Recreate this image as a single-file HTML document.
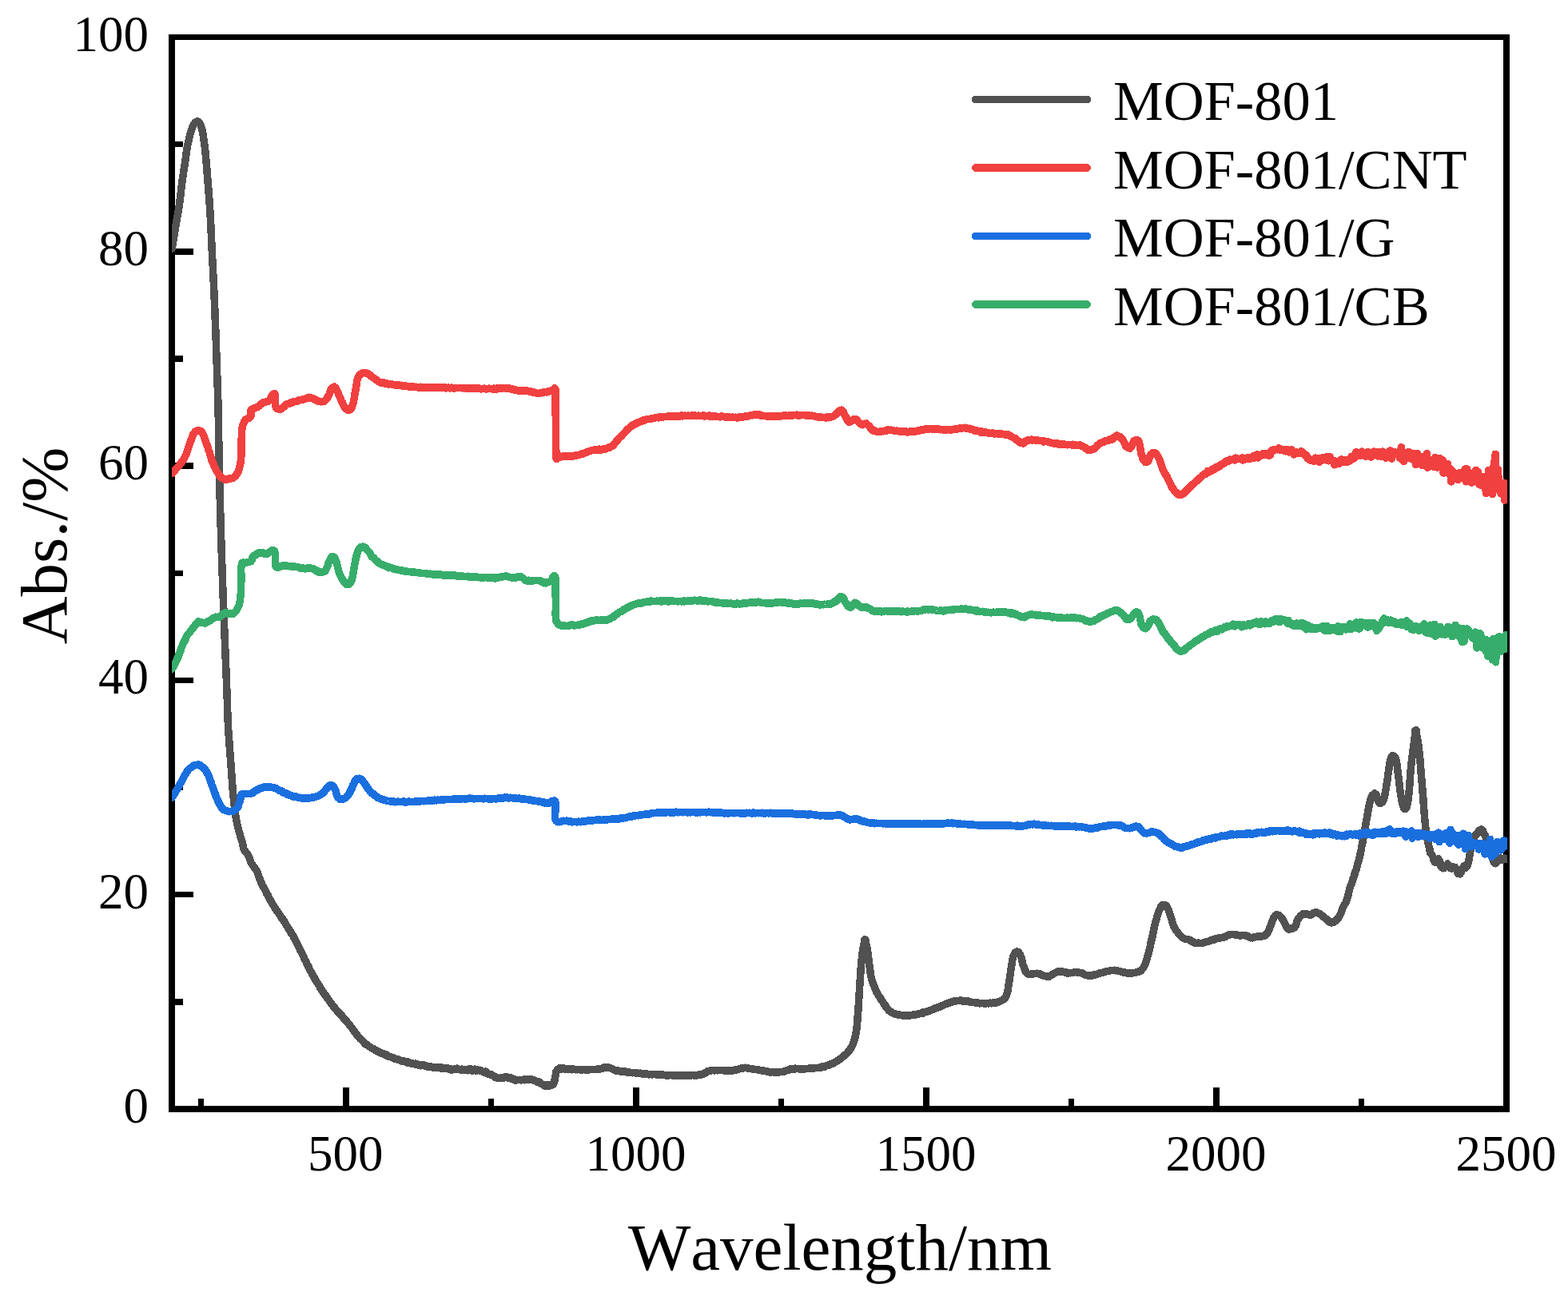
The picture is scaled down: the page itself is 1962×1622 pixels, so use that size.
<!DOCTYPE html>
<html lang="en">
<head>
<meta charset="utf-8">
<title>Absorption spectra of MOF-801 composites</title>
<style>
html,body{margin:0;padding:0;background:#ffffff;}
body{width:1962px;height:1622px;overflow:hidden;}
svg{display:block;}
text{font-family:"Liberation Serif",serif;fill:#000000;font-kerning:none;}
.tick{font-size:63px;}
.title{font-size:83px;}
.legend{font-size:70.5px;}
.curve{fill:none;stroke-linejoin:round;stroke-linecap:round;}
</style>
</head>
<body>
<svg width="1962" height="1622" viewBox="0 0 1962 1622">
<rect x="0" y="0" width="1962" height="1622" fill="#ffffff"/>
<defs><clipPath id="plotclip"><rect x="215.0" y="36.5" width="1671.0" height="1361.5"/></clipPath></defs>
<g id="axes" fill="#000000" shape-rendering="crispEdges">
<rect x="211" y="43" width="8" height="1349"/>
<rect x="1881" y="43" width="8" height="1349"/>
<rect x="211" y="43" width="1678" height="7"/>
<rect x="211" y="1384" width="1678" height="8"/>
<rect x="248" y="1375" width="7" height="10"/>
<rect x="429" y="1361" width="8" height="24"/>
<rect x="611" y="1375" width="7" height="10"/>
<rect x="792" y="1361" width="8" height="24"/>
<rect x="974" y="1375" width="7" height="10"/>
<rect x="1155" y="1361" width="8" height="24"/>
<rect x="1337" y="1375" width="7" height="10"/>
<rect x="1518" y="1361" width="8" height="24"/>
<rect x="1700" y="1375" width="7" height="10"/>
<rect x="218" y="1250" width="11" height="8"/>
<rect x="218" y="1116" width="24" height="7"/>
<rect x="218" y="982" width="11" height="7"/>
<rect x="218" y="848" width="24" height="7"/>
<rect x="218" y="714" width="11" height="7"/>
<rect x="218" y="579" width="24" height="8"/>
<rect x="218" y="445" width="11" height="8"/>
<rect x="218" y="311" width="24" height="8"/>
<rect x="218" y="177" width="11" height="7"/>
</g>
<g id="curves" clip-path="url(#plotclip)" shape-rendering="crispEdges">
<path class="curve" stroke="#515151" stroke-width="9.50" d="M215.0 311.5L215.1 311.0L215.3 310.0L215.4 309.0L215.6 308.0L215.8 307.0L215.9 306.0L216.1 305.0L216.3 304.0L216.4 303.0L216.6 302.0L216.8 301.0L216.9 300.0L217.1 299.0L217.3 298.0L217.4 297.0L217.6 296.0L217.8 295.0L217.9 294.0L218.1 293.0L218.3 292.0L218.4 291.0L218.6 290.1L218.8 289.1L218.9 288.1L219.1 287.1L219.3 286.1L219.4 285.1L219.6 284.1L219.8 283.1L219.9 282.1L220.1 281.1L220.3 280.1L220.5 279.1L220.6 278.1L220.8 277.1L221.0 276.1L221.2 275.1L221.4 274.1L221.5 273.1L221.7 272.1L221.9 271.1L222.1 270.1L222.3 269.1L222.5 268.1L222.6 267.1L222.8 266.1L223.0 265.1L223.2 264.1L223.3 263.1L223.5 262.1L223.7 261.1L223.8 260.1L224.0 259.1L224.2 258.1L224.3 257.1L224.4 256.1L224.6 255.1L224.7 254.1L224.8 253.1L225.0 252.1L225.1 251.1L225.2 250.1L225.3 249.1L225.5 248.1L225.6 247.1L225.7 246.1L225.8 245.1L225.9 244.1L226.0 243.1L226.2 242.1L226.3 241.0L226.4 240.0L226.5 239.0L226.6 238.0L226.7 237.0L226.8 236.0L226.9 235.0L227.1 234.0L227.2 233.0L227.3 232.0L227.4 231.0L227.5 230.0L227.7 229.0L227.8 228.0L227.9 227.0L228.1 226.0L228.2 224.9L228.4 223.9L228.5 222.9L228.7 221.9L228.8 220.9L229.0 219.8L229.2 218.8L229.3 217.8L229.5 216.8L229.6 215.8L229.8 214.7L229.9 213.7L230.1 212.7L230.3 211.7L230.4 210.7L230.6 209.7L230.7 208.6L230.9 207.6L231.0 206.6L231.2 205.6L231.3 204.6L231.5 203.6L231.6 202.5L231.8 201.5L231.9 200.5L232.1 199.5L232.2 198.5L232.3 197.5L232.5 196.5L232.6 195.5L232.7 194.5L232.9 193.4L233.0 192.4L233.1 191.4L233.3 190.4L233.4 189.4L233.6 188.4L233.7 187.4L233.9 186.4L234.1 185.4L234.3 184.4L234.4 183.4L234.6 182.4L234.9 181.4L235.1 180.4L235.3 179.4L235.5 178.5L235.7 177.5L235.9 176.5L236.2 175.5L236.4 174.5L236.6 173.5L236.8 172.5L237.1 171.5L237.3 170.4L237.5 169.4L237.8 168.4L238.0 167.4L238.3 166.4L238.6 165.4L238.9 164.4L239.2 163.4L239.5 162.4L239.9 161.5L240.2 160.5L240.6 159.6L241.0 158.6L241.4 157.7L241.9 156.8L242.4 155.9L243.0 155.0L243.6 154.1L244.4 153.2L245.2 152.5L246.1 152.1L247.1 152.0L248.1 152.4L249.0 153.1L249.7 154.1L250.3 155.0L250.8 155.9L251.2 156.9L251.6 157.8L251.9 158.8L252.2 159.8L252.5 160.9L252.7 161.9L253.0 162.9L253.2 163.9L253.4 164.9L253.6 165.9L253.8 166.9L254.0 167.9L254.1 168.9L254.3 169.9L254.4 170.9L254.6 172.0L254.7 173.0L254.9 174.0L255.0 175.0L255.1 176.0L255.3 177.0L255.4 178.0L255.6 179.0L255.7 180.0L255.9 180.9L256.0 181.9L256.1 182.9L256.3 183.9L256.4 184.9L256.5 185.9L256.6 186.9L256.7 187.9L256.8 188.9L256.9 189.9L257.0 190.9L257.1 191.9L257.2 192.9L257.3 193.9L257.4 194.9L257.5 195.9L257.6 196.9L257.6 197.9L257.7 198.9L257.8 199.8L257.9 200.8L258.0 201.8L258.1 202.8L258.2 203.8L258.3 204.8L258.3 205.8L258.4 206.8L258.5 207.8L258.6 208.8L258.7 209.8L258.8 210.8L258.8 211.8L258.9 212.8L259.0 213.8L259.1 214.8L259.2 215.8L259.2 216.8L259.3 217.8L259.4 218.8L259.5 219.8L259.6 220.8L259.6 221.8L259.7 222.8L259.8 223.8L259.9 224.8L260.0 225.9L260.0 226.9L260.1 227.9L260.2 228.9L260.3 229.9L260.4 230.9L260.5 231.9L260.5 232.9L260.6 233.9L260.7 234.9L260.8 235.9L260.8 236.9L260.9 237.9L261.0 238.9L261.1 239.9L261.2 240.9L261.2 241.9L261.3 243.0L261.4 244.0L261.5 245.0L261.5 246.0L261.6 247.0L261.7 248.0L261.8 249.0L261.8 250.0L261.9 251.0L262.0 252.0L262.1 253.0L262.1 254.0L262.2 255.0L262.3 256.0L262.3 257.0L262.4 258.0L262.5 259.1L262.5 260.1L262.6 261.1L262.7 262.1L262.7 263.1L262.8 264.1L262.9 265.1L262.9 266.1L263.0 267.1L263.1 268.1L263.1 269.1L263.2 270.1L263.2 271.1L263.3 272.1L263.3 273.1L263.4 274.1L263.4 275.2L263.5 276.2L263.6 277.2L263.6 278.2L263.7 279.2L263.7 280.2L263.8 281.2L263.8 282.2L263.8 283.2L263.9 284.2L263.9 285.2L264.0 286.2L264.0 287.2L264.1 288.2L264.1 289.2L264.2 290.2L264.2 291.3L264.3 292.3L264.3 293.3L264.4 294.3L264.4 295.3L264.4 296.3L264.5 297.3L264.5 298.3L264.6 299.3L264.6 300.3L264.7 301.3L264.7 302.3L264.8 303.3L264.8 304.3L264.8 305.3L264.9 306.3L264.9 307.4L265.0 308.4L265.0 309.4L265.1 310.4L265.1 311.4L265.2 312.4L265.2 313.4L265.3 314.4L265.3 315.4L265.4 316.4L265.4 317.4L265.5 318.4L265.5 319.4L265.6 320.4L265.6 321.4L265.7 322.4L265.7 323.5L265.8 324.5L265.8 325.5L265.9 326.5L265.9 327.5L266.0 328.5L266.0 329.5L266.1 330.5L266.2 331.5L266.2 332.5L266.3 333.5L266.3 334.5L266.4 335.5L266.4 336.5L266.5 337.5L266.5 338.5L266.6 339.5L266.6 340.6L266.7 341.6L266.7 342.6L266.8 343.6L266.8 344.6L266.9 345.6L266.9 346.6L267.0 347.6L267.0 348.6L267.1 349.6L267.1 350.6L267.2 351.6L267.2 352.6L267.3 353.6L267.3 354.6L267.4 355.6L267.4 356.7L267.5 357.7L267.5 358.7L267.6 359.7L267.6 360.7L267.7 361.7L267.7 362.7L267.8 363.7L267.8 364.7L267.9 365.7L267.9 366.7L268.0 367.7L268.0 368.7L268.0 369.7L268.1 370.7L268.1 371.7L268.2 372.8L268.2 373.8L268.3 374.8L268.3 375.8L268.4 376.8L268.4 377.8L268.4 378.8L268.5 379.8L268.5 380.8L268.6 381.8L268.6 382.8L268.6 383.8L268.7 384.8L268.7 385.8L268.8 386.8L268.8 387.8L268.8 388.8L268.9 389.9L268.9 390.9L269.0 391.9L269.0 392.9L269.0 393.9L269.1 394.9L269.1 395.9L269.2 396.9L269.2 397.9L269.2 398.9L269.3 399.9L269.3 400.9L269.4 401.9L269.4 402.9L269.4 403.9L269.5 404.9L269.5 406.0L269.6 407.0L269.6 408.0L269.6 409.0L269.7 410.0L269.7 411.0L269.7 412.0L269.8 413.0L269.8 414.0L269.9 415.0L269.9 416.0L269.9 417.0L270.0 418.0L270.0 419.0L270.0 420.0L270.1 421.0L270.1 422.1L270.2 423.1L270.2 424.1L270.2 425.1L270.3 426.1L270.3 427.1L270.3 428.1L270.4 429.1L270.4 430.1L270.4 431.1L270.5 432.1L270.5 433.1L270.5 434.1L270.6 435.1L270.6 436.1L270.6 437.1L270.7 438.1L270.7 439.2L270.7 440.2L270.8 441.2L270.8 442.2L270.8 443.2L270.9 444.2L270.9 445.2L270.9 446.2L271.0 447.2L271.0 448.2L271.0 449.2L271.1 450.2L271.1 451.2L271.1 452.2L271.2 453.2L271.2 454.2L271.2 455.3L271.3 456.3L271.3 457.3L271.3 458.3L271.4 459.3L271.4 460.3L271.4 461.3L271.5 462.3L271.5 463.3L271.6 464.3L271.6 465.3L271.6 466.3L271.7 467.3L271.7 468.3L271.7 469.3L271.8 470.3L271.8 471.3L271.8 472.3L271.9 473.3L271.9 474.3L271.9 475.4L272.0 476.4L272.0 477.4L272.0 478.4L272.1 479.4L272.1 480.4L272.1 481.4L272.2 482.4L272.2 483.4L272.2 484.4L272.3 485.4L272.3 486.4L272.3 487.4L272.4 488.4L272.4 489.4L272.4 490.4L272.5 491.4L272.5 492.4L272.5 493.4L272.6 494.4L272.6 495.4L272.6 496.4L272.7 497.4L272.7 498.4L272.7 499.5L272.8 500.5L272.8 501.5L272.8 502.5L272.8 503.5L272.9 504.5L272.9 505.5L272.9 506.5L272.9 507.5L273.0 508.5L273.0 509.5L273.0 510.5L273.0 511.5L273.1 512.5L273.1 513.5L273.1 514.5L273.1 515.5L273.1 516.5L273.2 517.5L273.2 518.5L273.2 519.5L273.2 520.5L273.2 521.5L273.3 522.5L273.3 523.5L273.3 524.5L273.3 525.5L273.3 526.5L273.4 527.5L273.4 528.5L273.4 529.5L273.4 530.5L273.4 531.5L273.4 532.5L273.5 533.5L273.5 534.5L273.5 535.5L273.5 536.5L273.5 537.5L273.5 538.5L273.6 539.5L273.6 540.5L273.6 541.5L273.6 542.5L273.6 543.5L273.6 544.5L273.7 545.5L273.7 546.5L273.7 547.5L273.7 548.5L273.7 549.5L273.7 550.5L273.7 551.5L273.8 552.5L273.8 553.5L273.8 554.5L273.8 555.5L273.8 556.5L273.8 557.5L273.9 558.5L273.9 559.5L273.9 560.5L273.9 561.5L273.9 562.5L273.9 563.5L274.0 564.5L274.0 565.5L274.0 566.5L274.0 567.5L274.0 568.5L274.0 569.5L274.1 570.5L274.1 571.5L274.1 572.5L274.1 573.5L274.1 574.5L274.1 575.5L274.2 576.5L274.2 577.5L274.2 578.5L274.2 579.5L274.2 580.5L274.2 581.5L274.3 582.5L274.3 583.5L274.3 584.5L274.3 585.5L274.3 586.5L274.4 587.5L274.4 588.5L274.4 589.5L274.4 590.5L274.4 591.5L274.5 592.5L274.5 593.5L274.5 594.5L274.5 595.5L274.6 596.5L274.6 597.5L274.6 598.5L274.6 599.5L274.6 600.5L274.7 601.5L274.7 602.5L274.7 603.6L274.7 604.6L274.8 605.6L274.8 606.6L274.8 607.6L274.8 608.6L274.9 609.6L274.9 610.6L274.9 611.6L274.9 612.6L275.0 613.6L275.0 614.6L275.0 615.6L275.0 616.6L275.1 617.6L275.1 618.6L275.1 619.6L275.1 620.6L275.2 621.7L275.2 622.7L275.2 623.7L275.3 624.7L275.3 625.7L275.3 626.7L275.3 627.7L275.4 628.7L275.4 629.7L275.4 630.7L275.4 631.7L275.5 632.7L275.5 633.7L275.5 634.7L275.6 635.7L275.6 636.7L275.6 637.7L275.6 638.7L275.7 639.7L275.7 640.8L275.7 641.8L275.8 642.8L275.8 643.8L275.8 644.8L275.8 645.8L275.9 646.8L275.9 647.8L275.9 648.8L276.0 649.8L276.0 650.8L276.0 651.8L276.0 652.8L276.1 653.8L276.1 654.8L276.1 655.8L276.2 656.8L276.2 657.8L276.2 658.9L276.3 659.9L276.3 660.9L276.3 661.9L276.3 662.9L276.4 663.9L276.4 664.9L276.4 665.9L276.5 666.9L276.5 667.9L276.5 668.9L276.6 669.9L276.6 670.9L276.6 671.9L276.7 672.9L276.7 673.9L276.7 674.9L276.7 675.9L276.8 676.9L276.8 677.9L276.8 678.9L276.9 679.9L276.9 680.9L276.9 681.9L277.0 682.9L277.0 683.9L277.0 684.9L277.1 685.9L277.1 686.9L277.1 687.9L277.2 688.9L277.2 689.9L277.2 690.9L277.3 691.9L277.3 692.9L277.3 693.9L277.4 694.9L277.4 695.9L277.4 696.9L277.5 697.9L277.5 698.9L277.5 699.9L277.6 700.9L277.6 701.9L277.6 702.9L277.7 703.9L277.7 704.9L277.7 705.9L277.8 706.9L277.8 707.9L277.8 708.9L277.9 709.9L277.9 710.9L277.9 711.9L278.0 712.9L278.0 713.9L278.0 714.9L278.1 715.9L278.1 716.9L278.1 717.9L278.2 718.9L278.2 719.9L278.3 720.9L278.3 721.9L278.3 722.9L278.4 723.9L278.4 724.9L278.4 725.9L278.5 726.9L278.5 727.9L278.5 728.9L278.6 729.9L278.6 730.9L278.6 731.9L278.7 732.9L278.7 733.9L278.7 734.9L278.8 735.9L278.8 736.9L278.9 737.9L278.9 738.9L278.9 739.9L279.0 740.9L279.0 741.9L279.0 742.9L279.1 743.9L279.1 744.9L279.1 745.9L279.2 746.9L279.2 747.9L279.3 748.9L279.3 749.9L279.3 750.9L279.4 751.9L279.4 752.9L279.4 753.9L279.5 754.9L279.5 755.9L279.6 756.9L279.6 757.9L279.6 758.9L279.7 759.9L279.7 760.9L279.8 761.9L279.8 762.9L279.8 763.9L279.9 764.9L279.9 765.9L279.9 766.9L280.0 767.9L280.0 768.9L280.1 769.9L280.1 770.9L280.1 771.9L280.2 773.0L280.2 774.0L280.3 775.0L280.3 776.0L280.3 777.0L280.4 778.0L280.4 779.0L280.5 780.0L280.5 781.0L280.5 782.0L280.6 783.0L280.6 784.0L280.7 785.0L280.7 786.0L280.7 787.0L280.8 788.0L280.8 789.0L280.9 790.0L280.9 791.0L280.9 792.0L281.0 793.0L281.0 794.0L281.1 795.0L281.1 796.0L281.1 797.0L281.2 798.0L281.2 799.0L281.3 800.0L281.3 801.0L281.3 802.0L281.4 803.0L281.4 804.0L281.5 805.0L281.5 806.0L281.5 807.0L281.6 808.0L281.6 809.0L281.7 810.0L281.7 811.0L281.7 812.0L281.8 813.0L281.8 814.0L281.9 815.0L281.9 816.0L281.9 817.0L282.0 818.0L282.0 819.1L282.1 820.1L282.1 821.1L282.2 822.1L282.2 823.1L282.2 824.1L282.3 825.1L282.3 826.1L282.4 827.1L282.4 828.1L282.4 829.1L282.5 830.1L282.5 831.1L282.6 832.1L282.6 833.1L282.6 834.1L282.7 835.1L282.7 836.1L282.8 837.1L282.8 838.1L282.9 839.1L282.9 840.1L282.9 841.1L283.0 842.1L283.0 843.1L283.1 844.1L283.1 845.1L283.1 846.1L283.2 847.1L283.2 848.1L283.3 849.1L283.3 850.2L283.3 851.2L283.4 852.2L283.4 853.2L283.5 854.2L283.5 855.2L283.5 856.2L283.6 857.2L283.6 858.2L283.7 859.2L283.7 860.2L283.7 861.2L283.8 862.2L283.8 863.2L283.9 864.2L283.9 865.2L283.9 866.2L284.0 867.2L284.0 868.2L284.0 869.2L284.1 870.2L284.1 871.2L284.2 872.2L284.2 873.3L284.2 874.3L284.3 875.3L284.3 876.3L284.3 877.3L284.4 878.3L284.4 879.3L284.4 880.3L284.5 881.3L284.5 882.3L284.5 883.3L284.5 884.3L284.6 885.3L284.6 886.3L284.6 887.4L284.7 888.4L284.7 889.4L284.7 890.4L284.8 891.4L284.8 892.4L284.8 893.4L284.9 894.4L284.9 895.4L284.9 896.4L285.0 897.4L285.0 898.4L285.1 899.4L285.1 900.4L285.1 901.4L285.2 902.5L285.2 903.5L285.3 904.5L285.3 905.5L285.3 906.5L285.4 907.5L285.4 908.5L285.5 909.5L285.5 910.5L285.6 911.5L285.6 912.5L285.7 913.6L285.8 914.6L285.8 915.6L285.9 916.6L286.0 917.6L286.0 918.6L286.1 919.6L286.2 920.7L286.3 921.7L286.4 922.7L286.4 923.7L286.5 924.7L286.6 925.7L286.7 926.7L286.8 927.8L286.8 928.8L286.9 929.8L287.0 930.8L287.1 931.8L287.1 932.8L287.2 933.8L287.3 934.9L287.4 935.9L287.4 936.9L287.5 937.9L287.6 938.9L287.7 939.9L287.7 940.9L287.8 941.9L287.9 943.0L288.0 944.0L288.1 945.0L288.1 946.0L288.2 947.0L288.3 948.0L288.4 949.0L288.4 950.0L288.5 951.1L288.6 952.1L288.7 953.1L288.7 954.1L288.8 955.1L288.9 956.1L289.0 957.1L289.0 958.2L289.1 959.2L289.2 960.2L289.3 961.2L289.3 962.2L289.4 963.2L289.5 964.2L289.6 965.2L289.6 966.2L289.7 967.3L289.8 968.3L289.8 969.3L289.9 970.3L290.0 971.3L290.0 972.3L290.1 973.3L290.2 974.3L290.3 975.3L290.3 976.3L290.4 977.4L290.5 978.4L290.5 979.4L290.6 980.4L290.7 981.4L290.8 982.4L290.8 983.4L290.9 984.4L291.0 985.4L291.1 986.4L291.2 987.5L291.2 988.5L291.3 989.5L291.4 990.5L291.5 991.5L291.6 992.5L291.7 993.5L291.8 994.5L291.9 995.5L292.0 996.5L292.1 997.5L292.2 998.6L292.3 999.6L292.4 1000.6L292.5 1001.6L292.6 1002.6L292.7 1003.6L292.8 1004.6L292.9 1005.6L293.0 1006.6L293.1 1007.6L293.2 1008.6L293.3 1009.6L293.4 1010.7L293.6 1011.7L293.7 1012.7L293.8 1013.7L293.9 1014.7L294.1 1015.7L294.2 1016.7L294.3 1017.7L294.5 1018.7L294.6 1019.7L294.8 1020.7L294.9 1021.7L295.1 1022.7L295.3 1023.7L295.4 1024.7L295.6 1025.7L295.8 1026.7L296.0 1027.7L296.2 1028.7L296.4 1029.7L296.6 1030.7L296.9 1031.7L297.1 1032.7L297.3 1033.7L297.5 1034.7L297.8 1035.7L298.0 1036.7L298.3 1037.7L298.5 1038.7L298.8 1039.7L299.0 1040.7L299.3 1041.6L299.6 1042.6L299.9 1043.6L300.2 1044.5L300.5 1045.5L300.8 1046.5L301.1 1047.4L301.4 1048.4L301.7 1049.4L302.0 1050.3L302.3 1051.3L302.6 1052.2L302.9 1053.2L303.2 1054.2L303.5 1055.2L303.7 1056.2L303.9 1057.3L304.1 1058.3L304.3 1059.4L304.5 1060.4L304.8 1061.4L305.1 1062.3L305.5 1063.3L306.0 1064.3L306.6 1065.1L307.2 1065.9L307.9 1066.8L308.6 1067.6L309.3 1068.4L309.8 1069.4L310.3 1070.1L310.8 1071.0L311.2 1071.9L311.6 1072.8L312.0 1073.8L312.3 1074.8L312.7 1075.9L313.0 1076.8L313.4 1077.6L313.8 1078.6L314.2 1079.6L314.7 1080.5L315.2 1081.3L315.7 1082.0L316.3 1082.9L316.9 1083.7L317.5 1084.4L318.1 1085.2L318.7 1086.4L319.3 1087.2L319.9 1087.9L320.4 1088.7L320.9 1089.4L321.3 1090.2L321.8 1091.0L322.2 1092.3L322.5 1093.5L322.9 1094.4L323.3 1095.3L323.6 1096.1L323.9 1096.9L324.3 1098.0L324.6 1099.1L325.0 1100.0L325.3 1100.8L325.7 1101.8L326.1 1102.9L326.5 1104.0L326.9 1104.9L327.4 1105.9L327.8 1106.8L328.3 1107.7L328.7 1108.6L329.2 1109.5L329.6 1110.2L330.1 1111.0L330.6 1112.0L331.1 1113.0L331.5 1113.9L332.0 1114.8L332.5 1115.8L333.0 1116.8L333.5 1117.7L333.9 1118.7L334.4 1119.8L334.9 1120.1L335.4 1120.5L335.8 1121.9L336.3 1123.0L336.8 1123.8L337.3 1125.1L337.8 1126.1L338.2 1126.7L338.7 1127.1L339.2 1127.9L339.7 1129.2L340.2 1129.9L340.7 1130.8L341.2 1132.0L341.8 1132.5L342.3 1133.2L342.8 1134.3L343.3 1135.1L343.9 1136.0L344.4 1136.8L345.0 1137.5L345.5 1138.1L346.1 1139.1L346.6 1140.4L347.2 1141.3L347.8 1141.9L348.4 1142.5L348.9 1143.3L349.5 1144.4L350.1 1145.3L350.7 1146.0L351.2 1146.8L351.8 1147.7L352.4 1148.8L352.9 1149.3L353.5 1149.9L354.1 1150.8L354.6 1151.3L355.2 1152.3L355.7 1153.3L356.2 1154.1L356.8 1155.0L357.3 1155.8L357.9 1156.9L358.4 1158.3L358.9 1158.9L359.5 1159.5L360.0 1160.4L360.5 1161.7L361.1 1162.5L361.6 1162.9L362.1 1163.4L362.7 1164.6L363.2 1165.7L363.7 1166.2L364.2 1167.6L364.7 1168.5L365.2 1168.8L365.8 1169.8L366.3 1170.6L366.8 1171.3L367.3 1172.5L367.8 1173.5L368.3 1174.2L368.7 1175.2L369.2 1176.2L369.7 1177.0L370.2 1177.9L370.7 1178.9L371.1 1180.0L371.6 1181.0L372.0 1181.9L372.5 1182.7L372.9 1183.4L373.4 1184.2L373.8 1185.0L374.3 1185.9L374.7 1187.1L375.2 1188.3L375.6 1189.6L376.1 1190.3L376.5 1190.7L377.0 1191.5L377.4 1192.4L377.8 1193.3L378.3 1194.2L378.7 1195.1L379.2 1196.0L379.7 1197.0L380.1 1198.0L380.6 1199.2L381.0 1200.4L381.4 1201.0L381.9 1201.8L382.3 1202.6L382.8 1203.3L383.2 1204.1L383.7 1205.3L384.1 1206.4L384.6 1207.3L385.0 1208.1L385.5 1208.8L385.9 1209.7L386.4 1210.7L386.8 1211.8L387.3 1212.9L387.7 1214.0L388.2 1214.8L388.7 1215.6L389.2 1216.4L389.7 1217.2L390.1 1218.1L390.6 1219.1L391.1 1219.9L391.6 1220.9L392.1 1222.2L392.6 1222.7L393.1 1223.1L393.6 1224.1L394.1 1225.2L394.6 1226.3L395.1 1226.8L395.6 1227.9L396.2 1228.9L396.7 1229.5L397.2 1230.3L397.7 1231.1L398.2 1231.9L398.8 1232.5L399.3 1233.3L399.8 1234.4L400.4 1235.9L400.9 1236.7L401.4 1237.3L402.0 1238.1L402.5 1239.0L403.1 1239.9L403.6 1240.7L404.2 1241.6L404.7 1242.2L405.3 1242.9L405.9 1243.8L406.4 1244.9L407.0 1245.6L407.6 1246.1L408.1 1246.9L408.7 1247.9L409.3 1248.7L409.9 1249.7L410.5 1250.6L411.1 1251.1L411.7 1251.8L412.2 1252.8L412.8 1253.9L413.5 1254.9L414.1 1255.4L414.7 1256.2L415.3 1257.0L415.9 1257.8L416.5 1258.8L417.2 1259.7L417.8 1260.5L418.5 1260.5L419.1 1262.0L419.8 1262.6L420.5 1263.2L421.1 1264.3L421.8 1265.1L422.5 1265.6L423.1 1266.8L423.8 1267.2L424.5 1267.4L425.2 1268.6L425.8 1269.5L426.5 1270.1L427.2 1270.4L427.8 1271.1L428.5 1272.2L429.2 1273.0L429.8 1273.6L430.5 1275.1L431.1 1275.4L431.8 1276.1L432.4 1276.9L433.1 1277.6L433.7 1278.3L434.4 1279.1L435.0 1280.1L435.7 1280.9L436.3 1281.6L437.0 1282.4L437.6 1283.0L438.2 1283.8L438.9 1284.9L439.5 1285.4L440.1 1286.4L440.7 1287.0L441.3 1287.8L441.9 1288.7L442.5 1289.7L443.1 1290.1L443.7 1291.5L444.3 1292.5L444.9 1292.8L445.5 1293.6L446.1 1294.3L446.7 1295.4L447.3 1296.5L447.9 1297.2L448.6 1297.6L449.2 1298.0L449.9 1298.9L450.6 1300.0L451.3 1300.5L452.0 1301.0L452.7 1301.7L453.5 1302.5L454.2 1303.4L455.0 1304.1L455.8 1304.8L456.5 1306.1L457.3 1306.8L458.1 1306.7L458.9 1307.6L459.8 1308.1L460.6 1308.7L461.4 1309.5L462.3 1309.8L463.1 1310.3L464.0 1310.9L464.8 1311.8L465.7 1312.3L466.6 1312.2L467.5 1312.9L468.4 1313.6L469.2 1314.2L470.1 1314.8L471.0 1315.0L471.9 1315.1L472.9 1316.1L473.8 1316.6L474.7 1316.5L475.6 1317.3L476.5 1317.5L477.4 1318.1L478.3 1318.7L479.2 1318.7L480.2 1318.7L481.1 1319.2L482.0 1320.4L482.9 1320.6L483.8 1320.2L484.8 1321.2L485.7 1322.2L486.6 1322.6L487.6 1322.7L488.5 1322.8L489.4 1322.9L490.4 1323.4L491.3 1323.6L492.3 1324.3L493.2 1324.6L494.1 1325.5L495.1 1325.6L496.0 1325.7L497.0 1325.4L498.0 1326.1L498.9 1326.6L499.9 1326.9L500.9 1327.0L501.9 1327.5L502.9 1327.3L503.8 1328.6L504.8 1327.7L505.8 1328.6L506.8 1328.7L507.8 1328.6L508.8 1329.3L509.8 1330.3L510.7 1329.3L511.7 1330.1L512.7 1330.1L513.7 1330.8L514.7 1330.4L515.7 1331.1L516.7 1331.7L517.7 1331.2L518.7 1331.5L519.7 1331.1L520.7 1332.5L521.7 1332.7L522.7 1332.0L523.7 1333.0L524.7 1332.3L525.7 1332.6L526.7 1333.7L527.7 1333.2L528.7 1333.3L529.7 1332.8L530.7 1333.8L531.7 1334.1L532.7 1333.7L533.7 1334.2L534.7 1334.9L535.7 1335.3L536.7 1335.0L537.7 1334.6L538.7 1335.5L539.7 1335.1L540.7 1335.2L541.7 1335.4L542.7 1336.4L543.7 1335.7L544.7 1335.5L545.7 1336.0L546.7 1335.4L547.7 1336.7L548.7 1336.7L549.8 1335.9L550.8 1336.9L551.8 1337.1L552.8 1336.0L553.8 1337.5L554.8 1336.5L555.8 1337.2L556.8 1337.3L557.8 1337.1L558.8 1337.7L559.8 1336.9L560.8 1337.1L561.8 1338.0L562.8 1338.2L563.8 1337.7L564.8 1339.4L565.8 1338.3L566.8 1338.5L567.8 1338.6L568.8 1338.0L569.8 1338.5L570.8 1338.2L571.8 1337.3L572.8 1338.3L573.8 1338.3L574.9 1338.5L575.9 1338.4L576.9 1339.1L577.9 1338.1L578.9 1338.5L579.9 1338.9L580.9 1339.1L581.9 1338.4L582.9 1339.2L583.9 1338.4L584.9 1338.4L585.9 1339.8L586.9 1338.8L587.9 1337.4L588.9 1338.3L590.0 1338.6L591.0 1340.2L592.0 1339.1L593.0 1338.5L594.1 1338.2L595.1 1338.7L596.1 1340.2L597.1 1338.9L598.1 1339.5L599.1 1339.8L600.1 1339.3L601.1 1340.5L602.0 1339.8L603.0 1340.9L604.0 1341.1L605.0 1341.5L605.9 1342.1L606.9 1341.3L607.8 1341.0L608.8 1342.2L609.8 1343.7L610.7 1344.0L611.7 1344.7L612.6 1344.3L613.6 1345.0L614.5 1344.5L615.4 1345.8L616.3 1346.1L617.2 1346.3L618.1 1346.6L619.0 1348.0L619.9 1348.4L620.9 1348.8L621.8 1348.6L622.8 1349.1L623.8 1349.5L624.8 1349.4L625.8 1349.4L626.8 1348.7L627.9 1349.1L628.9 1349.7L629.9 1348.6L630.9 1349.0L632.0 1348.7L633.0 1347.4L634.0 1348.2L635.0 1348.7L636.0 1349.1L637.0 1348.6L638.0 1348.8L638.9 1349.9L639.9 1349.3L640.9 1350.4L641.9 1350.4L642.8 1350.3L643.8 1350.6L644.8 1352.4L645.8 1351.6L646.8 1351.5L647.8 1351.3L648.8 1351.3L649.8 1351.6L650.8 1351.6L651.9 1351.9L652.9 1351.4L653.9 1351.5L654.9 1351.6L655.9 1350.9L656.9 1351.7L657.9 1350.8L658.9 1350.6L660.0 1351.0L661.0 1350.7L662.0 1351.0L663.0 1350.4L664.0 1350.4L665.0 1351.5L666.1 1351.6L667.1 1351.3L668.1 1352.1L669.1 1352.4L670.1 1352.7L671.0 1353.1L672.0 1354.0L673.0 1353.4L673.9 1353.9L674.8 1354.9L675.6 1354.5L676.5 1355.6L677.4 1356.8L678.3 1357.0L679.2 1357.0L680.1 1358.1L681.1 1358.9L682.1 1357.9L683.2 1357.6L684.3 1358.8L685.4 1358.1L686.5 1359.2L687.6 1358.9L688.6 1357.4L689.6 1358.2L690.5 1357.3L691.4 1357.6L692.2 1357.4L692.8 1356.5L693.2 1355.2L693.6 1353.8L693.9 1352.6L694.1 1351.6L694.2 1350.5L694.4 1349.4L694.5 1348.3L694.7 1347.5L694.9 1346.8L695.1 1346.1L695.3 1345.2L695.4 1344.1L695.6 1342.9L695.7 1341.9L696.0 1340.9L696.5 1340.1L697.2 1339.4L698.1 1338.3L699.0 1337.6L700.0 1336.9L701.0 1338.5L702.0 1337.2L703.1 1337.5L704.2 1337.7L705.2 1336.9L706.3 1337.1L707.3 1338.5L708.3 1337.6L709.3 1338.4L710.4 1338.5L711.4 1338.4L712.4 1337.5L713.4 1337.7L714.4 1337.8L715.4 1338.9L716.5 1337.7L717.5 1338.0L718.5 1338.7L719.5 1338.6L720.5 1338.8L721.5 1338.5L722.5 1338.8L723.6 1338.5L724.6 1338.6L725.6 1338.8L726.6 1338.8L727.6 1339.3L728.6 1338.6L729.7 1338.5L730.7 1338.5L731.7 1338.4L732.7 1339.0L733.7 1338.7L734.8 1338.8L735.8 1339.0L736.8 1338.9L737.8 1338.6L738.8 1338.6L739.8 1338.5L740.9 1338.4L741.9 1338.5L742.9 1338.5L743.9 1338.4L744.9 1338.4L745.9 1338.5L747.0 1338.0L748.0 1338.2L749.0 1337.9L750.0 1338.1L751.0 1337.4L752.0 1337.6L753.0 1337.7L754.1 1336.7L755.0 1336.8L756.0 1335.8L757.1 1335.8L758.1 1335.8L759.1 1335.4L760.1 1336.1L761.1 1336.2L762.1 1336.2L763.1 1336.3L764.1 1336.7L765.0 1337.4L766.0 1337.7L767.0 1338.2L767.9 1338.9L768.9 1339.2L769.9 1339.3L770.9 1340.1L771.9 1340.0L772.9 1340.0L773.9 1340.2L774.9 1340.7L775.8 1340.7L776.8 1341.3L777.8 1340.5L778.8 1340.6L779.8 1340.7L780.8 1341.5L781.8 1341.7L782.8 1341.2L783.8 1341.4L784.8 1342.1L785.8 1342.1L786.8 1342.2L787.8 1342.1L788.8 1342.2L789.8 1342.5L790.8 1342.4L791.8 1342.8L792.8 1342.3L793.8 1342.7L794.8 1342.8L795.9 1343.0L796.9 1343.4L797.9 1343.1L798.9 1343.7L799.9 1343.5L800.9 1343.2L802.0 1343.5L803.0 1344.0L804.0 1343.9L805.0 1343.8L806.0 1343.8L807.1 1343.8L808.1 1344.4L809.1 1343.8L810.1 1344.4L811.1 1344.6L812.2 1344.9L813.2 1344.6L814.2 1344.5L815.2 1344.3L816.2 1344.9L817.2 1344.5L818.2 1344.6L819.2 1344.4L820.2 1344.5L821.2 1344.9L822.2 1345.1L823.2 1345.1L824.2 1344.9L825.2 1345.2L826.2 1345.1L827.2 1344.8L828.2 1345.2L829.2 1345.6L830.2 1345.1L831.2 1345.5L832.2 1345.8L833.3 1345.3L834.3 1345.6L835.3 1346.2L836.3 1346.0L837.3 1345.4L838.3 1345.6L839.3 1345.6L840.3 1345.5L841.3 1345.7L842.3 1346.3L843.3 1345.9L844.3 1345.8L845.3 1345.6L846.3 1345.9L847.3 1346.1L848.3 1346.4L849.3 1345.9L850.3 1345.5L851.3 1345.9L852.3 1345.8L853.3 1345.9L854.3 1345.9L855.3 1345.7L856.3 1345.7L857.3 1346.3L858.3 1345.9L859.3 1345.5L860.3 1346.0L861.3 1345.8L862.3 1346.1L863.3 1345.9L864.3 1345.9L865.3 1345.8L866.3 1345.7L867.3 1345.7L868.3 1346.0L869.3 1345.3L870.3 1345.9L871.3 1345.8L872.3 1345.9L873.3 1345.4L874.3 1345.1L875.3 1344.9L876.3 1344.7L877.3 1344.9L878.3 1344.8L879.3 1344.5L880.2 1343.6L881.1 1343.4L882.1 1342.8L883.0 1342.9L883.9 1342.2L884.8 1341.1L885.8 1340.7L886.7 1340.4L887.7 1340.1L888.7 1340.1L889.7 1339.9L890.7 1339.5L891.7 1339.3L892.7 1339.6L893.7 1339.9L894.7 1339.7L895.7 1339.5L896.8 1339.6L897.8 1339.8L898.8 1339.4L899.8 1339.5L900.8 1339.6L901.8 1339.5L902.8 1339.7L903.8 1339.6L904.9 1339.5L905.9 1339.9L906.9 1339.7L907.9 1339.7L908.9 1340.1L909.9 1340.0L910.9 1339.9L911.9 1339.8L913.0 1340.0L914.0 1339.9L915.0 1340.7L916.0 1340.0L917.0 1339.5L918.0 1339.7L919.0 1339.6L920.0 1339.2L921.0 1338.4L922.0 1338.8L923.0 1338.5L923.9 1338.5L924.9 1337.9L925.9 1337.7L926.9 1337.2L927.9 1336.9L928.9 1336.9L929.9 1337.0L930.9 1336.4L931.9 1336.6L932.9 1336.2L933.9 1336.8L934.9 1336.8L936.0 1336.9L937.0 1337.2L938.0 1337.4L939.0 1337.4L940.0 1337.6L941.0 1337.9L942.0 1337.7L943.0 1338.4L944.0 1338.3L945.0 1338.5L946.0 1338.4L947.0 1338.7L948.0 1338.8L949.0 1338.8L950.0 1339.2L951.0 1339.5L952.0 1339.5L953.0 1339.9L954.0 1339.9L955.0 1339.9L956.0 1340.4L957.0 1340.7L958.0 1340.6L959.0 1340.5L960.1 1341.1L961.1 1341.1L962.1 1341.5L963.1 1341.9L964.1 1341.6L965.1 1341.9L966.1 1341.6L967.1 1341.6L968.1 1341.9L969.1 1342.0L970.1 1341.9L971.1 1341.9L972.1 1341.9L973.1 1342.0L974.1 1341.8L975.1 1341.8L976.1 1341.6L977.1 1341.3L978.1 1341.7L979.1 1341.5L980.1 1341.7L981.1 1340.9L982.1 1340.9L983.0 1340.3L984.0 1339.9L984.9 1339.8L985.9 1339.3L986.8 1339.2L987.8 1338.6L988.8 1337.9L989.8 1338.2L990.8 1337.9L991.8 1337.4L992.8 1337.7L993.8 1338.1L994.8 1337.2L995.8 1337.7L996.8 1337.5L997.8 1337.6L998.8 1337.5L999.8 1337.9L1000.9 1337.9L1001.9 1337.6L1002.9 1338.0L1003.9 1337.8L1004.9 1337.5L1005.9 1337.9L1006.9 1337.9L1007.9 1337.6L1008.9 1337.5L1009.9 1337.5L1010.9 1337.6L1011.9 1337.5L1012.9 1337.0L1013.9 1337.1L1014.9 1337.0L1015.9 1337.0L1016.9 1337.2L1017.9 1337.1L1018.9 1337.0L1019.9 1336.5L1020.9 1336.5L1021.9 1336.6L1022.9 1336.6L1023.9 1336.3L1024.9 1336.2L1025.8 1335.9L1026.8 1336.2L1027.8 1335.8L1028.8 1335.1L1029.8 1334.7L1030.8 1334.9L1031.8 1335.1L1032.8 1334.2L1033.8 1333.8L1034.8 1333.4L1035.7 1333.5L1036.7 1333.1L1037.7 1333.0L1038.6 1332.1L1039.6 1331.9L1040.5 1331.5L1041.4 1331.3L1042.4 1330.5L1043.3 1330.4L1044.2 1329.7L1045.1 1329.2L1046.0 1328.8L1046.9 1328.1L1047.8 1327.5L1048.7 1327.4L1049.6 1326.5L1050.4 1326.0L1051.3 1325.2L1052.1 1324.8L1052.9 1323.8L1053.7 1323.5L1054.5 1322.4L1055.3 1322.1L1056.1 1321.8L1056.9 1320.8L1057.6 1320.0L1058.3 1319.9L1059.1 1318.6L1059.8 1318.4L1060.5 1317.1L1061.2 1316.1L1061.8 1316.0L1062.5 1315.1L1063.1 1314.1L1063.7 1313.5L1064.3 1312.8L1064.8 1311.4L1065.3 1310.5L1065.8 1309.8L1066.3 1308.8L1066.7 1307.9L1067.1 1307.1L1067.5 1306.2L1067.9 1305.2L1068.2 1304.1L1068.5 1302.9L1068.8 1301.9L1069.1 1301.0L1069.4 1300.2L1069.7 1299.3L1069.9 1298.4L1070.1 1297.4L1070.4 1296.4L1070.6 1295.3L1070.8 1294.2L1071.0 1293.1L1071.2 1292.2L1071.4 1291.3L1071.5 1290.3L1071.7 1289.4L1071.8 1288.4L1072.0 1287.3L1072.1 1286.3L1072.2 1285.3L1072.3 1284.2L1072.4 1283.2L1072.5 1282.1L1072.6 1281.1L1072.6 1280.2L1072.7 1279.2L1072.8 1278.2L1072.9 1277.2L1072.9 1276.2L1073.0 1275.2L1073.1 1274.2L1073.1 1273.3L1073.2 1272.3L1073.3 1271.3L1073.4 1270.3L1073.5 1269.3L1073.5 1268.3L1073.6 1267.3L1073.7 1266.3L1073.8 1265.4L1073.8 1264.4L1073.9 1263.4L1074.0 1262.4L1074.0 1261.4L1074.1 1260.4L1074.2 1259.4L1074.2 1258.4L1074.3 1257.3L1074.3 1256.3L1074.4 1255.3L1074.5 1254.3L1074.5 1253.3L1074.6 1252.3L1074.6 1251.3L1074.7 1250.3L1074.8 1249.3L1074.8 1248.3L1074.9 1247.3L1075.0 1246.4L1075.0 1245.4L1075.1 1244.4L1075.1 1243.4L1075.2 1242.5L1075.3 1241.5L1075.3 1240.5L1075.4 1239.5L1075.5 1238.6L1075.5 1237.6L1075.6 1236.5L1075.7 1235.5L1075.7 1234.5L1075.8 1233.5L1075.9 1232.5L1075.9 1231.5L1076.0 1230.5L1076.0 1229.4L1076.1 1228.4L1076.2 1227.4L1076.2 1226.4L1076.3 1225.4L1076.4 1224.4L1076.4 1223.4L1076.5 1222.4L1076.6 1221.3L1076.6 1220.3L1076.7 1219.3L1076.8 1218.3L1076.8 1217.3L1076.9 1216.3L1077.0 1215.3L1077.0 1214.3L1077.1 1213.3L1077.2 1212.3L1077.3 1211.3L1077.3 1210.2L1077.4 1209.2L1077.5 1208.2L1077.6 1207.2L1077.7 1206.2L1077.8 1205.2L1077.9 1204.2L1078.0 1203.2L1078.1 1202.1L1078.2 1201.1L1078.3 1200.1L1078.4 1199.1L1078.5 1198.0L1078.6 1197.0L1078.7 1195.9L1078.8 1194.9L1079.0 1193.8L1079.1 1192.7L1079.2 1191.7L1079.3 1190.7L1079.5 1189.8L1079.6 1188.9L1079.7 1188.1L1079.9 1187.2L1080.0 1186.3L1080.2 1185.3L1080.4 1184.4L1080.6 1183.5L1080.9 1182.4L1081.1 1181.3L1081.4 1180.1L1081.6 1179.0L1081.6 1177.7L1081.7 1176.5L1082.3 1175.9L1083.0 1176.5L1083.2 1177.7L1083.2 1179.0L1083.4 1180.2L1083.7 1181.3L1084.0 1182.3L1084.2 1183.2L1084.5 1184.1L1084.7 1185.0L1084.9 1185.9L1085.1 1186.8L1085.2 1187.8L1085.4 1188.8L1085.5 1189.9L1085.7 1190.9L1085.8 1192.0L1085.9 1193.0L1086.1 1194.1L1086.2 1195.1L1086.3 1196.1L1086.5 1197.0L1086.6 1198.0L1086.7 1199.0L1086.8 1200.1L1087.0 1201.1L1087.1 1202.2L1087.3 1203.2L1087.4 1204.2L1087.5 1205.2L1087.7 1206.2L1087.8 1207.2L1087.9 1208.1L1088.0 1209.1L1088.1 1210.1L1088.3 1211.0L1088.4 1212.0L1088.5 1213.0L1088.6 1214.0L1088.8 1215.0L1088.9 1216.0L1089.0 1217.1L1089.2 1218.2L1089.4 1219.4L1089.6 1220.5L1089.7 1221.7L1089.9 1222.6L1090.2 1223.6L1090.4 1224.5L1090.7 1225.3L1090.9 1226.0L1091.2 1226.7L1091.5 1227.7L1091.8 1228.7L1092.1 1229.8L1092.5 1230.8L1092.8 1231.8L1093.2 1232.8L1093.5 1233.7L1093.9 1234.5L1094.3 1235.4L1094.7 1236.7L1095.1 1237.8L1095.5 1238.3L1095.9 1239.2L1096.4 1240.5L1096.8 1241.5L1097.3 1242.4L1097.7 1243.1L1098.2 1243.9L1098.7 1244.7L1099.2 1245.7L1099.7 1246.7L1100.3 1247.6L1100.8 1248.0L1101.4 1248.8L1101.9 1249.9L1102.5 1251.1L1103.1 1251.8L1103.7 1252.6L1104.2 1253.4L1104.8 1254.1L1105.4 1255.0L1106.0 1255.8L1106.6 1257.1L1107.1 1258.3L1107.7 1258.3L1108.3 1259.7L1108.9 1260.6L1109.5 1261.2L1110.1 1262.0L1110.7 1262.8L1111.4 1263.4L1112.1 1264.6L1112.8 1265.1L1113.6 1265.6L1114.4 1266.2L1115.2 1266.8L1116.1 1267.0L1117.0 1267.6L1117.9 1268.2L1118.8 1268.8L1119.8 1268.4L1120.8 1269.3L1121.7 1269.4L1122.7 1269.4L1123.7 1270.2L1124.7 1270.1L1125.7 1270.0L1126.7 1270.5L1127.8 1270.6L1128.8 1270.9L1129.8 1270.9L1130.8 1270.7L1131.9 1270.9L1132.9 1270.9L1133.9 1270.8L1135.0 1270.8L1136.0 1270.7L1137.0 1270.9L1138.1 1270.9L1139.1 1270.8L1140.1 1270.6L1141.1 1270.5L1142.1 1270.2L1143.1 1270.3L1144.1 1269.7L1145.1 1269.7L1146.1 1269.9L1147.0 1269.7L1148.0 1269.2L1149.0 1269.1L1150.0 1268.7L1151.0 1268.8L1152.0 1268.1L1152.9 1267.8L1153.9 1268.1L1154.9 1268.2L1155.8 1266.6L1156.8 1266.8L1157.8 1266.8L1158.7 1266.2L1159.7 1266.2L1160.6 1265.8L1161.6 1265.5L1162.5 1264.8L1163.4 1265.0L1164.4 1264.5L1165.3 1264.3L1166.3 1263.7L1167.2 1263.4L1168.1 1262.7L1169.1 1262.4L1170.0 1262.4L1170.9 1261.4L1171.9 1261.4L1172.8 1261.4L1173.7 1260.3L1174.7 1260.5L1175.6 1260.2L1176.5 1259.7L1177.5 1259.3L1178.4 1258.8L1179.4 1258.6L1180.3 1258.0L1181.2 1257.7L1182.2 1257.3L1183.1 1256.9L1184.1 1256.2L1185.0 1255.9L1185.9 1256.0L1186.9 1255.5L1187.8 1255.3L1188.8 1254.6L1189.7 1254.6L1190.7 1254.1L1191.7 1253.6L1192.6 1253.4L1193.6 1253.0L1194.6 1252.8L1195.6 1252.9L1196.6 1252.6L1197.7 1252.7L1198.7 1252.7L1199.7 1252.3L1200.8 1252.5L1201.8 1251.9L1202.9 1252.5L1203.9 1252.8L1204.9 1252.6L1206.0 1253.2L1207.0 1252.7L1208.0 1252.7L1209.0 1252.9L1210.0 1253.1L1211.0 1253.0L1212.0 1253.3L1213.0 1253.9L1214.0 1253.8L1215.0 1254.1L1216.0 1254.4L1217.0 1254.4L1218.0 1254.4L1219.0 1254.6L1220.0 1254.8L1221.0 1254.6L1222.0 1255.0L1223.0 1255.2L1224.0 1255.0L1225.0 1255.6L1226.0 1256.0L1227.0 1255.6L1228.0 1255.5L1229.0 1255.6L1230.0 1255.7L1231.0 1255.9L1232.0 1255.7L1233.0 1255.9L1234.0 1255.9L1235.0 1255.7L1236.0 1255.6L1237.0 1255.8L1238.0 1255.8L1239.1 1255.1L1240.1 1255.8L1241.2 1255.4L1242.2 1255.2L1243.2 1254.7L1244.3 1255.5L1245.3 1255.6L1246.3 1254.7L1247.3 1254.5L1248.3 1254.2L1249.3 1254.2L1250.3 1253.3L1251.3 1253.0L1252.3 1252.7L1253.3 1252.2L1254.3 1251.8L1255.2 1251.0L1256.1 1250.9L1256.8 1249.6L1257.5 1249.0L1258.1 1248.3L1258.6 1247.3L1259.0 1246.3L1259.4 1245.3L1259.8 1244.4L1260.1 1243.5L1260.3 1242.7L1260.6 1241.9L1260.8 1241.0L1261.0 1240.0L1261.2 1239.0L1261.3 1237.9L1261.5 1236.9L1261.7 1235.9L1261.8 1234.8L1261.9 1233.8L1262.1 1232.7L1262.2 1231.7L1262.4 1230.7L1262.5 1229.6L1262.7 1228.6L1262.9 1227.6L1263.0 1226.6L1263.2 1225.5L1263.4 1224.4L1263.5 1223.3L1263.7 1222.2L1263.8 1221.2L1263.9 1220.3L1264.1 1219.3L1264.2 1218.4L1264.3 1217.4L1264.5 1216.5L1264.6 1215.6L1264.7 1214.7L1264.9 1213.8L1265.0 1212.9L1265.2 1212.0L1265.3 1211.0L1265.5 1210.0L1265.6 1208.9L1265.8 1207.9L1266.0 1206.8L1266.2 1205.6L1266.4 1204.5L1266.5 1203.3L1266.7 1202.1L1266.9 1201.0L1267.2 1200.0L1267.4 1198.9L1267.6 1198.0L1267.9 1197.2L1268.2 1196.4L1268.5 1195.5L1268.9 1194.7L1269.3 1193.6L1270.0 1192.5L1270.8 1191.7L1271.7 1191.3L1272.7 1191.1L1273.7 1191.5L1274.5 1191.7L1275.2 1193.0L1275.9 1193.8L1276.4 1194.5L1276.8 1195.6L1277.2 1197.0L1277.5 1197.7L1277.8 1198.3L1278.1 1199.1L1278.3 1200.1L1278.6 1201.1L1278.8 1202.1L1279.0 1203.5L1279.3 1204.9L1279.5 1206.2L1279.8 1207.0L1280.1 1207.8L1280.4 1208.6L1280.8 1209.4L1281.2 1210.3L1281.5 1211.5L1281.9 1212.5L1282.2 1213.5L1282.6 1214.4L1283.0 1215.0L1283.5 1215.8L1284.0 1217.0L1284.7 1218.0L1285.4 1218.3L1286.2 1218.8L1287.1 1219.1L1288.1 1219.4L1289.1 1219.3L1290.1 1219.0L1291.1 1219.2L1292.2 1219.2L1293.3 1218.6L1294.3 1218.6L1295.4 1218.6L1296.4 1218.4L1297.5 1218.2L1298.5 1218.7L1299.5 1218.8L1300.5 1219.0L1301.5 1219.1L1302.5 1219.9L1303.4 1220.4L1304.4 1220.7L1305.4 1220.8L1306.3 1221.2L1307.3 1221.7L1308.3 1221.4L1309.3 1221.8L1310.3 1222.4L1311.3 1222.1L1312.3 1221.8L1313.2 1222.0L1314.2 1221.1L1315.1 1220.9L1316.0 1219.9L1316.9 1219.8L1317.8 1219.0L1318.7 1218.5L1319.5 1217.8L1320.5 1217.5L1321.4 1216.9L1322.3 1216.8L1323.2 1216.0L1324.2 1216.1L1325.2 1216.3L1326.2 1215.7L1327.2 1215.7L1328.2 1216.0L1329.1 1216.3L1330.1 1216.1L1331.1 1216.6L1332.1 1216.9L1333.1 1216.6L1334.1 1217.0L1335.1 1217.9L1336.1 1217.9L1337.1 1217.8L1338.1 1217.5L1339.1 1217.8L1340.2 1217.3L1341.2 1217.7L1342.2 1217.3L1343.2 1217.1L1344.2 1216.7L1345.3 1216.6L1346.3 1216.7L1347.3 1216.4L1348.3 1217.2L1349.3 1216.7L1350.3 1217.3L1351.2 1217.5L1352.2 1217.3L1353.2 1217.6L1354.1 1218.2L1355.1 1218.9L1356.0 1218.8L1357.0 1219.8L1357.9 1220.4L1358.9 1220.4L1359.9 1220.7L1360.8 1220.9L1361.8 1220.9L1362.8 1220.9L1363.8 1221.3L1364.8 1220.8L1365.8 1220.5L1366.9 1220.9L1367.9 1220.5L1368.9 1219.8L1369.8 1220.1L1370.8 1220.1L1371.8 1219.4L1372.8 1219.2L1373.8 1218.7L1374.8 1218.3L1375.8 1217.7L1376.8 1217.9L1377.8 1217.7L1378.8 1217.3L1379.8 1217.3L1380.8 1217.0L1381.8 1216.6L1382.8 1216.1L1383.8 1216.0L1384.8 1215.7L1385.8 1215.4L1386.8 1215.4L1387.8 1215.3L1388.8 1214.9L1389.8 1214.7L1390.8 1214.7L1391.8 1214.6L1392.8 1214.4L1393.8 1214.7L1394.8 1214.2L1395.8 1214.8L1396.8 1214.7L1397.9 1214.7L1398.9 1215.1L1399.9 1215.7L1400.9 1215.6L1401.9 1215.5L1402.9 1216.4L1403.9 1216.6L1404.9 1216.6L1405.9 1217.1L1406.9 1217.0L1407.9 1217.0L1408.9 1217.7L1409.9 1217.8L1410.9 1217.9L1411.9 1218.3L1413.0 1217.7L1414.0 1217.9L1415.0 1217.4L1416.1 1218.1L1417.1 1217.4L1418.1 1217.6L1419.2 1217.4L1420.2 1217.4L1421.2 1217.0L1422.2 1216.9L1423.2 1216.6L1424.2 1216.4L1425.2 1215.8L1426.1 1215.8L1427.0 1215.2L1427.9 1214.6L1428.6 1213.7L1429.4 1212.6L1430.0 1211.8L1430.6 1211.1L1431.1 1210.3L1431.6 1209.5L1432.0 1208.5L1432.5 1207.4L1432.9 1206.6L1433.3 1205.8L1433.6 1204.7L1434.0 1203.5L1434.3 1202.6L1434.6 1201.7L1434.9 1200.8L1435.2 1199.8L1435.5 1198.8L1435.8 1197.7L1436.1 1196.6L1436.4 1195.7L1436.7 1195.0L1436.9 1194.2L1437.2 1193.3L1437.4 1192.2L1437.7 1191.1L1437.9 1190.1L1438.1 1189.2L1438.4 1188.2L1438.6 1187.2L1438.8 1186.2L1439.0 1185.2L1439.3 1184.2L1439.5 1183.1L1439.7 1181.9L1439.9 1180.8L1440.1 1179.7L1440.4 1178.8L1440.6 1177.9L1440.8 1177.0L1441.0 1176.0L1441.3 1175.1L1441.5 1174.1L1441.7 1173.3L1441.9 1172.5L1442.1 1171.6L1442.3 1170.7L1442.5 1169.6L1442.7 1168.5L1442.9 1167.3L1443.1 1166.3L1443.3 1165.4L1443.5 1164.5L1443.7 1163.6L1443.9 1162.5L1444.1 1161.4L1444.4 1160.2L1444.6 1159.2L1444.8 1158.2L1445.1 1157.2L1445.3 1156.3L1445.6 1155.3L1445.8 1154.3L1446.1 1153.4L1446.3 1152.6L1446.6 1151.8L1446.9 1150.7L1447.2 1149.4L1447.5 1148.1L1447.8 1147.2L1448.1 1146.4L1448.4 1145.6L1448.7 1144.7L1449.0 1143.8L1449.4 1142.7L1449.7 1141.7L1450.1 1140.7L1450.4 1139.8L1450.8 1138.9L1451.2 1138.1L1451.6 1137.1L1452.0 1136.1L1452.5 1135.0L1453.1 1134.2L1453.7 1133.6L1454.5 1132.6L1455.6 1132.6L1456.7 1132.9L1457.7 1132.8L1458.6 1133.0L1459.4 1133.7L1460.0 1135.1L1460.6 1136.1L1461.1 1136.8L1461.5 1137.4L1461.9 1138.3L1462.3 1139.7L1462.6 1140.9L1463.0 1141.7L1463.3 1142.5L1463.6 1143.6L1463.9 1144.6L1464.2 1145.5L1464.6 1146.4L1464.9 1147.2L1465.2 1147.9L1465.4 1148.6L1465.7 1149.6L1466.0 1150.8L1466.3 1151.9L1466.5 1153.0L1466.8 1154.0L1467.1 1155.1L1467.5 1156.0L1467.8 1157.0L1468.2 1158.3L1468.6 1159.3L1469.0 1159.8L1469.5 1160.6L1470.0 1161.6L1470.5 1162.5L1471.0 1163.4L1471.5 1164.2L1472.1 1164.9L1472.7 1165.6L1473.3 1166.3L1473.9 1167.0L1474.6 1168.5L1475.2 1169.1L1475.9 1170.0L1476.6 1170.5L1477.3 1171.4L1478.1 1171.9L1478.8 1172.5L1479.7 1173.5L1480.5 1174.2L1481.4 1174.6L1482.4 1174.8L1483.4 1175.5L1484.5 1175.6L1485.5 1175.3L1486.6 1175.9L1487.6 1176.0L1488.6 1176.9L1489.5 1176.4L1490.3 1177.2L1491.2 1178.1L1492.1 1178.5L1492.9 1178.7L1493.8 1179.8L1494.7 1180.3L1495.7 1180.1L1496.7 1180.3L1497.7 1180.6L1498.8 1180.2L1499.8 1180.1L1500.8 1180.5L1501.9 1180.4L1502.9 1180.7L1503.9 1180.4L1505.0 1180.2L1506.0 1179.8L1507.0 1179.7L1508.0 1179.4L1509.1 1178.6L1510.1 1178.4L1511.1 1178.5L1512.1 1178.2L1513.1 1177.5L1514.0 1177.2L1515.0 1177.4L1516.0 1176.7L1516.9 1176.3L1517.9 1176.0L1518.8 1176.1L1519.8 1175.2L1520.7 1175.4L1521.7 1175.0L1522.7 1174.4L1523.7 1174.2L1524.8 1174.3L1525.8 1173.4L1526.8 1174.0L1527.9 1173.5L1528.9 1173.4L1529.9 1173.3L1530.9 1172.8L1531.9 1172.9L1532.9 1172.7L1533.8 1171.9L1534.8 1171.1L1535.7 1170.8L1536.6 1170.6L1537.6 1170.5L1538.6 1169.7L1539.6 1169.4L1540.6 1169.4L1541.6 1169.3L1542.7 1169.7L1543.7 1169.4L1544.7 1169.7L1545.7 1169.5L1546.7 1170.4L1547.8 1170.1L1548.8 1170.2L1549.8 1170.7L1550.8 1170.4L1551.9 1171.1L1552.9 1170.5L1553.9 1170.6L1554.9 1170.6L1556.0 1170.5L1557.0 1170.6L1558.0 1170.9L1559.0 1171.1L1560.0 1171.0L1561.0 1171.5L1561.9 1172.0L1562.8 1172.6L1563.7 1172.9L1564.6 1173.8L1565.6 1173.5L1566.6 1173.8L1567.6 1173.8L1568.7 1173.2L1569.7 1172.5L1570.7 1172.6L1571.7 1172.6L1572.7 1172.4L1573.7 1171.9L1574.8 1172.2L1575.8 1172.4L1576.8 1172.1L1577.8 1172.4L1578.8 1171.8L1579.8 1171.5L1580.8 1171.3L1581.7 1171.5L1582.6 1170.9L1583.5 1170.1L1584.3 1169.0L1585.0 1168.4L1585.7 1167.7L1586.3 1166.7L1586.8 1165.8L1587.3 1164.9L1587.7 1164.1L1588.1 1163.3L1588.5 1162.5L1588.8 1161.4L1589.2 1160.3L1589.5 1159.4L1589.9 1158.5L1590.2 1157.5L1590.6 1156.5L1591.0 1155.5L1591.4 1154.5L1591.7 1153.5L1592.0 1152.5L1592.4 1151.5L1592.8 1150.8L1593.2 1149.9L1593.6 1148.8L1594.1 1148.0L1594.7 1147.1L1595.6 1146.1L1596.6 1145.1L1597.6 1144.9L1598.7 1145.0L1599.8 1145.4L1600.7 1145.8L1601.6 1146.7L1602.4 1147.5L1603.1 1148.3L1603.8 1149.0L1604.4 1149.8L1605.0 1150.8L1605.5 1151.7L1606.1 1152.5L1606.6 1153.2L1607.1 1154.4L1607.7 1155.6L1608.1 1156.6L1608.6 1157.4L1609.0 1158.3L1609.4 1159.4L1609.9 1160.4L1610.5 1161.1L1611.2 1161.7L1612.1 1162.9L1613.1 1162.4L1614.2 1162.9L1615.3 1162.6L1616.3 1161.7L1617.3 1162.2L1618.3 1161.4L1619.3 1161.0L1620.1 1160.4L1620.7 1159.6L1621.2 1158.9L1621.5 1158.1L1621.8 1157.0L1622.1 1155.9L1622.3 1154.7L1622.6 1153.5L1623.0 1152.1L1623.4 1151.5L1623.9 1151.0L1624.4 1150.2L1625.0 1149.3L1625.6 1148.6L1626.3 1147.7L1626.9 1146.4L1627.6 1146.1L1628.4 1145.4L1629.2 1144.7L1630.2 1143.9L1631.2 1144.0L1632.3 1143.7L1633.4 1143.9L1634.4 1144.1L1635.4 1143.9L1636.5 1144.7L1637.5 1144.6L1638.5 1145.1L1639.5 1145.5L1640.5 1144.8L1641.4 1144.5L1642.3 1143.7L1643.2 1143.1L1644.0 1142.5L1645.0 1142.0L1645.9 1142.3L1646.9 1142.1L1648.0 1142.2L1649.0 1142.7L1649.9 1143.0L1650.9 1143.3L1651.8 1144.3L1652.7 1144.8L1653.6 1145.6L1654.4 1145.9L1655.2 1147.1L1656.0 1147.3L1656.7 1148.1L1657.5 1148.5L1658.2 1149.6L1659.0 1149.9L1659.8 1150.2L1660.6 1151.4L1661.3 1151.8L1662.1 1153.2L1662.9 1153.6L1663.8 1154.0L1664.7 1153.8L1665.7 1154.8L1666.8 1154.2L1667.9 1154.7L1668.9 1153.2L1669.9 1153.1L1670.8 1152.7L1671.6 1151.6L1672.4 1151.0L1673.1 1151.0L1673.8 1149.8L1674.5 1149.1L1675.1 1148.1L1675.7 1147.0L1676.2 1146.2L1676.7 1145.2L1677.1 1144.2L1677.5 1143.6L1677.9 1142.9L1678.3 1142.1L1678.6 1141.1L1679.0 1140.0L1679.3 1138.9L1679.7 1137.9L1680.0 1136.8L1680.4 1136.0L1680.8 1135.1L1681.2 1134.2L1681.7 1133.3L1682.2 1132.2L1682.7 1131.4L1683.2 1130.8L1683.7 1130.2L1684.2 1129.3L1684.6 1128.3L1685.0 1126.9L1685.4 1125.7L1685.7 1124.6L1686.0 1123.6L1686.3 1122.9L1686.5 1122.3L1686.7 1121.6L1686.9 1120.5L1687.1 1119.5L1687.3 1118.4L1687.5 1117.3L1687.8 1116.4L1688.0 1115.4L1688.3 1114.5L1688.5 1113.4L1688.8 1112.4L1689.2 1111.3L1689.5 1110.3L1689.8 1109.3L1690.1 1108.5L1690.4 1107.7L1690.8 1106.8L1691.1 1105.9L1691.4 1104.9L1691.8 1104.0L1692.1 1102.9L1692.4 1101.7L1692.8 1100.5L1693.1 1099.8L1693.4 1099.2L1693.8 1098.1L1694.1 1097.0L1694.4 1096.0L1694.7 1095.0L1695.0 1094.0L1695.3 1093.2L1695.6 1092.3L1695.9 1091.3L1696.2 1090.2L1696.5 1089.2L1696.8 1088.6L1697.1 1087.9L1697.4 1087.0L1697.7 1085.8L1698.0 1084.6L1698.3 1083.6L1698.6 1082.6L1698.8 1081.6L1699.1 1080.6L1699.4 1079.6L1699.7 1078.6L1699.9 1077.7L1700.2 1076.7L1700.4 1075.7L1700.7 1074.7L1700.9 1073.7L1701.2 1072.7L1701.4 1071.8L1701.6 1070.9L1701.8 1070.0L1702.0 1069.0L1702.3 1068.0L1702.5 1067.1L1702.7 1066.1L1702.9 1065.1L1703.1 1064.1L1703.3 1063.1L1703.5 1062.0L1703.6 1060.8L1703.8 1059.7L1704.0 1058.5L1704.2 1057.6L1704.4 1056.7L1704.6 1055.8L1704.8 1054.9L1705.0 1053.9L1705.1 1052.9L1705.3 1052.0L1705.5 1051.0L1705.7 1049.9L1705.9 1048.8L1706.1 1047.7L1706.3 1046.7L1706.5 1045.8L1706.6 1044.9L1706.8 1044.0L1707.0 1043.1L1707.2 1042.1L1707.3 1041.1L1707.5 1040.0L1707.7 1039.0L1707.9 1038.0L1708.0 1037.0L1708.2 1036.0L1708.4 1035.0L1708.5 1034.0L1708.7 1033.1L1708.9 1032.1L1709.1 1031.1L1709.2 1030.1L1709.4 1029.1L1709.6 1028.0L1709.8 1026.9L1709.9 1025.8L1710.1 1024.9L1710.3 1024.0L1710.4 1023.1L1710.6 1022.3L1710.8 1021.4L1710.9 1020.3L1711.1 1019.3L1711.3 1018.2L1711.5 1017.2L1711.6 1016.1L1711.8 1014.9L1712.0 1013.8L1712.2 1012.7L1712.4 1011.7L1712.6 1010.8L1712.8 1009.9L1713.0 1008.9L1713.2 1008.0L1713.4 1007.0L1713.6 1006.0L1713.9 1004.9L1714.1 1003.8L1714.4 1002.7L1714.6 1001.6L1714.9 1000.7L1715.3 999.8L1715.6 998.9L1716.0 998.2L1716.4 996.6L1717.0 995.4L1717.5 994.9L1718.2 994.5L1718.9 993.9L1719.8 992.9L1720.9 993.8L1721.8 994.2L1722.2 995.0L1722.6 996.0L1722.8 997.0L1723.0 998.0L1723.2 999.1L1723.5 1000.1L1723.7 1001.1L1724.1 1001.9L1724.6 1003.0L1725.3 1004.3L1726.2 1005.1L1727.3 1005.5L1728.3 1004.8L1729.2 1004.2L1729.9 1003.7L1730.6 1002.5L1731.0 1001.0L1731.3 1000.2L1731.6 999.4L1731.9 998.5L1732.2 997.4L1732.4 996.4L1732.6 995.4L1732.9 994.5L1733.1 993.6L1733.2 992.6L1733.4 991.7L1733.6 990.7L1733.8 989.8L1733.9 988.8L1734.1 987.8L1734.3 986.8L1734.4 985.7L1734.6 984.7L1734.8 983.6L1735.0 982.7L1735.1 981.7L1735.3 980.8L1735.4 979.8L1735.6 978.8L1735.7 977.8L1735.9 976.8L1736.0 975.8L1736.2 974.7L1736.3 973.7L1736.4 972.7L1736.6 971.6L1736.7 970.6L1736.8 969.5L1737.0 968.5L1737.1 967.5L1737.3 966.5L1737.4 965.5L1737.6 964.5L1737.7 963.5L1737.9 962.5L1738.0 961.4L1738.2 960.3L1738.3 959.3L1738.5 958.2L1738.6 957.3L1738.8 956.4L1739.0 955.5L1739.1 954.6L1739.3 953.6L1739.5 952.6L1739.8 951.5L1740.0 950.5L1740.3 949.6L1740.6 948.8L1741.1 947.8L1741.7 946.7L1742.5 945.8L1743.5 946.1L1744.4 946.3L1745.2 947.2L1745.9 948.3L1746.3 949.2L1746.6 950.0L1746.9 951.1L1747.1 952.3L1747.3 953.5L1747.5 954.6L1747.7 955.4L1747.9 956.2L1748.0 957.1L1748.2 958.0L1748.3 958.9L1748.4 960.0L1748.5 961.1L1748.7 962.1L1748.8 963.2L1748.9 964.3L1749.0 965.4L1749.1 966.3L1749.2 967.3L1749.4 968.3L1749.5 969.3L1749.6 970.2L1749.8 971.2L1749.9 972.1L1750.0 973.0L1750.1 973.9L1750.3 974.8L1750.4 975.7L1750.5 976.6L1750.6 977.7L1750.7 978.8L1750.8 980.0L1751.0 981.1L1751.1 982.2L1751.2 983.3L1751.3 984.4L1751.4 985.4L1751.6 986.4L1751.7 987.4L1751.8 988.4L1751.9 989.4L1752.1 990.5L1752.2 991.5L1752.4 992.6L1752.5 993.6L1752.7 994.7L1752.8 995.6L1753.0 996.6L1753.2 997.5L1753.3 998.5L1753.5 999.4L1753.7 1000.4L1753.9 1001.3L1754.1 1002.3L1754.3 1003.2L1754.5 1004.2L1754.8 1005.2L1755.0 1006.2L1755.3 1007.2L1755.6 1008.2L1755.9 1009.3L1756.3 1010.7L1756.9 1011.8L1757.7 1012.6L1758.7 1012.7L1759.5 1011.5L1760.1 1010.8L1760.5 1009.4L1760.7 1008.0L1760.9 1006.7L1761.1 1005.7L1761.3 1004.9L1761.5 1004.0L1761.6 1003.2L1761.8 1002.2L1761.9 1001.2L1762.1 1000.1L1762.2 999.0L1762.3 997.9L1762.5 996.9L1762.6 995.9L1762.7 994.9L1762.8 993.9L1762.9 992.9L1763.0 991.9L1763.1 990.9L1763.2 990.0L1763.3 989.0L1763.4 988.0L1763.5 987.1L1763.6 986.1L1763.7 985.1L1763.7 984.1L1763.8 983.2L1763.9 982.2L1764.0 981.2L1764.0 980.2L1764.1 979.2L1764.2 978.1L1764.2 977.1L1764.3 976.0L1764.4 975.0L1764.4 973.9L1764.5 972.9L1764.6 971.8L1764.6 970.8L1764.7 969.7L1764.8 968.7L1764.9 967.7L1764.9 966.7L1765.0 965.7L1765.1 964.6L1765.2 963.6L1765.3 962.6L1765.4 961.6L1765.5 960.6L1765.6 959.6L1765.7 958.6L1765.8 957.7L1765.9 956.7L1766.0 955.8L1766.1 954.9L1766.2 953.9L1766.3 952.9L1766.5 951.8L1766.6 950.7L1766.7 949.6L1766.8 948.5L1767.0 947.3L1767.1 946.3L1767.2 945.3L1767.4 944.3L1767.5 943.3L1767.6 942.3L1767.7 941.3L1767.9 940.4L1768.0 939.5L1768.1 938.6L1768.3 937.7L1768.4 936.7L1768.5 935.8L1768.7 934.8L1768.8 933.8L1768.9 932.7L1769.1 931.7L1769.2 930.7L1769.3 929.6L1769.5 928.5L1769.6 927.4L1769.7 926.3L1769.9 925.2L1770.0 924.1L1770.1 923.1L1770.3 922.2L1770.4 921.3L1770.5 920.4L1770.6 919.4L1770.6 918.1L1770.4 916.6L1770.4 915.3L1770.5 914.4L1771.0 914.0L1772.0 913.9L1772.5 914.4L1772.7 915.4L1772.7 916.7L1772.6 918.1L1772.5 919.4L1772.7 920.4L1772.9 921.4L1773.1 922.4L1773.3 923.4L1773.5 924.5L1773.7 925.5L1773.9 926.5L1774.1 927.5L1774.3 928.5L1774.5 929.5L1774.6 930.5L1774.8 931.4L1774.9 932.4L1775.1 933.4L1775.2 934.3L1775.3 935.3L1775.4 936.4L1775.5 937.5L1775.6 938.5L1775.7 939.6L1775.8 940.7L1775.9 941.7L1776.0 942.7L1776.1 943.6L1776.2 944.6L1776.3 945.5L1776.4 946.4L1776.5 947.3L1776.6 948.2L1776.7 949.1L1776.8 950.1L1776.9 951.2L1777.0 952.2L1777.0 953.3L1777.1 954.3L1777.2 955.4L1777.3 956.4L1777.4 957.5L1777.5 958.6L1777.6 959.6L1777.6 960.7L1777.7 961.8L1777.8 962.9L1777.9 963.9L1778.0 965.0L1778.1 966.1L1778.2 967.2L1778.2 968.3L1778.3 969.2L1778.4 970.1L1778.5 971.0L1778.6 971.9L1778.7 972.8L1778.7 973.7L1778.8 974.6L1778.9 975.5L1779.0 976.4L1779.1 977.4L1779.1 978.4L1779.2 979.4L1779.3 980.5L1779.4 981.5L1779.5 982.5L1779.5 983.6L1779.6 984.6L1779.7 985.6L1779.8 986.7L1779.8 987.6L1779.9 988.5L1780.0 989.5L1780.1 990.4L1780.2 991.3L1780.2 992.2L1780.3 993.2L1780.4 994.1L1780.5 995.0L1780.5 996.0L1780.6 997.0L1780.7 998.1L1780.8 999.1L1780.8 1000.1L1780.9 1001.2L1781.0 1002.2L1781.0 1003.3L1781.1 1004.3L1781.2 1005.4L1781.3 1006.4L1781.3 1007.4L1781.4 1008.4L1781.5 1009.4L1781.6 1010.3L1781.6 1011.3L1781.7 1012.3L1781.8 1013.3L1781.9 1014.3L1781.9 1015.3L1782.0 1016.3L1782.1 1017.3L1782.2 1018.4L1782.3 1019.4L1782.4 1020.5L1782.5 1021.6L1782.5 1022.6L1782.6 1023.7L1782.7 1024.7L1782.8 1025.8L1782.9 1026.7L1783.0 1027.7L1783.1 1028.7L1783.2 1029.7L1783.3 1030.6L1783.4 1031.6L1783.5 1032.6L1783.6 1033.6L1783.7 1034.8L1783.8 1036.0L1783.9 1037.1L1784.0 1038.3L1784.1 1039.5L1784.2 1040.7L1784.4 1041.5L1784.5 1042.3L1784.6 1043.0L1784.8 1043.8L1784.9 1044.4L1785.1 1045.4L1785.3 1046.5L1785.5 1047.6L1785.7 1048.7L1785.9 1049.8L1786.1 1050.8L1786.3 1051.8L1786.6 1052.9L1786.8 1053.9L1787.0 1055.0L1787.2 1056.1L1787.5 1057.1L1787.7 1058.1L1787.9 1059.2L1788.1 1059.9L1788.3 1060.5L1788.5 1061.0L1788.8 1061.5L1789.0 1063.3L1789.2 1065.1L1789.5 1067.1L1789.7 1067.6L1790.0 1067.8L1790.4 1068.2L1790.8 1069.0L1791.3 1069.6L1791.8 1070.0L1792.3 1071.6L1792.8 1072.4L1793.3 1072.7L1793.7 1074.6L1794.0 1076.4L1794.3 1077.3L1794.7 1077.8L1795.4 1079.1L1796.3 1078.3L1797.1 1078.6L1797.7 1079.2L1798.3 1077.3L1799.1 1075.7L1799.9 1074.8L1800.5 1077.1L1801.0 1077.8L1801.3 1077.5L1801.5 1077.6L1801.7 1078.7L1802.0 1079.9L1802.4 1081.3L1802.9 1084.3L1803.7 1083.7L1804.6 1086.1L1805.7 1086.8L1806.7 1086.7L1807.6 1084.5L1808.5 1083.2L1809.5 1083.9L1810.5 1083.1L1811.4 1081.1L1812.2 1083.6L1813.0 1084.4L1813.8 1085.3L1814.6 1086.4L1815.5 1086.0L1816.5 1087.0L1817.6 1084.4L1818.7 1085.2L1819.8 1085.3L1820.8 1085.4L1821.7 1087.0L1822.4 1087.9L1822.9 1088.6L1823.2 1089.5L1823.5 1090.8L1823.8 1092.0L1824.1 1093.0L1824.5 1093.4L1825.1 1093.5L1826.0 1093.2L1826.9 1093.7L1827.5 1092.8L1828.0 1092.0L1828.3 1091.4L1828.6 1090.6L1828.9 1089.7L1829.1 1089.0L1829.5 1087.9L1830.0 1086.9L1830.7 1086.8L1831.7 1083.9L1832.8 1083.6L1833.9 1086.5L1834.9 1084.5L1835.5 1083.7L1836.0 1083.9L1836.4 1082.2L1836.7 1080.4L1837.1 1080.2L1837.3 1080.0L1837.6 1079.3L1837.8 1077.7L1838.0 1076.1L1838.2 1074.5L1838.4 1073.3L1838.6 1072.3L1838.8 1071.3L1839.0 1070.4L1839.1 1069.5L1839.3 1068.8L1839.4 1068.0L1839.6 1067.2L1839.7 1066.4L1839.8 1065.3L1840.0 1064.0L1840.1 1062.6L1840.3 1061.2L1840.5 1059.7L1840.7 1059.0L1840.9 1058.3L1841.2 1057.6L1841.4 1057.2L1841.7 1057.0L1842.0 1056.8L1842.3 1055.3L1842.6 1053.6L1843.0 1051.9L1843.3 1050.2L1843.7 1049.1L1844.1 1048.6L1844.6 1047.9L1845.0 1047.1L1845.6 1045.7L1846.1 1045.2L1846.7 1045.2L1847.3 1044.9L1847.9 1043.1L1848.5 1042.7L1849.2 1041.8L1849.9 1040.8L1850.7 1039.5L1851.5 1039.6L1852.4 1040.1L1853.5 1037.9L1854.6 1038.9L1855.3 1039.6L1855.9 1040.8L1856.2 1042.3L1856.6 1043.0L1856.9 1043.8L1857.2 1044.5L1857.6 1045.0L1858.1 1045.3L1858.6 1045.9L1859.2 1048.2L1859.6 1049.1L1860.1 1049.6L1860.5 1049.9L1860.8 1050.4L1861.1 1051.2L1861.4 1052.1L1861.7 1052.9L1861.9 1053.8L1862.2 1054.7L1862.4 1056.3L1862.7 1058.0L1862.9 1059.8L1863.2 1060.7L1863.5 1061.3L1863.7 1061.9L1864.0 1062.1L1864.3 1062.3L1864.6 1062.8L1864.8 1064.4L1865.1 1066.0L1865.4 1067.5L1865.6 1068.5L1865.9 1069.6L1866.2 1070.8L1866.6 1072.0L1866.9 1073.2L1867.3 1074.2L1867.7 1075.1L1868.1 1076.0L1868.5 1077.3L1869.1 1079.0L1869.7 1080.0L1870.5 1079.4L1871.5 1080.8L1872.4 1078.9L1873.3 1078.7L1874.1 1076.9L1875.0 1076.9L1875.9 1075.7L1876.9 1076.1L1877.9 1074.0L1878.9 1076.2L1879.9 1075.6L1880.9 1076.0L1881.9 1075.3L1883.0 1074.1L1884.0 1075.3L1885.0 1074.4"/>
<path class="curve" stroke="#f14040" stroke-width="9.50" d="M215.0 592.7L215.3 592.5L216.0 590.9L216.7 590.5L217.4 590.0L218.1 589.9L218.8 588.8L219.5 587.7L220.2 586.8L220.9 586.2L221.6 585.5L222.2 584.6L222.9 584.0L223.5 583.4L224.1 583.0L224.8 581.7L225.4 581.0L226.0 580.2L226.6 578.9L227.3 579.2L227.9 577.6L228.5 576.6L229.0 575.8L229.6 575.0L230.1 574.3L230.7 573.4L231.2 572.4L231.6 571.4L232.1 570.4L232.5 569.4L232.9 568.6L233.3 567.7L233.7 566.8L234.0 566.0L234.4 564.9L234.7 563.9L235.0 562.9L235.3 561.9L235.6 560.9L235.9 559.8L236.2 558.8L236.5 558.0L236.8 557.2L237.1 556.4L237.4 555.5L237.8 554.6L238.1 553.4L238.4 552.2L238.7 551.4L239.1 550.8L239.4 550.0L239.8 548.8L240.2 547.8L240.5 546.9L240.9 545.8L241.3 544.5L241.7 543.7L242.2 543.3L242.7 542.6L243.3 541.9L243.9 541.1L244.7 539.7L245.6 539.3L246.7 538.9L247.7 538.3L248.8 538.8L249.8 539.0L250.7 539.3L251.5 539.9L252.3 540.4L253.0 541.5L253.5 542.1L254.0 543.0L254.4 544.1L254.8 545.2L255.2 546.4L255.6 547.5L255.9 548.4L256.3 549.1L256.6 549.9L256.9 550.8L257.2 551.7L257.6 552.9L257.9 554.1L258.2 555.1L258.5 556.0L258.8 556.8L259.1 557.3L259.4 557.8L259.7 558.8L260.1 560.0L260.4 561.1L260.7 562.1L261.0 563.1L261.3 564.0L261.7 565.0L262.0 565.9L262.3 566.7L262.6 567.7L262.9 569.0L263.2 570.3L263.5 571.2L263.8 572.1L264.1 573.2L264.4 574.4L264.8 575.5L265.1 576.1L265.5 576.8L265.8 577.8L266.2 578.8L266.6 579.6L267.0 580.4L267.4 581.6L267.8 582.8L268.2 583.8L268.6 584.8L269.0 585.8L269.4 586.7L269.9 587.5L270.3 588.1L270.8 588.7L271.3 590.0L271.8 590.9L272.3 591.2L272.8 592.2L273.3 593.1L273.9 594.2L274.5 595.7L275.2 595.6L275.9 596.3L276.7 597.4L277.5 598.4L278.4 598.8L279.3 599.1L280.3 599.3L281.3 600.2L282.3 599.8L283.3 599.7L284.3 600.2L285.3 599.9L286.3 599.1L287.3 599.6L288.3 598.7L289.4 598.7L290.4 598.3L291.5 598.3L292.5 597.7L293.4 596.6L294.2 596.3L294.9 595.9L295.5 594.7L296.1 593.6L296.7 593.0L297.2 592.4L297.6 591.3L298.0 590.3L298.4 589.2L298.7 588.3L299.1 587.4L299.3 586.4L299.6 585.3L299.9 584.2L300.1 583.2L300.3 582.3L300.5 581.3L300.7 580.4L300.9 579.4L301.1 578.4L301.2 577.4L301.3 576.4L301.5 575.5L301.6 574.4L301.7 573.4L301.7 572.3L301.8 571.3L301.9 570.2L301.9 569.2L302.0 568.1L302.0 567.1L302.1 566.1L302.1 565.1L302.1 564.1L302.1 563.0L302.1 562.0L302.1 561.0L302.1 560.0L302.1 559.0L302.1 558.0L302.2 557.0L302.2 556.0L302.2 554.9L302.2 553.9L302.2 552.9L302.2 551.9L302.2 550.9L302.2 549.9L302.2 548.9L302.3 547.8L302.3 546.9L302.3 545.9L302.4 544.9L302.4 543.9L302.4 542.8L302.4 541.8L302.5 540.8L302.5 539.8L302.6 538.9L302.7 537.9L302.8 537.0L302.9 536.1L303.1 535.1L303.3 533.8L303.6 532.5L303.9 531.5L304.2 531.0L304.6 530.3L305.1 528.9L305.5 527.9L306.1 527.0L306.7 525.7L307.3 525.4L308.2 524.4L309.1 524.3L310.1 523.6L311.1 523.7L312.1 522.8L312.9 522.0L313.5 521.3L313.9 520.5L314.0 519.5L314.0 518.5L313.9 517.4L313.8 516.2L313.8 515.2L313.9 514.2L314.2 513.4L314.8 512.5L315.6 512.1L316.5 511.2L317.5 511.1L318.5 510.6L319.6 510.8L320.6 509.9L321.6 509.9L322.4 509.2L323.3 508.9L324.1 508.2L324.9 507.4L325.6 506.6L326.4 506.2L327.2 505.0L328.1 504.7L328.9 504.0L329.9 503.5L330.9 503.6L331.9 503.1L332.9 502.8L333.9 502.7L334.8 502.6L335.7 502.3L336.6 501.3L337.4 501.0L338.0 500.1L338.5 499.0L338.9 497.9L339.3 497.0L339.7 496.0L340.2 494.9L340.7 494.0L341.3 493.8L342.4 493.2L343.6 492.8L344.0 493.5L344.2 494.4L344.3 495.4L344.4 496.5L344.4 497.5L344.4 498.5L344.4 499.6L344.4 500.6L344.4 501.6L344.4 502.7L344.4 503.7L344.4 504.7L344.5 505.8L344.6 506.8L344.8 507.8L345.1 508.8L345.4 510.0L345.9 511.0L346.7 511.6L347.8 511.9L349.0 512.1L350.3 512.2L351.5 511.9L352.5 511.3L353.4 510.9L354.2 510.0L354.9 509.5L355.6 508.8L356.3 508.1L357.1 506.9L357.9 506.4L358.9 505.9L359.8 505.6L360.7 505.3L361.6 504.9L362.6 504.9L363.5 504.4L364.5 503.4L365.5 504.0L366.4 503.6L367.4 502.6L368.4 502.9L369.4 502.6L370.3 502.4L371.3 501.9L372.3 501.9L373.2 502.0L374.2 500.7L375.2 500.9L376.1 500.7L377.1 500.4L378.1 500.0L379.0 500.2L380.0 499.5L381.0 499.7L382.0 499.3L383.0 498.9L383.9 498.1L384.9 498.6L385.9 498.0L386.9 497.3L387.9 498.2L388.9 498.1L389.9 498.2L390.9 498.6L391.9 499.0L392.8 499.2L393.8 499.9L394.7 500.3L395.7 500.7L396.6 501.6L397.6 501.4L398.5 502.5L399.5 502.7L400.4 502.5L401.4 502.8L402.4 502.7L403.4 502.8L404.4 502.7L405.3 502.5L406.1 502.2L406.8 501.2L407.5 500.6L408.2 500.0L408.8 498.6L409.5 498.4L410.0 497.1L410.6 495.9L411.2 495.0L411.7 494.2L412.1 493.6L412.4 492.9L412.7 491.9L413.1 490.7L413.4 489.6L413.7 488.6L414.1 487.6L414.6 486.4L415.2 485.8L416.1 485.2L417.2 484.6L418.4 484.1L419.4 485.3L420.1 485.5L420.7 486.7L421.2 487.6L421.6 488.4L422.0 489.3L422.4 490.2L422.7 491.2L423.1 492.2L423.5 493.2L423.9 494.1L424.3 494.9L424.8 495.7L425.2 496.7L425.6 497.7L426.0 498.8L426.3 499.7L426.7 500.6L427.1 501.5L427.6 502.3L428.0 502.7L428.4 503.5L428.9 505.0L429.3 505.9L429.8 506.6L430.4 508.1L430.9 509.3L431.5 510.2L432.2 510.9L432.9 511.7L433.6 511.8L434.5 512.8L435.5 513.5L436.5 512.7L437.4 513.3L438.3 511.8L439.1 511.3L439.8 510.8L440.4 509.4L440.8 508.6L441.1 507.7L441.4 506.9L441.7 506.0L442.0 504.7L442.2 503.4L442.5 502.2L442.7 501.2L442.9 500.3L443.0 499.4L443.2 498.5L443.4 497.5L443.5 496.6L443.7 495.6L443.8 494.6L444.0 493.7L444.1 492.7L444.3 491.8L444.5 490.9L444.6 490.0L444.8 489.0L445.0 487.9L445.2 486.8L445.4 485.6L445.6 484.5L445.7 483.6L445.9 482.6L446.0 481.7L446.2 480.7L446.3 479.6L446.5 478.4L446.7 477.2L446.9 476.0L447.2 475.1L447.4 474.4L447.8 473.7L448.1 472.5L448.5 471.3L449.0 470.6L449.6 469.9L450.3 469.2L451.1 468.5L451.9 467.7L452.8 467.2L453.7 467.0L454.7 466.6L455.8 466.4L456.9 466.5L458.0 467.0L459.1 467.6L460.1 467.7L461.0 468.0L461.9 468.7L462.7 469.4L463.5 469.5L464.3 470.7L465.1 471.3L465.9 471.7L466.8 472.7L467.6 473.0L468.4 473.5L469.3 474.6L470.1 475.3L470.9 475.3L471.7 475.9L472.6 476.8L473.5 477.5L474.3 477.9L475.3 478.4L476.2 478.3L477.2 479.3L478.2 478.8L479.2 479.1L480.2 479.0L481.2 479.6L482.2 480.1L483.2 480.3L484.2 480.0L485.2 480.6L486.2 480.9L487.2 480.8L488.3 480.4L489.3 480.6L490.3 480.8L491.3 481.6L492.3 481.6L493.4 481.6L494.4 481.9L495.4 481.3L496.4 481.6L497.4 481.4L498.4 482.2L499.4 482.1L500.4 482.4L501.4 482.6L502.4 482.2L503.4 482.9L504.5 482.9L505.5 482.8L506.5 483.0L507.5 483.1L508.5 483.3L509.5 483.7L510.5 483.3L511.5 483.9L512.5 483.4L513.5 484.0L514.5 483.8L515.5 484.1L516.5 483.9L517.6 484.5L518.6 484.2L519.6 484.4L520.6 484.2L521.6 484.4L522.6 484.5L523.6 485.1L524.6 484.7L525.6 485.0L526.6 484.2L527.6 484.8L528.6 484.4L529.7 485.0L530.7 484.5L531.7 485.0L532.7 484.4L533.7 485.1L534.7 484.8L535.7 485.3L536.7 485.2L537.7 485.2L538.7 485.1L539.7 484.8L540.7 485.4L541.7 484.8L542.7 485.3L543.8 485.3L544.8 485.2L545.8 484.8L546.8 485.2L547.8 485.3L548.8 484.8L549.8 485.2L550.8 485.2L551.8 484.7L552.8 485.3L553.8 485.3L554.8 484.9L555.8 484.9L556.8 484.8L557.9 485.9L558.9 485.3L559.9 485.7L560.9 485.2L561.9 485.6L562.9 485.9L563.9 485.8L564.9 485.2L565.9 485.3L566.9 485.9L567.9 485.3L568.9 485.8L569.9 485.8L570.9 485.5L571.9 485.6L572.9 485.5L573.9 485.7L574.9 485.5L575.9 485.5L576.9 485.5L577.9 485.6L578.9 485.8L579.9 485.7L580.9 485.5L581.9 485.8L582.9 486.0L583.9 486.3L584.9 486.0L585.9 485.9L586.9 486.2L587.9 486.4L588.9 486.3L589.9 485.9L590.9 486.3L591.9 486.6L593.0 486.0L594.0 486.6L595.0 485.8L596.0 486.1L597.0 486.3L598.0 486.1L599.0 486.4L600.0 486.1L601.0 486.4L602.0 486.8L603.0 486.4L604.0 486.4L605.0 486.6L606.0 486.2L607.0 486.7L608.0 486.3L609.0 487.0L610.0 486.6L611.0 486.7L612.0 486.1L613.0 486.5L614.0 486.7L615.0 486.7L616.0 486.7L617.0 487.0L618.0 486.1L619.0 487.2L620.0 486.5L621.0 487.1L622.1 485.8L623.1 486.4L624.1 486.0L625.1 485.9L626.1 486.5L627.2 486.0L628.2 486.1L629.2 485.7L630.2 485.6L631.3 485.6L632.3 485.9L633.3 485.6L634.3 485.9L635.3 486.0L636.3 486.0L637.3 486.3L638.3 486.1L639.3 487.0L640.2 487.0L641.2 486.9L642.2 487.8L643.2 487.7L644.2 487.4L645.2 488.5L646.2 488.1L647.2 488.8L648.2 488.4L649.2 488.3L650.2 489.2L651.2 488.7L652.2 489.0L653.2 489.2L654.3 488.7L655.3 488.8L656.3 488.9L657.3 488.8L658.3 489.4L659.3 488.9L660.3 489.7L661.3 489.8L662.3 489.9L663.3 489.4L664.3 490.2L665.4 490.3L666.4 490.9L667.4 490.6L668.4 491.2L669.4 491.4L670.4 491.5L671.5 492.0L672.5 492.4L673.5 492.4L674.6 492.2L675.6 491.9L676.6 491.7L677.6 491.5L678.6 491.8L679.6 491.7L680.7 490.6L681.7 490.4L682.7 490.5L683.7 490.9L684.7 490.2L685.7 490.3L686.7 490.0L687.7 489.7L688.7 489.2L689.6 489.2L690.6 488.8L691.6 488.9L692.5 488.3L693.2 487.1L693.5 486.6L694.2 485.9L694.8 486.5L694.9 487.6L694.9 488.8L694.9 489.9L695.0 490.9L695.0 491.9L695.0 492.9L695.0 493.9L695.1 494.9L695.1 496.0L695.1 497.0L695.1 498.0L695.1 499.0L695.1 500.0L695.1 501.0L695.1 502.1L695.1 503.1L695.1 504.1L695.1 505.1L695.1 506.1L695.1 507.1L695.1 508.1L695.1 509.1L695.2 510.1L695.2 511.1L695.2 512.2L695.2 513.2L695.2 514.2L695.2 515.2L695.2 516.2L695.2 517.2L695.2 518.2L695.2 519.2L695.2 520.2L695.3 521.2L695.3 522.2L695.3 523.2L695.3 524.2L695.3 525.2L695.3 526.3L695.3 527.3L695.3 528.3L695.3 529.3L695.3 530.3L695.3 531.3L695.3 532.3L695.4 533.3L695.4 534.3L695.4 535.3L695.4 536.3L695.4 537.3L695.4 538.3L695.4 539.3L695.4 540.3L695.4 541.3L695.4 542.3L695.5 543.3L695.5 544.3L695.5 545.3L695.5 546.3L695.5 547.3L695.5 548.3L695.5 549.3L695.5 550.3L695.6 551.3L695.6 552.3L695.6 553.3L695.6 554.3L695.6 555.3L695.6 556.3L695.6 557.3L695.7 558.3L695.7 559.3L695.7 560.3L695.7 561.3L695.7 562.3L695.8 563.3L695.8 564.3L695.8 565.3L695.9 566.2L695.9 567.2L695.9 568.2L695.9 569.3L695.9 570.3L695.9 571.3L696.0 572.3L696.1 573.4L696.4 574.6L696.9 574.4L697.2 573.6L698.0 572.7L699.0 572.1L700.0 571.8L701.0 571.1L702.0 572.0L703.0 571.5L704.1 571.1L705.1 570.7L706.1 571.1L707.1 571.0L708.1 571.0L709.2 570.6L710.2 571.4L711.2 570.6L712.2 570.5L713.2 570.9L714.2 571.1L715.3 570.8L716.3 570.6L717.3 570.9L718.3 570.6L719.3 570.1L720.3 570.6L721.3 570.0L722.3 569.7L723.3 569.6L724.3 569.4L725.3 568.9L726.3 568.8L727.3 568.5L728.2 567.7L729.2 568.2L730.2 567.7L731.1 567.3L732.1 566.5L733.1 566.1L734.0 566.1L735.0 565.5L736.0 565.2L736.9 564.9L737.9 564.8L738.9 564.3L739.9 563.7L740.9 563.8L741.9 563.5L742.9 563.2L743.9 563.0L744.9 562.9L745.9 563.0L747.0 563.4L748.0 563.0L749.0 562.7L750.0 562.2L751.1 562.9L752.1 563.0L753.1 562.7L754.1 562.1L755.1 561.7L756.1 562.1L757.1 561.9L758.1 561.8L759.1 561.1L760.1 560.8L761.0 560.2L762.0 560.5L762.9 560.0L763.9 559.4L764.7 558.8L765.5 558.7L766.3 558.2L767.1 557.3L767.8 556.5L768.5 555.8L769.1 554.9L769.8 554.2L770.4 553.7L771.1 552.9L771.7 551.2L772.4 551.2L773.1 550.2L773.7 549.4L774.5 548.5L775.2 547.8L775.9 547.3L776.6 546.6L777.3 546.1L777.9 545.8L778.6 544.3L779.3 543.6L780.0 542.8L780.7 542.3L781.4 541.7L782.1 541.0L782.8 540.1L783.5 539.3L784.2 538.1L784.9 537.5L785.7 537.0L786.4 536.4L787.2 535.7L787.9 535.2L788.7 534.5L789.5 534.0L790.3 532.8L791.1 532.9L792.0 531.7L792.8 532.0L793.7 530.8L794.6 530.5L795.5 530.0L796.4 530.0L797.3 529.0L798.2 529.0L799.2 528.3L800.1 528.2L801.1 527.5L802.0 527.3L802.9 527.4L803.9 526.7L804.9 525.7L805.8 526.1L806.8 525.3L807.8 525.3L808.7 524.9L809.7 524.8L810.7 524.4L811.7 524.6L812.7 524.3L813.6 524.2L814.6 523.9L815.6 523.9L816.6 523.8L817.6 523.6L818.6 523.2L819.6 523.2L820.6 522.3L821.6 522.4L822.6 522.6L823.6 522.9L824.6 521.9L825.6 522.3L826.6 522.0L827.6 522.0L828.6 522.2L829.6 521.8L830.6 521.7L831.6 521.7L832.6 521.6L833.6 521.5L834.6 521.2L835.6 521.6L836.6 521.1L837.6 521.0L838.6 521.5L839.6 521.4L840.6 521.0L841.6 520.7L842.6 520.8L843.6 520.9L844.6 520.5L845.6 520.6L846.6 521.0L847.6 520.9L848.6 520.8L849.7 520.6L850.7 521.0L851.7 520.3L852.7 519.9L853.7 520.8L854.7 520.2L855.7 520.7L856.7 520.2L857.7 520.2L858.7 520.4L859.7 520.5L860.8 520.1L861.8 520.7L862.8 520.5L863.8 520.6L864.8 520.4L865.8 519.9L866.8 520.0L867.8 519.9L868.8 519.9L869.8 520.1L870.8 520.3L871.9 520.4L872.9 520.7L873.9 520.2L874.9 520.2L875.9 520.7L876.9 520.6L877.9 520.4L878.9 520.2L880.0 520.0L881.0 520.3L882.0 521.0L883.0 520.6L884.0 520.7L885.1 520.5L886.1 520.5L887.1 520.0L888.1 521.3L889.1 521.0L890.1 520.9L891.2 521.0L892.2 521.0L893.2 521.2L894.2 521.3L895.2 521.1L896.3 521.2L897.3 521.7L898.3 521.5L899.3 521.5L900.3 521.7L901.3 521.9L902.3 521.1L903.3 521.7L904.3 521.2L905.4 521.6L906.4 521.8L907.4 522.1L908.4 521.8L909.4 522.4L910.4 522.0L911.4 521.6L912.4 521.9L913.4 522.5L914.4 522.3L915.4 522.5L916.4 522.1L917.4 522.5L918.5 522.3L919.5 522.4L920.5 522.2L921.5 522.4L922.5 523.0L923.5 522.2L924.5 522.2L925.5 521.9L926.5 521.9L927.5 522.2L928.5 521.8L929.5 522.2L930.5 521.6L931.5 521.7L932.5 521.1L933.5 521.1L934.5 521.1L935.4 520.8L936.4 520.8L937.4 520.5L938.4 520.2L939.4 519.6L940.4 519.6L941.4 519.8L942.4 519.3L943.4 519.1L944.4 519.1L945.4 518.7L946.4 519.5L947.4 519.1L948.4 519.3L949.4 518.5L950.4 519.9L951.4 519.8L952.4 519.8L953.4 520.0L954.5 520.3L955.5 520.4L956.5 520.3L957.5 520.3L958.5 520.5L959.5 521.1L960.5 521.1L961.5 521.1L962.5 520.9L963.5 521.0L964.5 520.6L965.6 521.2L966.6 521.0L967.6 520.6L968.6 521.0L969.6 521.1L970.7 521.0L971.7 521.0L972.7 521.2L973.7 520.9L974.7 520.6L975.7 521.1L976.8 520.8L977.8 520.5L978.8 520.5L979.8 520.2L980.8 519.7L981.9 520.1L982.9 519.9L983.9 520.0L984.9 520.3L985.9 520.5L986.9 520.2L987.9 520.1L988.9 520.0L989.9 519.7L991.0 519.8L992.0 520.0L993.0 519.6L994.0 519.5L995.0 519.4L996.0 519.5L997.0 519.1L998.0 519.9L999.0 519.6L1000.0 519.8L1001.0 519.8L1002.0 519.6L1003.1 519.5L1004.1 519.4L1005.1 519.4L1006.1 519.6L1007.1 519.6L1008.1 519.6L1009.1 520.1L1010.1 519.8L1011.1 519.8L1012.1 519.8L1013.2 520.2L1014.2 520.4L1015.2 520.6L1016.2 520.2L1017.2 520.4L1018.2 520.8L1019.2 520.9L1020.2 521.5L1021.2 521.6L1022.2 521.7L1023.2 522.0L1024.3 522.1L1025.3 522.2L1026.3 522.2L1027.3 522.3L1028.3 522.2L1029.3 522.6L1030.4 522.6L1031.4 522.3L1032.4 522.8L1033.4 523.0L1034.5 522.1L1035.5 522.0L1036.5 522.7L1037.5 521.9L1038.5 521.8L1039.5 521.9L1040.5 521.4L1041.5 521.3L1042.4 521.1L1043.3 520.7L1044.2 519.8L1045.1 519.3L1046.0 518.3L1046.8 518.1L1047.7 517.0L1048.5 515.9L1049.3 515.6L1050.1 514.2L1050.9 513.7L1051.8 513.7L1052.8 513.2L1053.7 514.0L1054.5 514.5L1055.1 515.1L1055.6 516.2L1056.1 517.5L1056.6 518.7L1057.0 519.6L1057.4 520.3L1057.9 521.2L1058.5 521.9L1058.9 522.6L1059.3 523.6L1059.7 524.8L1060.2 525.7L1060.7 526.7L1061.3 527.6L1062.0 528.1L1063.0 528.1L1064.0 527.8L1064.9 527.4L1065.8 526.9L1066.7 526.1L1067.6 525.4L1068.5 524.8L1069.5 524.3L1070.5 524.8L1071.4 525.0L1072.2 525.9L1073.0 526.6L1073.7 527.4L1074.3 528.5L1075.0 529.3L1075.8 529.5L1076.6 530.6L1077.5 531.1L1078.5 531.0L1079.5 531.8L1080.5 531.1L1081.5 530.2L1082.6 530.6L1083.6 530.7L1084.5 530.2L1085.4 531.4L1086.2 532.2L1086.9 532.6L1087.5 533.1L1088.1 533.5L1088.7 534.7L1089.3 535.8L1089.9 536.5L1090.6 537.2L1091.4 537.8L1092.3 539.0L1093.3 538.9L1094.3 539.1L1095.3 539.3L1096.3 539.9L1097.4 540.2L1098.4 540.3L1099.5 540.3L1100.5 540.6L1101.5 540.3L1102.6 539.5L1103.6 539.8L1104.6 539.7L1105.6 539.8L1106.7 539.5L1107.7 538.9L1108.7 539.2L1109.7 538.6L1110.7 537.9L1111.8 538.0L1112.8 538.4L1113.8 538.3L1114.9 538.2L1115.9 538.5L1116.9 538.4L1117.9 538.9L1118.9 539.1L1120.0 539.3L1121.0 539.7L1122.0 539.1L1123.0 539.7L1124.1 539.5L1125.1 539.4L1126.1 540.1L1127.1 540.2L1128.1 540.6L1129.1 540.3L1130.2 539.6L1131.2 540.5L1132.2 540.6L1133.2 540.2L1134.2 540.2L1135.2 540.9L1136.2 540.8L1137.2 540.2L1138.3 540.5L1139.3 540.1L1140.3 540.4L1141.3 539.9L1142.3 540.3L1143.3 540.4L1144.3 540.1L1145.3 539.8L1146.3 539.8L1147.3 539.2L1148.3 539.3L1149.3 539.3L1150.3 538.9L1151.3 538.8L1152.3 538.2L1153.3 537.9L1154.3 538.0L1155.3 538.0L1156.4 537.2L1157.4 537.3L1158.4 536.9L1159.4 537.1L1160.4 537.6L1161.4 536.9L1162.4 537.2L1163.4 536.7L1164.4 536.7L1165.4 536.8L1166.4 536.8L1167.4 537.0L1168.4 537.3L1169.4 537.3L1170.4 537.1L1171.4 537.1L1172.4 537.3L1173.4 537.4L1174.4 537.1L1175.4 537.1L1176.4 537.8L1177.4 537.6L1178.4 537.5L1179.4 537.5L1180.4 537.8L1181.4 538.3L1182.4 538.1L1183.4 537.9L1184.4 537.8L1185.4 537.8L1186.4 537.7L1187.4 537.8L1188.4 537.7L1189.4 538.0L1190.4 538.2L1191.4 537.8L1192.4 537.6L1193.4 537.7L1194.4 537.0L1195.4 536.7L1196.4 536.8L1197.4 537.1L1198.5 536.7L1199.5 536.3L1200.5 535.9L1201.5 535.9L1202.5 536.7L1203.5 536.2L1204.5 535.3L1205.5 535.6L1206.5 535.7L1207.5 535.2L1208.5 535.9L1209.5 535.5L1210.5 536.0L1211.5 536.7L1212.4 536.8L1213.4 536.3L1214.4 537.3L1215.3 537.3L1216.3 537.2L1217.3 537.4L1218.3 538.5L1219.2 538.7L1220.2 539.2L1221.2 538.8L1222.1 538.8L1223.1 539.7L1224.1 539.7L1225.1 539.7L1226.1 540.0L1227.1 540.9L1228.1 540.0L1229.1 540.7L1230.1 540.8L1231.1 541.3L1232.1 541.3L1233.1 540.7L1234.1 541.3L1235.1 541.5L1236.1 541.9L1237.1 541.8L1238.1 542.3L1239.1 542.4L1240.1 542.5L1241.1 542.1L1242.1 541.9L1243.1 542.3L1244.1 543.0L1245.1 542.3L1246.1 542.4L1247.1 542.7L1248.1 543.0L1249.1 542.8L1250.1 542.9L1251.1 543.2L1252.1 542.9L1253.1 542.9L1254.1 543.7L1255.1 543.4L1256.1 543.5L1257.0 543.9L1258.0 543.8L1259.0 544.1L1260.0 544.2L1261.0 544.3L1262.0 544.2L1263.0 544.6L1264.0 545.7L1264.9 546.0L1265.9 546.5L1266.8 547.1L1267.7 547.6L1268.6 548.0L1269.6 548.2L1270.4 549.0L1271.3 550.2L1272.2 550.1L1273.0 551.0L1273.9 551.5L1274.7 552.4L1275.6 552.5L1276.5 553.9L1277.4 553.5L1278.3 553.5L1279.3 554.2L1280.3 555.0L1281.3 554.2L1282.1 553.9L1283.0 552.8L1283.8 551.9L1284.7 551.4L1285.7 551.0L1286.7 550.5L1287.7 551.1L1288.7 550.7L1289.7 550.5L1290.7 550.1L1291.7 551.1L1292.7 550.6L1293.7 550.5L1294.8 550.8L1295.8 551.0L1296.8 551.1L1297.8 551.0L1298.8 551.2L1299.8 551.6L1300.8 551.3L1301.8 551.7L1302.8 551.4L1303.8 551.9L1304.8 552.2L1305.8 553.0L1306.8 552.2L1307.8 552.5L1308.8 552.7L1309.8 552.7L1310.8 552.8L1311.8 553.3L1312.8 553.3L1313.8 553.7L1314.8 554.1L1315.8 554.2L1316.8 554.7L1317.8 554.3L1318.8 555.0L1319.8 554.5L1320.8 554.8L1321.9 554.9L1322.9 554.8L1323.9 556.0L1324.9 556.0L1325.9 556.4L1326.9 555.6L1327.9 556.2L1328.9 555.7L1329.9 556.0L1330.9 556.2L1331.9 556.2L1333.0 556.6L1334.0 556.4L1335.0 556.8L1336.0 556.7L1337.0 556.7L1338.0 556.4L1339.0 556.5L1340.0 556.4L1341.1 557.0L1342.1 556.3L1343.1 557.1L1344.1 556.6L1345.1 557.0L1346.1 557.1L1347.1 557.1L1348.1 557.3L1349.1 557.7L1350.1 557.0L1351.1 556.8L1352.1 557.4L1353.1 558.1L1354.0 558.6L1355.0 558.8L1355.8 559.1L1356.7 559.5L1357.6 560.0L1358.4 561.0L1359.3 562.1L1360.2 562.1L1361.0 563.0L1361.9 563.4L1362.9 563.1L1363.8 563.4L1364.8 563.5L1365.8 563.0L1366.7 562.8L1367.6 561.9L1368.5 562.1L1369.3 561.1L1370.1 560.6L1370.9 560.3L1371.7 559.4L1372.5 558.4L1373.3 557.3L1374.1 556.8L1374.9 556.2L1375.7 555.7L1376.5 554.6L1377.4 554.3L1378.3 554.2L1379.2 553.5L1380.1 553.1L1381.1 552.6L1382.0 552.9L1383.0 551.6L1383.9 551.7L1384.9 551.5L1385.9 551.6L1386.8 551.5L1387.8 550.5L1388.8 550.0L1389.7 550.3L1390.6 550.2L1391.6 550.0L1392.4 548.7L1393.2 548.2L1394.0 547.1L1394.8 547.0L1395.6 546.2L1396.5 545.6L1397.5 545.1L1398.6 545.8L1399.6 545.9L1400.5 546.2L1401.4 546.6L1402.3 547.0L1403.1 548.8L1403.9 549.4L1404.6 549.8L1405.1 550.8L1405.7 551.9L1406.2 552.9L1406.6 553.7L1407.1 554.6L1407.5 555.5L1408.0 556.8L1408.5 558.4L1409.1 558.8L1409.7 559.1L1410.4 559.6L1411.1 560.1L1412.0 560.7L1413.0 560.7L1413.9 561.2L1414.6 560.2L1415.3 559.2L1415.8 558.7L1416.3 557.7L1416.8 556.4L1417.3 555.3L1417.8 554.2L1418.3 553.1L1418.9 551.8L1419.6 551.3L1420.5 551.1L1421.7 550.6L1423.0 550.8L1424.0 551.3L1424.5 551.9L1424.9 552.4L1425.2 553.3L1425.5 554.5L1425.8 555.7L1426.0 556.6L1426.2 557.6L1426.4 558.5L1426.6 559.5L1426.8 560.4L1427.0 561.3L1427.1 562.3L1427.3 563.3L1427.5 564.5L1427.7 565.7L1427.8 566.9L1428.0 568.0L1428.3 568.7L1428.5 569.3L1428.8 570.0L1429.1 571.1L1429.4 572.2L1429.8 573.5L1430.3 575.0L1430.9 575.5L1431.6 576.4L1432.4 577.0L1433.2 578.5L1434.1 578.2L1435.0 578.2L1435.9 577.7L1436.6 577.1L1437.1 575.9L1437.6 574.7L1438.0 573.5L1438.3 572.3L1438.7 571.6L1439.1 571.4L1439.5 570.4L1440.0 568.6L1440.6 568.4L1441.4 568.4L1442.3 566.3L1443.4 566.9L1444.5 566.8L1445.6 567.2L1446.6 568.1L1447.5 569.2L1448.1 570.1L1448.6 570.8L1449.1 571.4L1449.6 572.4L1450.0 573.3L1450.4 574.2L1450.8 575.2L1451.2 576.2L1451.5 577.2L1451.8 578.0L1452.2 579.0L1452.5 580.2L1452.8 581.1L1453.1 581.6L1453.5 582.0L1453.8 583.4L1454.2 584.8L1454.5 585.9L1454.9 586.9L1455.3 587.9L1455.7 588.9L1456.2 589.6L1456.7 590.5L1457.2 591.7L1457.7 592.6L1458.2 593.4L1458.7 594.3L1459.2 594.9L1459.8 595.5L1460.2 596.1L1460.7 598.0L1461.2 599.4L1461.6 599.9L1462.0 600.7L1462.5 601.8L1462.9 602.2L1463.3 602.7L1463.8 604.1L1464.2 605.2L1464.7 606.0L1465.1 606.8L1465.6 607.9L1466.1 609.5L1466.6 609.8L1467.2 609.9L1467.7 611.3L1468.3 612.2L1468.9 613.6L1469.6 614.6L1470.2 615.0L1471.0 615.6L1471.7 616.1L1472.5 616.7L1473.4 618.3L1474.2 619.0L1475.2 618.7L1476.1 619.1L1477.1 619.4L1478.1 619.0L1479.0 618.8L1479.9 618.2L1480.7 617.7L1481.5 617.1L1482.3 615.7L1483.0 615.0L1483.8 614.4L1484.5 614.4L1485.2 613.2L1485.9 612.8L1486.7 612.0L1487.4 610.9L1488.2 610.1L1488.9 609.7L1489.7 608.9L1490.5 608.0L1491.2 607.8L1491.9 606.4L1492.7 606.1L1493.4 605.5L1494.2 604.7L1494.9 604.4L1495.6 603.2L1496.4 603.0L1497.1 602.1L1497.9 601.8L1498.6 601.3L1499.3 599.5L1500.1 598.8L1500.8 599.3L1501.6 598.6L1502.4 597.6L1503.1 596.7L1503.9 596.2L1504.7 594.8L1505.5 594.7L1506.3 594.2L1507.1 593.3L1507.9 592.9L1508.7 593.3L1509.6 591.6L1510.4 591.0L1511.3 589.3L1512.2 591.2L1513.0 589.9L1513.9 589.2L1514.8 589.0L1515.7 589.4L1516.6 587.6L1517.5 586.9L1518.4 587.2L1519.3 588.0L1520.2 586.0L1521.1 586.5L1522.0 584.4L1522.9 584.6L1523.8 583.8L1524.6 584.4L1525.5 584.0L1526.4 582.7L1527.3 582.2L1528.2 581.2L1529.1 581.2L1529.9 580.2L1530.8 580.2L1531.7 579.9L1532.6 578.4L1533.5 577.6L1534.4 577.7L1535.3 576.9L1536.2 577.4L1537.1 576.5L1538.1 576.3L1539.0 575.3L1540.0 575.9L1540.9 575.2L1541.9 575.2L1542.9 575.5L1543.9 575.6L1544.8 575.9L1545.8 573.2L1546.9 574.3L1547.9 574.0L1548.9 574.1L1549.9 574.8L1550.9 574.6L1551.9 574.4L1553.0 574.4L1554.0 573.0L1555.0 575.8L1556.0 575.3L1557.0 575.3L1558.0 573.5L1559.0 574.5L1560.0 574.6L1561.0 572.9L1562.0 573.6L1562.9 572.9L1563.9 574.1L1564.9 573.6L1565.9 572.9L1566.8 572.7L1567.8 571.7L1568.8 570.3L1569.7 573.2L1570.7 570.3L1571.7 569.7L1572.7 568.7L1573.6 572.9L1574.6 571.2L1575.6 569.5L1576.6 570.4L1577.6 570.4L1578.6 569.1L1579.6 568.1L1580.6 568.6L1581.6 568.9L1582.6 567.8L1583.6 569.3L1584.6 567.7L1585.6 568.0L1586.6 567.5L1587.5 570.0L1588.5 567.6L1589.4 569.9L1590.1 565.3L1590.8 565.4L1591.4 563.6L1592.2 565.0L1593.2 563.1L1594.2 563.2L1595.2 563.3L1596.2 562.4L1597.2 562.6L1598.2 562.8L1599.3 562.2L1600.3 560.8L1601.3 562.7L1602.4 563.3L1603.4 562.1L1604.4 563.6L1605.4 563.1L1606.4 563.4L1607.3 563.4L1608.3 564.8L1609.3 562.4L1610.2 562.5L1611.2 564.2L1612.1 564.5L1613.1 565.9L1614.1 563.8L1615.1 564.6L1616.1 562.6L1617.1 565.9L1618.1 566.9L1619.1 568.8L1620.2 568.0L1621.2 567.2L1622.2 565.7L1623.2 567.6L1624.2 567.4L1625.2 566.8L1626.2 567.7L1627.2 567.7L1628.1 564.9L1629.1 565.6L1630.0 567.5L1630.9 566.7L1631.8 569.0L1632.6 568.3L1633.5 570.1L1634.3 569.2L1635.1 572.1L1635.8 573.2L1636.6 574.0L1637.5 573.6L1638.3 574.4L1639.2 575.6L1640.1 576.5L1641.0 575.2L1642.0 576.6L1643.0 575.7L1644.0 577.2L1645.0 576.8L1646.0 573.1L1647.0 575.9L1648.0 576.0L1649.1 577.3L1650.1 573.8L1651.1 578.2L1652.1 577.1L1653.1 576.5L1654.1 573.2L1655.1 573.1L1656.1 572.4L1657.1 572.5L1658.1 575.6L1659.2 572.3L1660.2 571.5L1661.2 573.8L1662.2 576.8L1663.2 576.5L1664.1 571.6L1665.0 574.0L1665.9 575.5L1666.8 577.0L1667.6 576.1L1668.5 576.9L1669.5 581.8L1670.4 577.0L1671.4 577.9L1672.4 577.3L1673.4 579.8L1674.4 578.4L1675.4 580.3L1676.4 576.6L1677.4 579.3L1678.4 574.9L1679.4 578.4L1680.4 577.7L1681.4 578.1L1682.4 576.1L1683.4 575.8L1684.4 578.5L1685.4 576.5L1686.4 578.0L1687.4 577.9L1688.3 577.0L1689.3 576.1L1690.3 575.6L1691.2 571.2L1692.1 573.1L1693.0 573.5L1693.8 574.1L1694.6 572.6L1695.4 572.6L1696.1 568.5L1696.9 565.7L1697.6 566.6L1698.4 568.2L1699.2 566.9L1700.1 568.1L1701.0 569.7L1701.9 570.2L1702.9 569.8L1703.9 565.1L1704.8 566.5L1705.8 567.1L1706.8 569.4L1707.8 569.3L1708.8 571.2L1709.8 568.0L1710.9 566.0L1711.9 566.7L1712.9 566.2L1713.9 571.2L1714.9 568.1L1715.9 572.0L1716.9 570.4L1717.9 568.0L1718.9 565.2L1720.0 566.9L1721.0 566.9L1722.0 565.9L1723.0 568.2L1724.0 570.9L1725.1 565.5L1726.1 570.4L1727.1 570.2L1728.1 571.1L1729.1 568.3L1730.1 565.2L1731.2 571.5L1732.2 570.3L1733.2 571.1L1734.2 573.4L1735.2 566.9L1736.3 566.4L1737.3 567.9L1738.3 569.5L1739.3 564.0L1740.3 569.8L1741.4 574.0L1742.4 566.5L1743.4 568.3L1744.4 565.4L1745.4 568.7L1746.4 568.7L1747.5 568.2L1748.5 568.2L1749.5 568.6L1750.5 567.3L1751.5 573.2L1752.5 562.8L1753.5 559.8L1754.5 568.4L1755.5 576.2L1756.5 577.5L1757.5 573.8L1758.5 571.3L1759.5 573.5L1760.5 569.4L1761.5 573.6L1762.5 565.6L1763.5 568.6L1764.5 573.3L1765.5 567.1L1766.5 574.4L1767.5 569.2L1768.5 569.3L1769.5 567.8L1770.5 572.5L1771.5 581.4L1772.5 569.5L1773.5 567.7L1774.5 573.9L1775.5 573.0L1776.5 576.2L1777.5 571.7L1778.5 573.6L1779.5 582.4L1780.5 573.9L1781.5 572.6L1782.5 580.2L1783.4 573.6L1784.4 569.9L1785.4 567.6L1786.3 585.2L1787.3 577.3L1788.2 577.1L1789.2 575.4L1790.1 577.2L1791.1 581.1L1792.0 580.3L1793.0 575.5L1793.9 584.2L1794.9 580.3L1795.8 572.6L1796.8 576.5L1797.7 573.4L1798.7 585.0L1799.6 574.9L1800.6 577.4L1801.5 573.5L1802.5 582.8L1803.4 578.0L1804.3 577.2L1805.2 575.7L1806.1 591.9L1807.0 591.9L1807.9 590.7L1808.8 588.1L1809.7 587.7L1810.6 589.5L1811.4 580.6L1812.3 590.0L1813.2 593.5L1814.1 587.9L1814.9 586.6L1815.8 602.9L1816.7 600.3L1817.6 589.8L1818.5 594.3L1819.5 593.5L1820.5 595.0L1821.5 597.8L1822.4 593.1L1823.4 593.3L1824.4 600.7L1825.5 594.9L1826.5 591.5L1827.5 594.9L1828.5 596.1L1829.5 593.1L1830.5 590.5L1831.5 596.3L1832.5 599.7L1833.5 587.0L1834.5 602.9L1835.5 586.9L1836.5 590.3L1837.5 590.9L1838.5 596.2L1839.5 594.2L1840.5 600.1L1841.5 604.2L1842.5 596.7L1843.5 593.3L1844.5 594.9L1845.5 602.7L1846.5 588.3L1847.5 600.7L1848.5 594.4L1849.5 590.4L1850.5 605.8L1851.5 606.9L1852.5 602.8L1853.6 607.1L1854.6 600.5L1855.6 602.9L1856.6 596.3L1857.5 597.2L1858.5 601.2L1859.4 617.6L1860.3 595.5L1861.1 595.5L1862.0 593.8L1862.8 588.3L1863.6 610.3L1864.4 607.4L1865.2 591.7L1866.0 601.2L1866.8 599.0L1867.6 618.5L1868.3 584.4L1869.0 609.8L1869.8 582.4L1870.5 572.5L1871.2 568.4L1872.0 605.0L1872.8 612.3L1873.6 590.9L1874.4 587.6L1875.2 603.7L1876.1 607.5L1877.0 613.9L1877.9 617.9L1878.8 613.0L1879.8 613.9L1880.7 611.5L1881.7 604.2L1882.6 626.0L1883.6 612.8L1884.5 611.3"/>
<path class="curve" stroke="#1a6fdf" stroke-width="9.50" d="M215.0 998.5L215.3 997.9L215.9 996.9L216.4 996.2L217.0 995.5L217.6 994.7L218.2 994.0L218.7 993.0L219.3 992.1L219.8 991.1L220.4 989.9L220.9 989.1L221.4 988.3L221.9 987.5L222.4 986.5L222.8 985.6L223.3 984.9L223.8 984.1L224.3 983.1L224.8 982.0L225.2 981.2L225.7 980.5L226.2 979.7L226.7 979.0L227.2 978.4L227.7 977.1L228.2 975.8L228.7 974.9L229.1 974.1L229.6 973.5L230.1 972.7L230.6 971.6L231.1 970.4L231.6 969.7L232.1 968.8L232.7 967.9L233.2 967.3L233.8 966.1L234.4 965.1L235.1 964.4L235.7 963.6L236.5 962.7L237.2 961.8L238.0 961.3L238.8 960.9L239.7 960.6L240.5 959.5L241.5 958.7L242.4 958.4L243.4 957.6L244.3 957.5L245.4 957.4L246.4 957.3L247.4 957.1L248.4 957.1L249.4 957.4L250.4 957.7L251.4 958.8L252.3 959.2L253.1 959.6L253.9 960.2L254.6 961.0L255.3 961.8L256.0 962.5L256.7 963.2L257.3 964.0L257.9 964.6L258.4 965.5L258.9 966.7L259.4 968.0L259.9 968.6L260.3 969.1L260.7 970.0L261.1 971.0L261.5 972.0L261.9 973.0L262.2 973.8L262.6 974.7L262.9 975.7L263.2 976.6L263.5 977.6L263.8 978.5L264.2 979.5L264.5 980.4L264.8 981.4L265.1 982.5L265.4 983.6L265.8 984.3L266.1 984.9L266.5 985.9L266.8 986.9L267.2 987.9L267.6 988.9L267.9 990.0L268.3 991.1L268.6 992.2L269.0 993.0L269.3 993.9L269.7 995.0L270.0 996.1L270.4 996.9L270.8 997.7L271.2 998.9L271.6 1000.1L272.0 1000.5L272.4 1001.3L272.8 1002.8L273.2 1003.8L273.7 1004.1L274.1 1005.1L274.6 1006.1L275.1 1006.9L275.7 1007.9L276.3 1009.1L276.9 1010.3L277.5 1010.9L278.2 1011.3L279.0 1012.4L279.8 1013.4L280.6 1013.6L281.5 1014.0L282.5 1014.6L283.4 1014.4L284.4 1015.0L285.5 1015.7L286.5 1015.8L287.5 1015.5L288.6 1015.5L289.6 1015.2L290.6 1015.3L291.6 1015.2L292.6 1014.6L293.5 1014.1L294.4 1013.7L295.2 1012.8L295.9 1011.9L296.6 1011.1L297.2 1010.6L297.7 1010.2L298.1 1008.8L298.6 1007.4L298.9 1006.3L299.2 1005.3L299.6 1004.4L299.9 1003.5L300.2 1002.5L300.5 1001.2L300.8 1000.1L301.0 999.2L301.2 998.2L301.2 997.1L301.4 996.2L301.7 995.2L302.2 994.1L303.1 993.8L304.0 993.4L305.0 993.3L306.0 993.3L307.0 993.5L308.1 993.3L309.1 993.6L310.2 993.6L311.3 993.6L312.3 993.6L313.3 993.5L314.3 993.1L315.2 992.9L316.1 992.7L317.0 991.8L317.8 990.7L318.7 990.7L319.5 989.8L320.4 989.3L321.2 988.6L322.2 988.6L323.1 987.6L324.1 987.8L325.0 987.0L326.0 986.3L326.9 986.7L327.9 985.8L328.9 985.6L329.9 985.1L330.9 985.5L331.9 985.2L332.9 984.9L333.9 985.0L335.0 985.2L336.0 984.8L337.0 985.0L338.0 984.6L339.0 985.2L340.0 985.6L341.0 985.6L342.0 986.0L343.0 986.1L344.0 986.1L344.9 986.6L345.9 986.9L346.8 987.8L347.7 988.1L348.6 988.8L349.6 989.4L350.5 989.2L351.4 989.6L352.4 990.5L353.3 990.7L354.2 991.6L355.2 992.3L356.1 992.1L357.0 992.7L358.0 993.0L358.9 993.4L359.8 994.4L360.8 994.1L361.7 995.0L362.7 995.3L363.6 995.4L364.6 995.8L365.5 996.9L366.5 996.8L367.5 997.3L368.5 997.1L369.5 997.4L370.5 996.9L371.5 997.7L372.5 998.2L373.5 998.4L374.5 998.4L375.5 998.2L376.5 998.6L377.5 999.2L378.6 998.7L379.6 999.5L380.6 998.9L381.6 999.0L382.6 999.1L383.6 998.9L384.7 998.9L385.7 998.6L386.7 999.0L387.7 998.7L388.7 998.7L389.7 998.2L390.7 998.6L391.7 998.2L392.7 997.9L393.7 997.6L394.6 997.5L395.6 997.1L396.6 996.5L397.5 996.4L398.5 995.9L399.4 995.8L400.3 994.6L401.2 994.6L402.1 993.7L403.0 993.5L403.8 992.8L404.6 992.0L405.3 991.4L405.9 990.8L406.5 989.9L407.1 989.0L407.7 988.0L408.3 987.2L408.9 986.6L409.5 985.5L410.2 984.5L411.0 983.9L411.9 984.1L413.0 983.0L414.0 982.7L415.0 982.9L415.9 983.3L416.7 984.1L417.4 984.7L418.0 985.5L418.5 986.6L418.9 987.5L419.4 988.4L419.8 989.3L420.2 990.3L420.5 991.4L420.7 992.5L421.0 993.5L421.3 994.4L421.5 995.4L421.9 996.2L422.3 996.9L422.8 998.1L423.5 998.8L424.3 999.2L425.3 1000.7L426.3 1000.5L427.3 1000.3L428.3 1000.3L429.3 999.8L430.3 999.6L431.2 999.2L432.1 998.6L433.0 998.1L433.8 996.8L434.5 996.2L435.1 996.2L435.7 995.5L436.3 994.0L436.8 992.9L437.3 992.2L437.7 991.9L438.2 991.2L438.6 989.8L439.0 988.9L439.4 988.2L439.8 987.3L440.3 986.3L440.7 985.2L441.1 984.1L441.5 983.0L442.0 982.3L442.5 981.8L442.9 980.7L443.4 979.5L443.8 978.3L444.3 977.2L444.8 976.4L445.5 975.9L446.2 974.6L447.2 975.0L448.4 974.3L449.5 974.2L450.4 974.3L451.3 974.8L452.1 975.9L452.9 976.3L453.6 977.1L454.3 977.8L455.0 979.0L455.6 980.1L456.2 980.8L456.8 981.4L457.4 982.4L457.9 983.2L458.5 983.8L459.0 984.4L459.6 985.4L460.1 986.3L460.7 987.3L461.3 988.4L461.9 989.0L462.6 990.0L463.3 990.4L464.1 991.4L464.8 992.1L465.6 993.0L466.4 993.5L467.2 994.3L468.0 994.0L468.8 995.4L469.7 995.9L470.5 996.6L471.4 996.9L472.3 997.9L473.2 998.7L474.1 998.7L475.0 999.4L475.9 999.8L476.8 999.9L477.7 1000.6L478.7 1000.7L479.6 1000.8L480.6 1001.5L481.5 1001.3L482.5 1001.8L483.5 1002.0L484.5 1002.3L485.5 1002.5L486.5 1002.5L487.5 1002.8L488.6 1002.9L489.6 1003.0L490.6 1003.1L491.6 1003.2L492.6 1003.1L493.7 1003.8L494.7 1003.4L495.7 1003.8L496.7 1003.7L497.8 1003.2L498.8 1003.6L499.8 1003.5L500.8 1003.6L501.8 1003.5L502.8 1003.7L503.9 1003.3L504.9 1003.0L505.9 1003.2L506.9 1004.1L507.9 1004.0L508.9 1003.8L509.9 1003.7L511.0 1003.2L512.0 1003.2L513.0 1003.6L514.0 1003.6L515.0 1003.3L516.0 1003.5L517.0 1003.4L518.1 1003.3L519.1 1003.5L520.1 1002.9L521.1 1003.1L522.1 1002.9L523.1 1002.6L524.1 1002.4L525.1 1003.3L526.1 1002.8L527.1 1002.6L528.1 1002.7L529.1 1002.5L530.1 1002.8L531.1 1002.5L532.1 1002.6L533.1 1002.6L534.1 1002.3L535.1 1002.3L536.1 1001.7L537.2 1002.0L538.2 1002.2L539.2 1001.9L540.2 1001.6L541.2 1001.9L542.2 1002.3L543.2 1001.7L544.2 1001.1L545.2 1001.3L546.2 1001.9L547.2 1001.3L548.2 1001.2L549.2 1001.3L550.2 1001.6L551.2 1001.5L552.2 1000.8L553.2 1001.4L554.2 1000.8L555.2 1001.1L556.2 1000.6L557.2 1000.3L558.2 1000.5L559.2 1000.7L560.2 1000.3L561.2 1000.3L562.3 1000.7L563.3 1000.3L564.3 1000.7L565.3 1000.3L566.3 1000.4L567.3 1000.1L568.3 1000.4L569.3 1000.1L570.3 1000.1L571.3 1000.0L572.3 1000.4L573.3 999.7L574.3 999.7L575.3 999.7L576.3 1000.2L577.3 999.9L578.4 999.8L579.4 999.7L580.4 999.4L581.4 999.9L582.4 999.7L583.4 999.5L584.4 999.9L585.4 999.4L586.4 999.3L587.4 999.0L588.4 999.7L589.4 999.7L590.4 999.2L591.4 999.6L592.4 999.5L593.4 999.9L594.4 999.4L595.4 999.4L596.4 999.5L597.4 999.4L598.4 999.6L599.4 999.5L600.4 999.7L601.4 999.3L602.4 999.4L603.5 999.4L604.5 999.8L605.5 999.9L606.5 999.2L607.5 999.3L608.5 999.6L609.5 999.5L610.5 999.6L611.5 1000.1L612.5 999.9L613.5 999.8L614.5 999.6L615.5 1000.1L616.5 999.6L617.5 999.6L618.5 999.7L619.5 999.5L620.5 999.9L621.5 999.6L622.5 999.7L623.5 999.0L624.5 999.2L625.5 999.0L626.5 998.7L627.5 999.1L628.5 998.7L629.5 998.9L630.5 998.6L631.5 998.0L632.5 998.4L633.5 998.5L634.5 998.1L635.5 998.8L636.5 999.0L637.6 998.6L638.6 998.2L639.6 998.5L640.6 998.5L641.6 998.8L642.7 998.8L643.7 998.9L644.7 998.9L645.7 999.0L646.7 999.2L647.8 999.3L648.8 999.1L649.8 999.2L650.8 999.4L651.8 999.6L652.8 1000.0L653.9 1000.0L654.9 999.9L655.9 1000.3L656.9 1000.3L657.9 1000.2L658.9 1000.7L659.9 1000.3L660.9 1000.8L661.9 1001.0L663.0 1001.6L664.0 1001.2L665.0 1001.6L666.0 1002.0L667.0 1002.2L668.0 1002.3L669.0 1002.1L670.0 1002.3L671.0 1002.5L672.0 1002.4L673.0 1002.8L674.0 1002.9L675.0 1002.8L676.0 1003.0L677.0 1003.6L678.0 1003.9L678.9 1003.9L679.9 1003.9L680.9 1004.8L681.9 1004.4L682.9 1004.8L683.9 1004.9L684.9 1005.0L685.9 1005.1L686.9 1005.5L688.0 1004.4L689.1 1003.9L690.1 1002.9L691.1 1002.9L692.1 1002.3L693.0 1002.3L693.9 1002.0L694.6 1003.2L695.0 1004.1L695.2 1005.1L695.2 1006.1L695.2 1007.2L695.1 1008.3L695.0 1009.4L694.9 1010.5L694.9 1011.5L695.0 1012.6L695.0 1013.6L694.9 1014.6L694.8 1015.7L694.8 1016.7L694.7 1017.8L694.6 1018.8L694.5 1019.8L694.5 1020.8L694.5 1021.9L694.5 1022.9L694.6 1023.9L694.8 1024.9L695.1 1025.9L695.5 1026.7L696.0 1027.3L696.6 1027.9L697.5 1028.7L698.4 1028.2L699.4 1028.5L700.5 1028.8L701.7 1028.2L702.9 1028.0L704.0 1027.2L705.1 1027.4L706.1 1027.3L707.1 1027.3L708.1 1027.4L709.1 1027.2L710.1 1027.7L711.1 1027.8L712.1 1028.0L713.1 1028.3L714.1 1027.9L715.1 1028.0L716.1 1028.9L717.1 1028.6L718.1 1028.7L719.1 1028.4L720.1 1028.5L721.1 1028.4L722.1 1028.9L723.1 1028.3L724.2 1028.1L725.2 1028.3L726.2 1028.8L727.2 1028.6L728.2 1028.2L729.2 1027.8L730.2 1027.7L731.3 1028.0L732.3 1027.3L733.3 1027.9L734.3 1027.7L735.3 1026.9L736.3 1027.1L737.3 1026.7L738.4 1027.0L739.4 1027.1L740.4 1027.0L741.4 1026.9L742.4 1026.9L743.4 1026.6L744.4 1026.5L745.5 1026.7L746.5 1026.1L747.5 1026.4L748.5 1026.0L749.5 1026.1L750.5 1026.0L751.5 1026.7L752.5 1026.4L753.5 1026.4L754.5 1026.0L755.5 1026.0L756.5 1025.8L757.5 1025.4L758.5 1026.1L759.6 1025.9L760.6 1025.8L761.6 1025.5L762.6 1025.6L763.6 1025.6L764.6 1025.3L765.6 1025.0L766.6 1025.3L767.6 1024.7L768.6 1024.9L769.6 1025.0L770.6 1025.0L771.6 1025.1L772.6 1024.4L773.6 1024.4L774.6 1025.1L775.6 1024.2L776.6 1024.2L777.6 1024.3L778.6 1024.0L779.6 1023.9L780.6 1023.8L781.6 1023.3L782.6 1023.8L783.6 1023.2L784.6 1023.0L785.6 1022.5L786.5 1022.5L787.5 1021.8L788.5 1022.3L789.5 1022.4L790.5 1021.8L791.5 1021.4L792.5 1021.5L793.5 1020.6L794.5 1021.2L795.5 1020.7L796.5 1020.6L797.5 1020.7L798.5 1020.8L799.5 1020.6L800.5 1020.0L801.5 1020.3L802.5 1020.0L803.5 1019.6L804.4 1019.7L805.4 1019.6L806.4 1019.7L807.4 1019.5L808.4 1018.7L809.4 1019.0L810.4 1018.6L811.4 1018.3L812.4 1019.0L813.4 1018.3L814.4 1017.9L815.4 1017.9L816.4 1017.5L817.4 1017.8L818.4 1017.7L819.4 1017.4L820.4 1017.7L821.4 1017.6L822.4 1017.1L823.4 1017.0L824.4 1017.6L825.4 1017.0L826.4 1017.2L827.5 1016.9L828.5 1017.0L829.5 1016.8L830.5 1017.2L831.5 1016.8L832.6 1017.0L833.6 1017.0L834.6 1016.6L835.6 1016.7L836.6 1016.6L837.7 1016.8L838.7 1016.7L839.7 1016.8L840.7 1017.5L841.7 1016.8L842.8 1016.8L843.8 1017.0L844.8 1016.5L845.8 1016.1L846.8 1016.4L847.8 1016.8L848.8 1016.6L849.8 1016.8L850.8 1016.6L851.8 1016.6L852.9 1016.5L853.9 1016.3L854.9 1016.8L855.9 1016.6L856.9 1016.3L857.9 1016.5L858.9 1016.6L859.9 1016.5L860.9 1017.0L861.9 1016.6L862.9 1016.6L863.9 1016.8L864.9 1016.7L865.9 1016.5L867.0 1016.3L868.0 1016.6L869.0 1016.5L870.0 1016.8L871.0 1016.9L872.0 1016.7L873.0 1016.9L874.0 1016.4L875.0 1016.7L876.0 1016.8L877.0 1016.5L878.0 1016.7L879.0 1016.3L880.0 1016.6L881.1 1016.6L882.1 1016.4L883.1 1016.7L884.1 1016.9L885.1 1016.7L886.1 1016.4L887.1 1016.2L888.1 1016.4L889.1 1016.8L890.1 1016.5L891.1 1016.8L892.1 1016.9L893.1 1016.7L894.1 1016.8L895.1 1016.9L896.1 1017.3L897.1 1016.8L898.1 1016.9L899.1 1016.6L900.1 1017.4L901.1 1017.1L902.1 1017.3L903.1 1017.2L904.2 1017.7L905.2 1017.7L906.2 1017.9L907.2 1017.8L908.2 1017.5L909.2 1017.5L910.2 1017.4L911.2 1018.1L912.2 1017.5L913.2 1017.6L914.2 1017.6L915.2 1017.5L916.2 1017.7L917.2 1017.8L918.2 1017.6L919.2 1017.8L920.2 1017.6L921.2 1017.7L922.2 1017.6L923.2 1017.7L924.2 1017.3L925.2 1017.7L926.2 1017.9L927.3 1018.0L928.3 1017.6L929.3 1017.9L930.3 1017.7L931.3 1017.8L932.3 1018.3L933.3 1017.4L934.3 1017.2L935.3 1017.6L936.3 1017.5L937.3 1017.2L938.3 1017.7L939.3 1017.4L940.3 1017.9L941.4 1018.1L942.4 1017.1L943.4 1017.4L944.4 1017.8L945.4 1017.8L946.4 1017.5L947.4 1017.6L948.4 1017.5L949.4 1017.8L950.4 1017.6L951.4 1017.7L952.4 1017.8L953.4 1017.2L954.4 1017.5L955.5 1017.9L956.5 1017.4L957.5 1018.0L958.5 1017.7L959.5 1017.5L960.5 1017.7L961.5 1017.8L962.5 1017.8L963.5 1017.6L964.5 1017.2L965.5 1017.5L966.5 1017.9L967.5 1017.8L968.6 1018.2L969.6 1017.9L970.6 1018.1L971.6 1018.0L972.6 1017.8L973.6 1017.9L974.6 1018.0L975.6 1018.0L976.6 1018.1L977.6 1018.0L978.7 1018.0L979.7 1017.6L980.7 1018.4L981.7 1018.2L982.7 1018.0L983.7 1018.1L984.7 1018.0L985.7 1018.1L986.7 1018.0L987.7 1018.0L988.7 1018.7L989.8 1018.4L990.8 1017.7L991.8 1018.6L992.8 1018.8L993.8 1018.3L994.8 1018.9L995.8 1018.8L996.8 1018.8L997.8 1018.9L998.8 1019.3L999.9 1018.6L1000.9 1019.0L1001.9 1018.9L1002.9 1018.8L1003.9 1019.0L1004.9 1019.4L1005.9 1018.7L1006.9 1019.0L1007.9 1019.1L1008.9 1019.5L1009.9 1019.3L1010.9 1020.0L1011.9 1019.0L1012.9 1019.4L1013.9 1019.0L1014.9 1019.1L1015.9 1019.4L1016.9 1019.5L1017.9 1019.4L1018.9 1019.9L1019.9 1019.6L1020.9 1020.1L1021.9 1020.1L1022.9 1020.5L1023.9 1020.4L1025.0 1020.5L1026.0 1020.9L1027.0 1021.0L1028.0 1020.5L1029.0 1020.5L1030.0 1020.6L1031.0 1020.5L1032.0 1020.8L1033.0 1020.9L1034.0 1020.7L1035.0 1020.8L1036.0 1020.7L1037.0 1020.9L1038.0 1021.2L1039.0 1021.2L1040.0 1020.8L1041.0 1021.1L1042.0 1021.0L1043.1 1020.5L1044.1 1020.5L1045.1 1020.5L1046.1 1020.3L1047.2 1020.3L1048.2 1019.8L1049.2 1020.0L1050.2 1019.9L1051.2 1019.9L1052.2 1020.6L1053.1 1020.3L1054.0 1020.9L1054.9 1021.4L1055.8 1022.0L1056.7 1022.4L1057.6 1023.2L1058.4 1023.3L1059.3 1024.4L1060.2 1024.6L1061.1 1025.1L1062.1 1025.6L1063.0 1026.0L1064.0 1025.7L1065.0 1025.7L1066.0 1025.6L1067.0 1025.5L1068.0 1025.4L1069.0 1024.8L1070.0 1024.4L1071.0 1024.9L1072.0 1024.6L1073.0 1025.2L1074.0 1025.5L1075.0 1026.0L1076.0 1026.5L1077.0 1027.1L1078.0 1027.2L1079.0 1027.6L1080.0 1028.2L1081.0 1028.1L1081.9 1028.1L1082.9 1028.7L1083.9 1028.6L1084.9 1029.3L1085.9 1029.4L1086.9 1029.7L1087.9 1029.9L1088.9 1029.7L1089.9 1029.8L1090.9 1029.9L1091.9 1029.5L1092.9 1030.0L1093.9 1030.3L1094.9 1030.8L1095.9 1030.3L1096.9 1030.2L1097.9 1030.7L1098.9 1030.4L1099.9 1030.7L1100.9 1030.3L1101.9 1030.6L1103.0 1030.7L1104.0 1030.6L1105.0 1030.9L1106.0 1030.6L1107.0 1030.6L1108.0 1031.0L1109.0 1030.9L1110.0 1030.6L1111.0 1031.1L1112.0 1031.1L1113.0 1030.8L1114.0 1030.8L1115.0 1030.8L1116.0 1030.6L1117.0 1030.9L1118.1 1031.1L1119.1 1031.4L1120.1 1030.9L1121.1 1031.3L1122.1 1030.7L1123.1 1030.9L1124.1 1031.2L1125.1 1030.9L1126.1 1031.2L1127.1 1030.7L1128.1 1031.1L1129.1 1031.2L1130.1 1031.7L1131.2 1030.9L1132.2 1031.0L1133.2 1030.7L1134.2 1030.8L1135.2 1030.8L1136.2 1031.3L1137.2 1030.6L1138.2 1030.6L1139.2 1031.0L1140.2 1031.0L1141.2 1031.3L1142.3 1030.9L1143.3 1031.2L1144.3 1030.8L1145.3 1031.3L1146.3 1031.1L1147.3 1031.3L1148.3 1031.0L1149.3 1031.2L1150.3 1030.9L1151.3 1031.0L1152.3 1031.5L1153.4 1031.4L1154.4 1031.2L1155.4 1031.3L1156.4 1031.1L1157.4 1030.9L1158.4 1031.4L1159.4 1031.4L1160.4 1031.0L1161.4 1031.0L1162.4 1030.8L1163.5 1031.1L1164.5 1031.2L1165.5 1031.4L1166.5 1030.9L1167.5 1030.6L1168.5 1031.2L1169.5 1030.9L1170.5 1031.0L1171.5 1030.9L1172.5 1030.9L1173.5 1030.6L1174.5 1031.2L1175.5 1031.1L1176.5 1031.0L1177.5 1030.8L1178.5 1030.7L1179.5 1030.9L1180.5 1031.0L1181.6 1030.3L1182.6 1030.6L1183.6 1030.7L1184.6 1030.2L1185.6 1030.1L1186.6 1030.6L1187.6 1030.2L1188.6 1030.3L1189.6 1030.2L1190.6 1030.4L1191.6 1030.0L1192.6 1030.8L1193.6 1030.5L1194.6 1030.2L1195.6 1030.4L1196.6 1030.6L1197.6 1031.1L1198.6 1031.0L1199.6 1031.0L1200.6 1030.7L1201.6 1030.9L1202.6 1031.3L1203.6 1031.5L1204.6 1031.5L1205.6 1031.3L1206.6 1031.2L1207.6 1031.4L1208.6 1031.7L1209.6 1031.6L1210.6 1031.6L1211.6 1032.0L1212.6 1031.8L1213.6 1031.7L1214.6 1032.1L1215.6 1032.3L1216.6 1032.3L1217.6 1032.1L1218.6 1032.6L1219.6 1032.5L1220.6 1032.6L1221.6 1032.8L1222.6 1032.6L1223.6 1032.8L1224.6 1032.5L1225.6 1033.1L1226.6 1033.0L1227.6 1033.1L1228.6 1032.6L1229.6 1032.7L1230.6 1033.2L1231.6 1032.9L1232.6 1032.8L1233.6 1032.8L1234.6 1033.1L1235.7 1033.1L1236.7 1032.9L1237.7 1033.1L1238.7 1032.8L1239.7 1033.0L1240.7 1033.0L1241.7 1032.7L1242.7 1033.1L1243.7 1033.0L1244.7 1032.9L1245.7 1033.1L1246.7 1033.2L1247.7 1033.1L1248.7 1032.3L1249.7 1032.7L1250.7 1033.1L1251.7 1032.9L1252.7 1033.0L1253.7 1033.1L1254.8 1033.3L1255.8 1033.0L1256.8 1033.5L1257.8 1033.2L1258.8 1032.9L1259.8 1033.3L1260.8 1033.2L1261.8 1033.2L1262.8 1032.9L1263.8 1032.9L1264.8 1033.4L1265.8 1033.3L1266.8 1033.5L1267.8 1033.4L1268.8 1033.4L1269.8 1033.7L1270.8 1033.7L1271.8 1034.0L1272.8 1033.2L1273.8 1033.8L1274.8 1033.6L1275.8 1034.0L1276.8 1033.7L1277.8 1033.9L1278.8 1034.2L1279.8 1033.8L1280.8 1033.7L1281.8 1033.6L1282.9 1033.7L1283.9 1033.0L1284.9 1032.3L1285.9 1032.2L1286.9 1032.3L1287.9 1031.9L1288.9 1031.9L1290.0 1031.7L1291.0 1031.5L1292.0 1031.9L1293.0 1031.6L1294.0 1031.1L1295.1 1031.7L1296.1 1031.7L1297.1 1032.4L1298.1 1032.0L1299.1 1032.0L1300.1 1032.4L1301.1 1032.7L1302.1 1032.4L1303.1 1032.6L1304.2 1033.0L1305.2 1032.7L1306.2 1032.9L1307.2 1033.0L1308.2 1033.0L1309.2 1033.3L1310.2 1033.7L1311.2 1033.2L1312.2 1033.3L1313.2 1033.3L1314.3 1033.5L1315.3 1033.2L1316.3 1033.6L1317.3 1033.7L1318.3 1033.8L1319.3 1033.9L1320.3 1033.9L1321.3 1034.1L1322.3 1033.9L1323.3 1033.9L1324.4 1034.0L1325.4 1034.2L1326.4 1034.5L1327.4 1033.9L1328.4 1034.0L1329.4 1034.5L1330.4 1034.4L1331.4 1033.9L1332.4 1034.4L1333.4 1034.4L1334.4 1034.1L1335.5 1034.2L1336.5 1033.8L1337.5 1034.2L1338.5 1034.2L1339.5 1034.2L1340.5 1034.4L1341.5 1034.3L1342.5 1034.2L1343.5 1034.6L1344.5 1034.4L1345.5 1034.1L1346.6 1034.9L1347.6 1034.4L1348.6 1034.4L1349.6 1034.8L1350.6 1034.8L1351.6 1034.7L1352.6 1034.6L1353.6 1035.0L1354.7 1035.1L1355.7 1035.7L1356.7 1035.5L1357.7 1035.8L1358.7 1035.8L1359.8 1036.5L1360.8 1036.4L1361.8 1036.6L1362.8 1037.1L1363.9 1036.8L1364.9 1036.9L1365.9 1036.8L1366.9 1037.0L1367.9 1036.9L1369.0 1036.5L1370.0 1036.6L1371.0 1036.0L1372.0 1035.6L1373.0 1036.3L1374.0 1035.5L1375.0 1035.0L1376.0 1035.0L1377.0 1034.5L1378.0 1034.5L1379.0 1034.7L1380.0 1034.3L1381.0 1033.8L1382.0 1034.0L1383.0 1033.9L1384.0 1033.8L1385.0 1033.5L1386.0 1033.1L1387.0 1033.2L1388.1 1032.9L1389.1 1033.1L1390.1 1032.8L1391.1 1032.7L1392.1 1032.4L1393.1 1032.5L1394.1 1032.6L1395.2 1032.3L1396.2 1032.6L1397.2 1032.7L1398.2 1032.8L1399.2 1032.8L1400.2 1033.2L1401.2 1032.9L1402.2 1033.0L1403.2 1033.1L1404.1 1033.9L1405.1 1034.5L1406.0 1034.9L1407.0 1036.0L1407.9 1036.2L1408.9 1036.7L1409.9 1036.6L1410.9 1036.7L1411.9 1036.6L1412.9 1036.7L1413.9 1036.8L1414.9 1036.6L1415.9 1036.0L1416.9 1035.6L1417.8 1035.3L1418.8 1034.8L1419.8 1034.9L1420.8 1034.1L1421.7 1033.9L1422.7 1034.7L1423.7 1034.3L1424.6 1034.4L1425.3 1035.6L1426.1 1036.6L1426.7 1037.4L1427.4 1038.2L1428.0 1039.2L1428.7 1039.3L1429.3 1040.6L1430.1 1041.3L1430.9 1041.8L1431.8 1042.8L1432.8 1042.7L1433.8 1042.8L1434.8 1042.9L1435.8 1042.5L1436.8 1042.5L1437.8 1042.2L1438.9 1041.8L1439.9 1041.7L1441.0 1041.0L1442.0 1041.1L1443.0 1041.2L1444.0 1041.7L1445.1 1041.7L1446.1 1041.6L1447.1 1042.2L1448.0 1042.5L1448.9 1043.3L1449.7 1043.9L1450.6 1043.8L1451.3 1044.9L1452.1 1045.2L1452.9 1046.0L1453.6 1047.2L1454.3 1047.3L1455.1 1048.2L1455.8 1048.8L1456.5 1050.0L1457.3 1050.9L1458.0 1050.8L1458.8 1051.8L1459.6 1053.1L1460.4 1053.6L1461.2 1053.9L1462.0 1054.5L1462.9 1055.1L1463.7 1055.5L1464.6 1056.1L1465.5 1055.9L1466.3 1056.9L1467.2 1057.5L1468.1 1057.9L1469.1 1058.0L1470.0 1059.4L1471.0 1059.3L1472.0 1059.7L1473.0 1059.8L1474.0 1060.0L1475.0 1060.5L1476.1 1060.7L1477.1 1061.1L1478.1 1060.5L1479.1 1061.1L1480.1 1060.6L1481.0 1060.3L1482.0 1059.4L1483.0 1059.4L1484.0 1059.1L1484.9 1059.3L1485.9 1058.8L1486.8 1058.8L1487.8 1058.6L1488.8 1057.9L1489.7 1057.8L1490.7 1057.1L1491.7 1056.6L1492.6 1056.4L1493.6 1056.2L1494.6 1055.8L1495.5 1055.3L1496.5 1055.4L1497.4 1054.7L1498.4 1054.5L1499.4 1053.7L1500.3 1053.4L1501.3 1053.8L1502.2 1053.2L1503.2 1053.3L1504.2 1052.5L1505.1 1051.7L1506.1 1052.2L1507.1 1051.4L1508.1 1051.3L1509.0 1051.6L1510.0 1050.3L1511.0 1050.6L1511.9 1050.2L1512.9 1049.7L1513.9 1050.3L1514.8 1050.1L1515.8 1049.5L1516.8 1048.7L1517.7 1048.5L1518.7 1048.8L1519.7 1048.2L1520.7 1048.9L1521.6 1047.7L1522.6 1047.3L1523.6 1047.6L1524.6 1047.4L1525.5 1047.4L1526.5 1046.9L1527.5 1046.6L1528.5 1045.9L1529.5 1046.6L1530.5 1046.7L1531.4 1046.2L1532.4 1046.0L1533.4 1045.5L1534.4 1045.4L1535.4 1045.9L1536.4 1044.9L1537.4 1045.0L1538.4 1044.2L1539.4 1044.5L1540.4 1044.9L1541.4 1043.7L1542.4 1044.8L1543.4 1044.8L1544.4 1044.6L1545.4 1044.5L1546.4 1044.2L1547.4 1044.7L1548.4 1043.4L1549.4 1043.9L1550.4 1043.7L1551.4 1044.2L1552.4 1044.3L1553.4 1043.8L1554.4 1043.5L1555.4 1043.5L1556.5 1044.0L1557.5 1043.6L1558.5 1044.2L1559.5 1043.2L1560.5 1044.0L1561.5 1042.8L1562.5 1043.4L1563.5 1042.8L1564.5 1044.1L1565.5 1043.4L1566.5 1043.6L1567.5 1044.2L1568.5 1043.4L1569.5 1043.0L1570.5 1042.9L1571.5 1043.2L1572.5 1043.0L1573.6 1041.8L1574.6 1042.4L1575.6 1042.1L1576.6 1041.8L1577.6 1041.5L1578.6 1041.2L1579.6 1042.0L1580.6 1041.3L1581.6 1041.4L1582.6 1041.9L1583.6 1041.7L1584.6 1041.9L1585.6 1040.7L1586.6 1040.6L1587.6 1041.0L1588.7 1040.1L1589.7 1040.8L1590.7 1040.2L1591.7 1040.3L1592.7 1040.8L1593.7 1039.9L1594.7 1040.3L1595.7 1040.4L1596.8 1039.4L1597.8 1039.4L1598.8 1039.6L1599.8 1039.9L1600.8 1040.0L1601.8 1039.3L1602.8 1040.7L1603.9 1040.7L1604.9 1039.7L1605.9 1039.3L1606.9 1039.3L1607.9 1040.2L1608.9 1039.9L1610.0 1039.9L1611.0 1039.0L1612.0 1039.7L1613.0 1040.4L1614.0 1040.4L1615.0 1040.2L1616.0 1040.3L1617.1 1040.9L1618.1 1040.7L1619.1 1039.6L1620.1 1040.7L1621.1 1040.2L1622.1 1040.4L1623.1 1040.5L1624.1 1041.4L1625.1 1042.0L1626.0 1040.1L1627.0 1042.3L1628.0 1042.4L1629.0 1041.9L1630.0 1041.6L1630.9 1042.6L1631.9 1042.9L1632.9 1043.3L1633.9 1042.4L1634.8 1044.5L1635.8 1044.0L1636.8 1043.8L1637.8 1044.0L1638.8 1044.4L1639.8 1044.2L1640.8 1044.2L1641.8 1044.6L1642.9 1044.9L1643.9 1042.9L1644.9 1043.5L1645.9 1043.9L1646.9 1042.9L1647.9 1043.4L1648.9 1043.5L1650.0 1043.1L1651.0 1043.9L1652.0 1043.2L1653.0 1042.3L1654.0 1043.4L1655.0 1042.6L1656.0 1043.3L1657.1 1042.0L1658.1 1043.0L1659.1 1043.1L1660.1 1042.9L1661.1 1043.2L1662.1 1042.5L1663.1 1042.0L1664.1 1042.8L1665.1 1044.3L1666.1 1043.5L1667.1 1043.1L1668.1 1044.9L1669.1 1044.0L1670.1 1044.0L1671.1 1044.6L1672.1 1044.4L1673.1 1046.2L1674.1 1044.9L1675.1 1045.1L1676.1 1045.7L1677.2 1045.3L1678.2 1045.3L1679.2 1046.8L1680.2 1045.9L1681.2 1046.0L1682.3 1046.8L1683.3 1045.3L1684.3 1046.7L1685.3 1044.1L1686.3 1044.5L1687.3 1044.4L1688.4 1044.2L1689.4 1043.5L1690.4 1044.7L1691.4 1044.3L1692.4 1045.1L1693.5 1044.2L1694.5 1044.1L1695.5 1044.8L1696.5 1045.0L1697.5 1044.1L1698.5 1044.7L1699.5 1045.9L1700.5 1045.9L1701.5 1044.7L1702.5 1042.7L1703.5 1043.9L1704.5 1044.9L1705.5 1042.8L1706.5 1043.0L1707.5 1042.6L1708.5 1041.2L1709.5 1043.9L1710.5 1044.1L1711.5 1041.6L1712.5 1044.5L1713.5 1044.6L1714.5 1043.4L1715.5 1044.4L1716.5 1044.1L1717.5 1045.3L1718.5 1041.8L1719.5 1042.1L1720.5 1041.1L1721.5 1043.8L1722.5 1041.4L1723.6 1041.8L1724.6 1042.9L1725.6 1042.0L1726.6 1041.8L1727.6 1043.6L1728.6 1043.2L1729.7 1040.8L1730.7 1042.2L1731.7 1041.7L1732.7 1042.7L1733.7 1043.6L1734.8 1040.0L1735.8 1040.0L1736.8 1042.4L1737.8 1039.8L1738.9 1037.7L1739.9 1038.9L1740.9 1041.2L1741.9 1041.5L1743.0 1043.7L1744.0 1042.2L1745.0 1042.5L1746.0 1042.2L1747.0 1043.0L1748.0 1041.6L1749.0 1040.4L1750.0 1040.6L1751.0 1040.3L1752.0 1042.3L1753.0 1041.7L1754.0 1041.8L1755.0 1042.5L1756.0 1040.2L1757.0 1042.4L1758.0 1045.0L1759.0 1047.3L1760.1 1041.0L1761.1 1044.8L1762.1 1044.3L1763.1 1044.5L1764.1 1045.1L1765.1 1041.2L1766.2 1040.0L1767.2 1049.2L1768.2 1046.9L1769.2 1044.3L1770.2 1044.9L1771.3 1046.2L1772.3 1045.0L1773.3 1042.4L1774.3 1047.5L1775.4 1042.4L1776.4 1042.3L1777.4 1044.4L1778.4 1045.0L1779.5 1043.3L1780.5 1046.7L1781.5 1045.3L1782.5 1043.7L1783.6 1046.2L1784.6 1046.6L1785.6 1044.8L1786.6 1046.0L1787.6 1046.1L1788.7 1049.2L1789.7 1044.3L1790.7 1047.2L1791.8 1045.4L1792.8 1045.0L1793.8 1048.1L1794.8 1044.3L1795.8 1050.0L1796.9 1043.8L1797.9 1043.5L1798.9 1047.3L1799.9 1042.2L1800.9 1053.7L1801.9 1048.5L1803.0 1050.9L1804.0 1044.8L1805.0 1047.3L1806.0 1050.7L1807.0 1048.7L1808.0 1043.6L1809.0 1042.6L1810.0 1048.4L1811.0 1049.5L1812.0 1043.8L1813.0 1053.7L1814.0 1055.2L1815.0 1038.2L1816.0 1040.2L1817.0 1045.3L1818.0 1045.7L1819.0 1044.7L1820.1 1044.6L1821.1 1053.5L1822.1 1045.6L1823.0 1053.1L1824.0 1046.5L1825.0 1057.4L1826.0 1050.0L1827.0 1050.2L1828.0 1045.5L1828.9 1054.7L1829.8 1054.5L1830.8 1043.2L1831.7 1046.1L1832.7 1049.1L1833.6 1062.4L1834.6 1053.9L1835.5 1054.0L1836.5 1052.8L1837.5 1045.7L1838.5 1058.7L1839.5 1054.5L1840.5 1053.6L1841.5 1059.8L1842.5 1057.9L1843.5 1054.3L1844.5 1056.2L1845.5 1056.9L1846.5 1056.3L1847.5 1055.3L1848.5 1059.8L1849.5 1058.6L1850.5 1063.2L1851.5 1061.0L1852.5 1055.5L1853.5 1059.4L1854.5 1061.9L1855.5 1055.3L1856.4 1057.1L1857.4 1067.5L1858.3 1068.9L1859.2 1059.5L1860.1 1063.9L1861.0 1066.7L1861.9 1067.0L1862.8 1067.1L1863.6 1063.2L1864.5 1050.3L1865.4 1068.9L1866.3 1072.4L1867.3 1071.2L1868.3 1061.8L1869.2 1065.0L1870.0 1064.8L1870.9 1068.6L1871.7 1066.1L1872.6 1062.9L1873.5 1053.5L1874.4 1057.9L1875.3 1058.1L1876.2 1059.7L1877.2 1062.9L1878.1 1063.9L1879.1 1061.3L1880.1 1057.3L1881.2 1052.0L1882.3 1059.6L1883.4 1052.6L1884.5 1058.1"/>
<path class="curve" stroke="#37ad6b" stroke-width="9.50" d="M215.0 837.2L215.3 836.7L215.8 836.2L216.4 835.4L216.9 834.3L217.5 833.5L218.0 832.8L218.5 831.7L219.0 830.3L219.4 829.7L219.9 828.9L220.3 827.9L220.8 827.0L221.2 826.1L221.6 825.1L222.0 824.0L222.4 823.4L222.8 822.7L223.2 821.3L223.5 820.0L223.9 819.2L224.3 818.4L224.6 817.6L225.0 816.7L225.4 815.7L225.7 814.8L226.1 813.8L226.4 812.8L226.8 811.6L227.2 810.4L227.5 809.4L227.9 808.5L228.3 807.4L228.7 806.3L229.1 805.6L229.5 804.9L229.9 804.4L230.3 803.7L230.8 802.3L231.2 801.4L231.7 800.8L232.2 799.8L232.7 798.7L233.2 797.4L233.7 796.1L234.3 795.0L234.9 794.3L235.5 793.7L236.1 793.1L236.7 792.6L237.3 791.7L237.9 790.5L238.5 789.7L239.1 789.2L239.7 788.4L240.3 787.5L240.9 786.7L241.5 786.2L242.2 785.0L242.8 784.2L243.4 783.3L244.0 782.5L244.6 781.9L245.2 780.4L245.9 780.2L246.6 779.2L247.3 778.9L248.2 778.0L249.2 778.6L250.3 778.4L251.3 779.5L252.4 779.1L253.5 779.2L254.5 779.5L255.5 779.4L256.5 779.9L257.5 779.2L258.5 778.8L259.4 778.0L260.4 778.2L261.2 777.0L262.1 776.5L263.0 776.7L263.8 776.2L264.6 775.4L265.4 774.3L266.3 774.2L267.2 773.3L268.0 773.4L269.0 772.8L269.9 772.2L270.9 772.7L272.0 772.5L273.0 772.1L274.0 772.2L274.9 772.2L275.8 771.3L276.6 770.8L277.4 770.2L278.1 769.6L278.9 768.4L279.7 768.1L280.5 767.7L281.4 767.0L282.4 766.9L283.5 767.7L284.5 767.9L285.6 768.3L286.6 768.0L287.7 768.0L288.7 767.8L289.8 768.1L290.8 767.8L291.8 768.1L292.7 767.3L293.5 766.8L294.2 765.8L294.9 765.2L295.5 764.6L296.1 763.5L296.6 762.5L297.1 761.4L297.5 760.2L297.9 759.5L298.3 759.2L298.7 758.6L299.0 757.5L299.3 756.5L299.5 755.4L299.8 754.4L300.0 753.3L300.2 752.4L300.3 751.4L300.5 750.4L300.6 749.4L300.7 748.5L300.8 747.5L300.9 746.5L301.0 745.5L301.1 744.5L301.2 743.6L301.3 742.6L301.4 741.6L301.4 740.6L301.5 739.6L301.5 738.6L301.5 737.5L301.6 736.5L301.6 735.5L301.6 734.5L301.6 733.5L301.7 732.4L301.7 731.4L301.7 730.4L301.7 729.4L301.8 728.3L301.8 727.3L301.8 726.3L301.9 725.3L301.9 724.3L301.9 723.2L301.9 722.2L301.9 721.2L301.9 720.2L301.8 719.1L301.8 718.1L301.7 717.1L301.7 716.1L301.6 715.0L301.6 714.0L301.6 713.0L301.7 712.0L301.7 711.0L301.8 710.0L301.9 709.0L302.1 708.0L302.4 706.9L302.6 705.7L303.0 704.4L303.8 704.4L304.9 704.0L306.1 704.4L307.4 704.2L308.7 704.0L309.7 703.8L310.7 703.5L311.8 703.5L312.8 702.7L313.7 702.8L314.5 701.8L315.1 701.0L315.4 700.2L315.6 699.3L315.9 698.3L316.4 697.1L317.1 696.1L317.9 695.1L318.7 695.3L319.6 694.9L320.5 693.6L321.4 693.6L322.4 693.3L323.3 692.1L324.3 692.3L325.3 692.2L326.3 691.8L327.3 691.7L328.3 691.5L329.2 692.6L330.2 692.4L331.2 693.1L332.2 693.7L333.2 693.4L334.2 692.8L335.2 692.5L336.2 691.6L337.2 691.2L338.1 690.7L339.1 689.5L340.0 689.0L341.0 689.2L341.9 689.6L342.8 688.9L343.5 689.9L343.9 691.3L344.2 692.5L344.3 693.7L344.3 694.9L344.3 696.0L344.4 697.2L344.4 698.3L344.6 699.3L344.7 700.4L344.6 701.5L344.6 702.6L344.5 703.7L344.5 704.8L344.5 705.9L344.6 706.9L344.8 707.9L345.1 708.6L345.7 708.8L346.4 709.8L347.2 710.1L348.2 710.3L349.2 709.7L350.3 708.9L351.4 709.1L352.5 708.6L353.6 708.0L354.6 708.2L355.6 707.8L356.6 708.5L357.6 708.6L358.6 708.1L359.6 708.5L360.6 708.6L361.6 708.8L362.6 708.7L363.6 708.5L364.6 709.2L365.6 709.0L366.6 709.5L367.6 709.5L368.6 709.1L369.6 709.4L370.6 709.5L371.7 709.6L372.7 709.9L373.7 710.2L374.7 710.8L375.7 710.8L376.7 711.1L377.7 711.0L378.8 710.7L379.8 711.3L380.8 711.6L381.8 711.9L382.9 711.3L383.9 711.3L384.9 711.0L385.9 710.7L387.0 711.0L388.0 711.0L389.0 711.1L390.0 711.6L391.0 711.3L391.9 712.0L392.8 712.5L393.7 712.5L394.6 713.1L395.4 714.0L396.3 714.7L397.2 714.6L398.1 715.9L399.1 715.8L400.1 715.8L401.2 716.0L402.3 716.1L403.4 715.3L404.4 715.8L405.4 715.4L406.2 715.0L407.0 714.6L407.6 713.7L408.1 712.4L408.6 711.2L409.0 710.5L409.4 709.9L409.7 709.2L410.0 708.2L410.3 707.2L410.7 705.8L411.0 704.5L411.4 703.7L411.9 702.8L412.4 701.8L412.8 700.8L413.3 699.7L413.8 698.7L414.5 697.9L415.2 697.1L416.2 696.3L417.2 697.7L418.0 697.3L418.6 698.0L419.2 699.0L419.7 700.6L420.1 702.0L420.5 702.8L420.9 703.6L421.2 704.7L421.5 705.9L421.8 706.6L422.0 707.4L422.3 708.2L422.5 709.3L422.7 710.4L423.0 711.5L423.2 712.3L423.4 713.1L423.7 713.9L424.0 715.1L424.3 716.5L424.6 717.6L425.0 718.3L425.4 719.1L425.8 720.2L426.3 721.2L426.8 722.1L427.3 722.9L427.8 723.7L428.3 724.4L428.9 725.7L429.5 726.5L430.1 727.5L430.7 728.3L431.4 728.4L432.1 730.0L432.9 730.9L433.7 731.4L434.6 731.7L435.6 731.2L436.5 730.7L437.3 731.0L438.0 729.4L438.7 729.2L439.2 728.0L439.6 726.8L440.0 726.2L440.3 725.5L440.5 724.4L440.8 723.3L441.0 722.3L441.3 721.3L441.5 720.2L441.7 719.2L441.8 718.1L442.0 717.0L442.2 715.8L442.3 714.6L442.5 713.4L442.7 712.6L442.8 711.8L443.0 711.1L443.1 710.3L443.3 709.4L443.5 708.3L443.7 707.2L443.9 706.1L444.1 705.0L444.3 704.0L444.5 702.9L444.7 701.9L444.9 700.8L445.1 699.6L445.4 698.5L445.6 697.5L445.8 696.7L446.0 696.0L446.3 695.3L446.5 694.4L446.8 693.5L447.1 692.5L447.4 691.4L447.7 690.3L448.1 689.5L448.5 688.7L449.0 687.9L449.6 686.8L450.3 685.9L451.1 685.1L452.0 684.4L453.0 684.4L454.0 684.2L455.0 684.6L455.9 684.9L456.8 685.1L457.6 686.0L458.4 687.2L459.0 688.1L459.7 688.5L460.3 689.3L461.0 690.1L461.6 690.7L462.2 691.2L462.8 691.8L463.4 693.1L464.0 694.5L464.6 695.7L465.2 696.7L465.9 697.4L466.6 697.6L467.2 698.2L468.0 698.4L468.7 699.9L469.5 700.2L470.2 701.0L471.0 701.6L471.8 702.3L472.6 702.8L473.4 704.3L474.3 704.3L475.1 704.9L476.0 705.7L476.9 706.3L477.8 706.9L478.8 707.1L479.7 707.1L480.6 707.4L481.6 708.1L482.5 708.4L483.5 708.5L484.4 709.5L485.4 709.8L486.4 710.7L487.3 709.9L488.3 710.3L489.3 710.5L490.3 711.0L491.3 711.3L492.3 711.6L493.2 711.8L494.2 712.8L495.2 712.5L496.2 712.6L497.2 712.8L498.2 713.4L499.2 713.3L500.2 713.6L501.2 713.7L502.2 714.1L503.1 713.8L504.1 714.1L505.1 714.5L506.1 714.9L507.1 714.5L508.1 715.3L509.1 715.4L510.1 715.3L511.1 715.5L512.1 715.5L513.1 715.6L514.1 716.0L515.1 716.1L516.1 715.8L517.1 716.1L518.1 716.5L519.1 716.2L520.1 716.5L521.1 716.5L522.1 716.6L523.1 716.8L524.1 716.5L525.1 717.0L526.1 717.2L527.1 717.3L528.1 717.6L529.1 717.6L530.1 717.4L531.1 717.6L532.1 717.6L533.1 717.9L534.1 718.2L535.1 718.2L536.1 718.4L537.1 718.4L538.1 718.1L539.1 718.3L540.1 718.7L541.2 718.9L542.2 718.8L543.2 719.0L544.2 718.8L545.2 718.7L546.2 719.3L547.2 719.0L548.2 718.6L549.2 718.9L550.2 719.0L551.2 719.0L552.2 719.4L553.2 719.7L554.2 719.5L555.2 720.2L556.2 720.0L557.2 720.1L558.2 719.8L559.2 720.2L560.2 719.8L561.2 720.1L562.3 720.4L563.3 720.0L564.3 720.6L565.3 720.3L566.3 720.2L567.3 720.6L568.3 720.5L569.3 719.8L570.3 720.7L571.3 721.0L572.3 721.0L573.3 720.8L574.3 720.4L575.3 721.2L576.3 721.1L577.3 721.6L578.4 721.1L579.4 721.4L580.4 721.6L581.4 721.3L582.4 721.4L583.4 721.6L584.4 721.3L585.4 721.2L586.4 721.9L587.4 722.0L588.4 721.5L589.4 722.1L590.4 721.7L591.4 721.7L592.4 722.2L593.4 722.1L594.4 722.4L595.4 722.1L596.4 722.7L597.4 722.2L598.4 722.8L599.4 722.6L600.4 722.6L601.4 722.9L602.4 722.5L603.4 722.5L604.4 723.3L605.5 722.6L606.5 722.6L607.5 722.7L608.5 722.7L609.5 722.5L610.5 723.4L611.5 723.1L612.5 723.0L613.5 723.6L614.5 723.1L615.5 723.2L616.5 723.0L617.5 723.5L618.5 722.8L619.5 723.9L620.5 723.2L621.5 722.9L622.6 723.4L623.6 722.7L624.6 722.6L625.6 722.7L626.7 722.1L627.7 722.3L628.7 721.7L629.7 721.4L630.7 721.7L631.8 721.4L632.8 721.0L633.8 721.0L634.9 721.5L635.9 721.9L636.9 722.0L637.9 722.5L639.0 722.4L640.0 722.6L641.0 723.1L642.0 723.7L643.1 722.8L644.1 723.6L645.1 723.0L646.1 722.3L647.1 722.2L648.1 722.2L649.0 721.7L650.0 721.9L651.0 721.4L652.0 722.1L652.8 722.7L653.7 723.0L654.5 723.6L655.3 724.1L656.1 725.0L656.9 726.0L657.8 726.3L658.6 726.7L659.6 727.1L660.6 727.1L661.6 726.4L662.6 727.5L663.7 727.3L664.7 727.2L665.7 727.3L666.8 726.4L667.8 726.6L668.9 726.6L669.9 726.5L670.9 726.4L672.0 726.7L673.0 726.5L674.0 726.6L675.0 726.5L675.9 727.1L676.9 727.3L677.8 727.8L678.7 728.4L679.7 728.8L680.6 729.9L681.6 729.0L682.6 729.8L683.6 729.8L684.6 728.8L685.6 728.3L686.5 728.6L687.4 728.0L688.3 727.6L689.2 726.8L690.0 726.1L690.8 725.1L691.4 723.3L691.7 722.6L692.3 721.5L692.9 720.9L693.9 720.7L694.5 721.9L694.9 722.7L695.1 723.6L695.3 724.6L695.3 725.7L695.3 726.8L695.2 727.8L695.1 729.0L695.0 730.1L694.9 731.2L694.9 732.3L694.9 733.3L695.0 734.3L695.0 735.3L695.0 736.3L695.1 737.2L695.1 738.2L695.1 739.2L695.1 740.2L695.1 741.2L695.2 742.2L695.2 743.2L695.2 744.2L695.2 745.2L695.2 746.2L695.2 747.2L695.3 748.2L695.3 749.2L695.3 750.2L695.3 751.2L695.3 752.3L695.3 753.3L695.4 754.3L695.4 755.3L695.4 756.3L695.4 757.4L695.4 758.4L695.4 759.4L695.4 760.4L695.4 761.4L695.3 762.4L695.3 763.4L695.2 764.4L695.2 765.4L695.2 766.5L695.2 767.5L695.2 768.5L695.2 769.6L695.2 770.6L695.3 771.6L695.4 772.7L695.5 773.8L695.6 774.9L695.8 776.0L696.0 777.2L696.3 777.9L696.8 778.6L697.4 779.8L698.2 780.5L699.0 781.7L700.0 781.7L700.9 782.7L701.9 782.4L702.9 783.1L703.8 783.1L704.9 783.1L705.9 783.2L706.9 783.2L708.0 783.5L709.0 783.3L710.0 783.4L711.1 783.3L712.1 782.9L713.1 782.8L714.2 782.2L715.2 782.7L716.2 782.0L717.3 782.6L718.3 783.1L719.3 782.6L720.4 782.5L721.4 782.5L722.4 782.4L723.4 782.4L724.5 781.7L725.5 782.1L726.5 781.8L727.5 781.1L728.5 781.5L729.5 780.7L730.4 780.6L731.4 780.5L732.3 779.8L733.3 779.5L734.3 779.4L735.2 779.0L736.2 778.4L737.1 777.7L738.1 778.0L739.0 777.3L740.0 776.9L741.0 777.1L742.0 776.9L743.0 776.9L744.0 776.5L745.0 776.2L746.1 776.3L747.1 776.2L748.1 776.2L749.1 776.3L750.2 776.3L751.2 776.1L752.2 776.0L753.3 776.1L754.3 775.7L755.3 776.2L756.3 776.2L757.3 775.9L758.3 775.9L759.3 775.8L760.3 775.9L761.3 775.0L762.3 774.7L763.2 774.3L764.1 774.0L765.0 773.4L765.8 772.7L766.7 772.2L767.5 772.5L768.3 771.1L769.1 770.3L769.9 769.7L770.7 769.4L771.6 769.2L772.4 768.0L773.2 767.9L774.1 767.2L775.0 766.1L775.8 765.7L776.7 765.3L777.6 765.3L778.4 764.2L779.3 764.3L780.2 763.2L781.0 762.4L781.9 762.1L782.8 761.9L783.7 761.1L784.5 761.0L785.4 760.2L786.3 759.8L787.3 759.1L788.2 759.0L789.1 758.5L790.0 757.8L791.0 757.8L791.9 757.4L792.9 757.0L793.8 756.7L794.8 756.5L795.7 755.9L796.7 755.8L797.7 755.1L798.7 755.3L799.7 754.8L800.6 754.8L801.6 754.7L802.6 754.9L803.6 754.6L804.6 754.4L805.6 753.5L806.6 753.3L807.6 753.7L808.6 753.4L809.6 753.3L810.7 752.6L811.7 753.3L812.7 753.4L813.7 752.6L814.7 752.1L815.7 752.4L816.8 752.4L817.8 752.4L818.8 752.5L819.8 752.7L820.8 752.3L821.9 752.1L822.9 752.3L823.9 752.5L824.9 752.2L825.9 752.1L826.9 752.0L827.9 752.9L828.9 752.0L829.9 751.7L830.9 751.6L831.9 751.9L832.9 752.4L833.9 752.2L834.9 752.2L835.9 752.7L836.9 753.0L837.9 751.5L838.9 752.4L839.9 752.3L841.0 752.0L842.0 752.2L843.0 752.5L844.0 752.5L845.0 752.3L846.0 752.3L847.0 752.4L848.0 752.9L849.0 752.7L850.0 752.5L851.0 752.6L852.0 752.5L853.0 752.8L854.0 752.8L855.0 752.1L856.0 752.9L857.0 752.2L858.0 752.5L859.0 752.4L860.0 752.3L861.0 751.8L862.0 751.9L863.0 752.3L864.0 751.4L865.0 751.7L866.0 752.2L867.0 751.7L868.0 751.8L869.0 751.2L870.0 751.7L871.0 751.4L872.0 751.7L873.0 752.3L874.0 751.5L875.0 751.6L876.0 750.9L877.0 751.8L878.0 752.0L879.0 751.8L880.0 751.4L881.0 751.4L882.1 752.3L883.1 752.1L884.1 752.1L885.1 752.3L886.1 752.9L887.1 752.7L888.2 752.5L889.2 752.6L890.2 752.6L891.2 752.8L892.2 753.3L893.2 753.1L894.2 753.9L895.2 754.0L896.3 754.1L897.3 754.3L898.3 753.8L899.3 754.3L900.3 754.4L901.3 754.4L902.3 754.5L903.3 754.6L904.4 755.0L905.4 755.0L906.4 754.8L907.4 755.0L908.4 754.9L909.4 755.3L910.4 755.0L911.4 755.5L912.4 755.3L913.5 755.4L914.5 755.0L915.5 755.3L916.5 755.8L917.5 755.9L918.5 755.7L919.5 756.2L920.5 756.1L921.5 755.9L922.6 755.1L923.6 755.7L924.6 755.7L925.6 756.0L926.6 755.5L927.6 755.5L928.6 755.8L929.7 755.1L930.7 754.6L931.7 755.3L932.7 755.0L933.7 755.0L934.7 754.9L935.7 754.4L936.8 754.5L937.8 754.4L938.8 754.0L939.8 754.1L940.8 754.3L941.8 754.5L942.9 753.6L943.9 753.5L944.9 753.7L945.9 754.0L946.9 753.9L947.9 753.8L948.9 753.2L949.9 753.7L950.9 753.9L951.9 754.1L952.9 754.6L953.9 754.3L955.0 754.7L956.0 754.6L957.0 754.6L958.0 754.8L959.0 755.1L960.0 755.0L961.0 755.5L962.0 755.2L963.0 755.4L964.1 755.2L965.1 755.4L966.1 755.0L967.1 754.8L968.2 754.3L969.2 754.6L970.2 754.2L971.3 754.2L972.3 754.7L973.3 753.9L974.4 753.4L975.4 753.7L976.4 753.8L977.4 753.6L978.4 753.7L979.4 754.5L980.4 754.5L981.4 754.1L982.4 754.1L983.4 754.5L984.4 754.7L985.4 755.1L986.3 754.3L987.3 754.9L988.3 755.5L989.3 754.5L990.3 755.7L991.3 755.7L992.3 756.0L993.3 756.1L994.3 755.8L995.3 755.4L996.3 755.8L997.3 756.4L998.3 756.4L999.3 755.6L1000.3 755.4L1001.3 755.0L1002.3 755.7L1003.3 755.5L1004.3 755.5L1005.3 755.1L1006.3 755.0L1007.3 755.1L1008.3 754.4L1009.3 755.1L1010.3 754.4L1011.3 755.1L1012.3 755.0L1013.3 754.5L1014.3 755.0L1015.3 754.7L1016.3 754.6L1017.3 755.7L1018.3 755.6L1019.3 755.8L1020.3 756.2L1021.4 755.9L1022.4 756.1L1023.4 756.3L1024.4 756.7L1025.4 757.0L1026.4 757.1L1027.4 756.9L1028.4 756.4L1029.4 756.7L1030.4 756.8L1031.4 756.2L1032.5 756.5L1033.5 756.5L1034.5 756.4L1035.5 756.6L1036.5 755.6L1037.5 756.0L1038.5 756.2L1039.5 755.1L1040.5 755.1L1041.5 754.9L1042.4 754.2L1043.3 754.1L1044.2 753.3L1045.1 752.2L1046.0 751.9L1046.8 752.2L1047.6 751.4L1048.4 749.4L1049.1 748.8L1049.8 748.4L1050.6 747.3L1051.4 746.8L1052.3 746.5L1053.3 747.2L1054.1 747.4L1054.8 747.7L1055.4 748.8L1055.9 749.9L1056.4 750.9L1056.9 751.8L1057.3 753.1L1057.9 754.0L1058.5 754.4L1059.1 754.9L1059.6 756.6L1060.2 757.5L1060.8 758.2L1061.4 759.0L1062.2 759.6L1063.0 760.0L1064.0 760.2L1064.9 759.9L1065.7 759.2L1066.4 758.3L1067.1 757.4L1067.8 755.9L1068.6 755.4L1069.5 754.3L1070.5 754.9L1071.4 755.1L1072.3 755.7L1073.1 756.4L1073.8 756.7L1074.6 758.1L1075.3 758.4L1076.2 759.3L1077.0 759.8L1078.0 760.3L1079.0 760.4L1080.0 760.1L1081.0 760.6L1082.0 759.9L1083.0 760.1L1084.0 759.9L1085.0 760.0L1086.0 760.8L1086.9 761.7L1087.7 761.8L1088.6 762.1L1089.4 762.5L1090.3 763.3L1091.1 764.2L1092.1 764.7L1093.0 764.8L1094.0 764.8L1095.0 765.2L1096.0 765.0L1097.0 765.0L1098.0 765.0L1099.0 765.3L1100.1 765.4L1101.1 765.6L1102.1 764.8L1103.1 765.9L1104.1 765.4L1105.2 765.5L1106.2 765.3L1107.2 764.8L1108.2 764.7L1109.2 764.6L1110.3 764.9L1111.3 764.9L1112.3 764.8L1113.3 765.1L1114.3 765.3L1115.3 765.5L1116.3 764.9L1117.3 764.9L1118.3 765.0L1119.3 765.5L1120.3 765.5L1121.3 765.5L1122.3 764.5L1123.3 765.0L1124.3 765.3L1125.3 765.1L1126.3 765.3L1127.3 765.8L1128.3 765.4L1129.3 765.0L1130.3 765.5L1131.3 765.6L1132.3 765.4L1133.3 765.3L1134.3 766.0L1135.3 765.1L1136.3 765.8L1137.3 765.4L1138.3 765.5L1139.3 765.3L1140.3 765.0L1141.3 765.4L1142.3 765.6L1143.3 765.1L1144.3 764.8L1145.3 764.7L1146.4 764.8L1147.4 765.1L1148.4 765.0L1149.4 764.6L1150.4 764.7L1151.4 764.7L1152.4 764.2L1153.4 763.9L1154.4 763.5L1155.4 763.0L1156.4 763.4L1157.4 763.1L1158.4 762.7L1159.5 762.6L1160.5 762.8L1161.5 763.0L1162.5 762.4L1163.5 762.5L1164.5 762.6L1165.5 762.8L1166.5 763.4L1167.5 763.1L1168.5 763.4L1169.5 763.7L1170.5 763.7L1171.5 763.8L1172.5 764.5L1173.5 764.5L1174.5 764.5L1175.5 764.2L1176.5 764.7L1177.5 764.1L1178.5 764.4L1179.5 764.4L1180.5 765.0L1181.6 764.0L1182.6 764.2L1183.6 764.1L1184.6 763.4L1185.6 763.6L1186.6 763.5L1187.6 763.4L1188.6 763.2L1189.6 763.6L1190.6 763.4L1191.7 763.0L1192.7 762.9L1193.7 762.7L1194.7 762.8L1195.7 762.7L1196.7 762.5L1197.7 762.5L1198.7 762.6L1199.7 762.7L1200.7 762.5L1201.8 762.2L1202.8 762.1L1203.8 762.0L1204.8 762.6L1205.8 762.6L1206.8 762.1L1207.8 762.4L1208.8 762.0L1209.8 762.7L1210.8 762.8L1211.8 762.8L1212.7 763.0L1213.7 763.1L1214.7 762.9L1215.7 763.3L1216.7 763.6L1217.7 763.8L1218.7 763.9L1219.6 764.0L1220.6 764.9L1221.6 764.7L1222.6 764.1L1223.6 764.8L1224.6 765.3L1225.6 765.4L1226.6 765.6L1227.6 765.6L1228.6 765.7L1229.6 765.2L1230.6 765.7L1231.6 766.1L1232.6 766.2L1233.6 765.9L1234.6 766.3L1235.7 766.3L1236.7 766.2L1237.7 766.4L1238.7 766.7L1239.7 766.9L1240.7 766.7L1241.7 766.5L1242.7 766.1L1243.8 766.5L1244.8 766.5L1245.8 766.7L1246.9 766.3L1247.9 766.0L1248.9 766.2L1250.0 766.1L1251.0 765.6L1252.0 765.5L1253.1 766.1L1254.1 766.5L1255.1 766.0L1256.1 766.1L1257.1 765.9L1258.1 766.2L1259.1 766.1L1260.1 766.6L1261.1 766.8L1262.2 767.1L1263.2 767.0L1264.1 767.0L1265.1 767.9L1266.1 767.0L1267.1 767.2L1268.1 768.3L1269.1 767.7L1270.1 768.9L1271.1 768.9L1272.0 768.9L1273.0 769.9L1274.0 770.1L1274.9 770.7L1275.9 770.8L1276.8 771.6L1277.8 772.0L1278.8 772.7L1279.8 772.7L1280.8 772.0L1281.8 772.7L1282.7 771.9L1283.6 771.6L1284.5 771.1L1285.4 770.1L1286.4 770.2L1287.3 769.5L1288.3 769.2L1289.3 769.3L1290.3 769.2L1291.4 769.0L1292.4 769.5L1293.4 769.4L1294.4 769.4L1295.4 769.2L1296.4 770.0L1297.5 770.4L1298.5 770.1L1299.5 769.8L1300.5 769.5L1301.5 770.0L1302.5 770.5L1303.5 770.4L1304.6 770.6L1305.6 770.7L1306.6 770.8L1307.6 770.8L1308.6 770.9L1309.6 770.6L1310.6 771.4L1311.6 771.7L1312.6 771.4L1313.6 771.1L1314.6 771.5L1315.6 771.8L1316.6 772.8L1317.6 772.9L1318.6 772.1L1319.6 772.6L1320.6 772.5L1321.6 772.9L1322.6 772.9L1323.6 772.8L1324.6 773.5L1325.6 773.6L1326.6 772.8L1327.6 772.8L1328.6 772.9L1329.6 773.4L1330.6 773.3L1331.6 773.3L1332.6 773.4L1333.6 773.7L1334.6 773.4L1335.6 773.0L1336.6 773.4L1337.6 773.3L1338.6 773.2L1339.6 773.2L1340.6 773.1L1341.6 773.5L1342.6 773.6L1343.6 773.6L1344.6 772.6L1345.6 773.7L1346.6 773.4L1347.6 773.8L1348.6 773.7L1349.6 773.4L1350.6 773.7L1351.6 774.1L1352.6 774.4L1353.6 774.7L1354.6 774.3L1355.6 775.0L1356.5 775.2L1357.5 776.7L1358.4 776.6L1359.4 777.3L1360.4 777.4L1361.3 777.2L1362.3 777.6L1363.3 778.4L1364.3 778.2L1365.3 778.1L1366.3 777.7L1367.2 777.7L1368.1 777.3L1369.0 777.1L1369.9 776.0L1370.8 775.6L1371.7 775.3L1372.6 775.1L1373.5 774.7L1374.3 774.3L1375.2 773.2L1376.1 772.4L1377.0 771.5L1377.9 771.3L1378.7 771.3L1379.6 771.0L1380.5 770.1L1381.4 769.4L1382.3 769.5L1383.2 769.3L1384.1 768.6L1385.0 768.1L1385.9 767.3L1386.8 767.1L1387.7 766.8L1388.7 766.4L1389.7 766.0L1390.6 765.8L1391.6 765.4L1392.5 765.0L1393.5 764.6L1394.5 764.2L1395.5 763.6L1396.5 764.1L1397.5 764.2L1398.5 763.9L1399.4 764.5L1400.3 765.1L1401.1 765.8L1401.9 767.1L1402.7 767.0L1403.5 767.5L1404.3 768.2L1405.1 769.2L1405.8 770.0L1406.5 771.1L1407.2 771.5L1407.9 773.0L1408.6 773.8L1409.4 775.2L1410.2 775.4L1411.0 775.4L1412.0 775.6L1413.0 775.3L1413.9 775.1L1414.7 774.0L1415.3 773.7L1416.0 771.9L1416.5 771.5L1417.1 771.1L1417.6 770.6L1418.2 769.1L1418.9 768.0L1419.6 767.8L1420.5 766.8L1421.7 766.0L1422.9 766.1L1424.0 766.5L1424.5 767.3L1425.0 768.4L1425.3 769.3L1425.6 770.1L1425.9 771.1L1426.1 772.2L1426.3 773.3L1426.5 774.3L1426.7 775.2L1426.9 776.0L1427.1 776.8L1427.3 777.7L1427.5 779.2L1427.8 780.9L1428.2 781.9L1428.6 782.0L1429.2 782.9L1429.8 784.4L1430.7 785.6L1431.5 785.8L1432.5 786.6L1433.4 786.8L1434.3 785.9L1435.1 785.3L1435.8 784.4L1436.3 783.2L1436.9 782.9L1437.3 781.9L1437.8 780.6L1438.2 779.7L1438.7 778.6L1439.1 777.3L1439.7 776.8L1440.3 776.5L1441.0 776.0L1441.9 775.5L1442.9 774.9L1444.1 775.1L1445.3 775.5L1446.4 775.2L1447.4 776.0L1448.1 778.0L1448.8 778.5L1449.4 778.4L1449.9 778.8L1450.4 780.9L1450.9 781.7L1451.3 782.4L1451.8 782.9L1452.2 783.8L1452.6 785.1L1453.0 786.1L1453.4 786.9L1453.9 787.7L1454.3 788.6L1454.8 789.6L1455.3 790.6L1455.9 791.6L1456.5 792.7L1457.1 793.1L1457.7 793.2L1458.4 794.2L1459.0 795.4L1459.7 796.1L1460.3 797.4L1460.9 798.2L1461.6 799.8L1462.2 800.1L1462.8 799.8L1463.4 800.3L1464.1 802.0L1464.7 803.0L1465.3 803.7L1466.0 804.2L1466.6 804.8L1467.3 805.4L1467.9 806.1L1468.6 807.1L1469.3 807.4L1469.9 808.8L1470.6 810.0L1471.2 811.0L1471.9 812.1L1472.6 812.6L1473.3 812.8L1474.0 813.4L1474.8 813.8L1475.7 814.8L1476.6 815.1L1477.7 814.9L1478.8 815.0L1479.9 814.7L1480.9 814.2L1481.8 813.5L1482.7 813.6L1483.5 812.3L1484.3 811.2L1485.0 810.8L1485.8 810.0L1486.6 809.7L1487.4 809.1L1488.2 808.4L1489.0 807.9L1489.9 807.1L1490.7 806.6L1491.5 805.9L1492.3 805.5L1493.1 805.1L1494.0 804.0L1494.8 802.9L1495.6 802.9L1496.5 801.8L1497.3 801.6L1498.1 801.6L1499.0 800.9L1499.8 799.9L1500.6 799.7L1501.5 799.5L1502.3 799.0L1503.2 798.1L1504.1 797.4L1504.9 796.9L1505.8 796.2L1506.7 796.4L1507.5 795.4L1508.4 794.8L1509.3 794.7L1510.2 794.2L1511.1 793.6L1512.0 793.6L1513.0 792.5L1513.9 792.3L1514.8 792.2L1515.7 790.7L1516.7 791.1L1517.6 790.3L1518.5 790.8L1519.5 790.2L1520.4 788.8L1521.4 789.6L1522.3 790.2L1523.3 790.3L1524.2 787.9L1525.2 787.6L1526.1 787.2L1527.1 786.6L1528.1 787.3L1529.0 787.9L1530.0 786.5L1531.0 785.6L1532.0 784.9L1532.9 784.7L1533.9 784.2L1534.9 784.8L1535.9 783.5L1536.9 784.5L1537.9 783.5L1538.9 783.5L1539.9 783.4L1540.9 782.9L1541.9 783.3L1542.9 781.1L1543.9 782.7L1544.9 783.9L1545.9 782.9L1546.9 781.7L1547.9 782.6L1548.9 782.0L1549.9 782.6L1550.9 782.1L1552.0 782.0L1553.0 783.3L1554.0 784.8L1555.0 782.3L1556.0 781.9L1557.0 783.0L1558.0 782.7L1559.0 783.2L1560.0 782.3L1561.0 782.2L1562.0 780.9L1563.0 780.7L1564.0 782.8L1565.0 780.7L1566.0 781.1L1567.0 781.5L1568.0 780.3L1569.1 779.4L1570.1 780.2L1571.1 779.9L1572.1 778.1L1573.1 780.5L1574.1 780.7L1575.1 781.1L1576.1 778.8L1577.1 781.4L1578.2 777.6L1579.2 779.2L1580.3 778.7L1581.3 779.3L1582.3 780.8L1583.4 778.0L1584.4 778.5L1585.4 779.3L1586.5 780.1L1587.5 778.8L1588.5 780.4L1589.4 778.8L1590.2 778.0L1591.0 776.8L1591.8 777.5L1592.7 777.2L1593.7 778.0L1594.7 776.1L1595.7 774.7L1596.7 775.4L1597.7 777.2L1598.8 774.3L1599.8 778.5L1600.8 778.7L1601.8 776.0L1602.8 775.0L1603.8 775.2L1604.9 775.8L1605.9 775.6L1606.9 776.9L1607.9 776.5L1608.9 776.2L1609.9 776.9L1610.9 780.0L1611.9 776.3L1612.8 779.0L1613.7 779.5L1614.6 781.2L1615.6 780.9L1616.5 780.4L1617.4 781.2L1618.4 782.9L1619.4 780.9L1620.4 780.3L1621.4 783.6L1622.5 779.9L1623.5 782.6L1624.5 782.8L1625.5 780.3L1626.6 783.4L1627.6 781.7L1628.6 779.4L1629.6 779.8L1630.6 784.8L1631.5 780.5L1632.5 782.7L1633.5 785.5L1634.4 787.8L1635.4 782.1L1636.3 785.3L1637.3 784.7L1638.3 783.8L1639.3 786.1L1640.3 787.3L1641.3 787.7L1642.4 785.2L1643.4 786.1L1644.4 787.0L1645.5 785.8L1646.5 787.6L1647.5 786.5L1648.6 785.6L1649.6 785.8L1650.6 786.3L1651.7 786.7L1652.7 786.3L1653.7 786.5L1654.7 784.0L1655.8 784.3L1656.8 788.9L1657.8 783.3L1658.8 784.9L1659.8 789.4L1660.9 783.8L1661.9 786.4L1662.9 789.7L1663.9 788.2L1664.9 787.6L1666.0 787.7L1667.0 785.8L1668.0 788.4L1669.0 785.8L1670.0 788.1L1671.0 787.3L1672.1 788.1L1673.1 789.9L1674.1 783.7L1675.1 785.0L1676.1 786.7L1677.1 790.6L1678.2 787.7L1679.2 784.6L1680.2 784.6L1681.2 787.5L1682.2 785.5L1683.2 787.2L1684.2 787.9L1685.2 787.7L1686.2 784.2L1687.2 786.9L1688.2 787.7L1689.2 780.7L1690.2 784.9L1691.2 787.1L1692.2 786.4L1693.2 783.2L1694.2 782.1L1695.2 783.1L1696.2 784.2L1697.2 779.0L1698.2 784.1L1699.2 786.8L1700.2 784.6L1701.2 786.9L1702.2 783.7L1703.2 778.3L1704.2 783.3L1705.2 781.5L1706.2 782.1L1707.2 781.1L1708.3 782.5L1709.3 779.5L1710.3 783.6L1711.4 785.2L1712.4 781.5L1713.4 780.0L1714.4 779.8L1715.5 783.3L1716.5 779.8L1717.5 779.7L1718.5 779.5L1719.4 782.6L1720.1 781.5L1720.4 780.7L1720.6 782.0L1720.9 783.9L1721.2 785.7L1721.9 784.2L1722.8 789.4L1723.6 786.1L1724.4 787.0L1725.1 784.6L1725.8 786.3L1726.4 783.9L1727.0 782.4L1727.5 782.0L1728.1 782.2L1728.7 780.6L1729.4 777.9L1730.2 780.2L1731.0 777.7L1731.9 774.0L1732.9 777.0L1733.9 778.1L1734.9 778.1L1735.9 777.6L1736.9 776.1L1737.9 779.8L1738.9 777.5L1739.9 776.1L1740.9 778.8L1741.9 778.0L1742.9 778.4L1743.9 779.8L1744.9 778.1L1746.0 780.8L1747.0 780.2L1748.0 781.1L1749.0 779.4L1750.0 779.4L1751.0 780.9L1752.0 781.1L1753.0 781.6L1754.0 778.4L1755.0 782.6L1756.0 782.5L1757.0 778.5L1758.0 780.1L1759.0 778.8L1760.0 776.7L1761.0 784.7L1762.0 779.0L1763.0 781.0L1763.9 780.1L1764.9 784.1L1765.8 787.5L1766.8 783.8L1767.7 786.0L1768.6 788.6L1769.6 786.4L1770.5 785.0L1771.5 783.6L1772.4 784.0L1773.4 786.1L1774.3 784.4L1775.3 789.5L1776.2 785.8L1777.2 786.7L1778.1 785.9L1779.1 786.2L1780.0 783.4L1781.0 782.9L1782.0 780.9L1783.0 789.5L1784.0 791.5L1785.0 783.3L1786.0 792.2L1787.0 785.9L1788.0 786.3L1789.0 783.5L1790.0 782.2L1791.0 789.2L1792.0 793.8L1793.0 789.2L1794.0 786.5L1795.0 781.4L1796.0 796.1L1797.0 791.8L1798.0 794.8L1799.0 788.6L1800.0 790.6L1801.0 788.9L1802.0 784.3L1803.0 788.4L1804.0 794.0L1805.0 790.7L1806.0 790.1L1807.0 791.5L1808.0 794.4L1809.0 788.8L1810.0 789.6L1811.0 792.0L1812.0 784.4L1813.0 787.3L1814.0 791.1L1815.0 787.7L1816.0 789.3L1817.1 796.6L1818.1 792.4L1819.1 789.9L1820.1 790.4L1821.0 782.3L1822.0 792.3L1823.0 784.9L1823.9 793.4L1824.8 791.5L1825.7 796.5L1826.6 791.0L1827.5 789.2L1828.4 790.8L1829.3 803.6L1830.2 786.3L1831.1 791.9L1832.0 802.9L1833.0 788.1L1834.0 788.7L1835.0 792.8L1835.9 786.9L1836.9 788.6L1838.0 789.2L1839.0 793.1L1840.0 793.5L1841.0 795.2L1842.0 797.7L1843.0 799.0L1844.0 794.2L1845.0 795.4L1846.0 791.1L1847.1 797.6L1848.1 810.9L1849.1 804.4L1850.1 798.5L1851.1 801.5L1852.0 792.6L1853.0 795.6L1853.9 797.5L1854.8 810.8L1855.7 810.3L1856.5 805.8L1857.4 811.3L1858.2 803.2L1859.1 800.3L1859.9 816.2L1860.8 804.6L1861.6 821.1L1862.5 813.5L1863.5 807.7L1864.4 815.5L1865.4 813.8L1866.4 807.4L1867.5 825.9L1868.5 799.4L1869.5 799.7L1870.5 811.0L1871.5 828.8L1872.5 812.8L1873.5 811.2L1874.5 804.4L1875.5 796.8L1876.5 797.7L1877.5 815.3L1878.5 807.2L1879.6 813.1L1880.6 809.8L1881.6 796.8L1882.5 812.6L1883.5 803.1L1884.5 794.6"/>
</g>
<g id="ylabels" class="tick" text-anchor="end">
<text x="186.0" y="1405.0">0</text>
<text x="186.0" y="1136.7">20</text>
<text x="186.0" y="868.4">40</text>
<text x="186.0" y="600.1">60</text>
<text x="186.0" y="331.8">80</text>
<text x="186.0" y="63.5">100</text>
</g>
<g id="xlabels" class="tick" text-anchor="middle">
<text x="432.3" y="1465.0">500</text>
<text x="795.4" y="1465.0">1000</text>
<text x="1158.4" y="1465.0">1500</text>
<text x="1521.5" y="1465.0">2000</text>
<text x="1884.5" y="1465.0">2500</text>
</g>
<text class="title" text-anchor="middle" x="1051.0" y="1588.6" style="letter-spacing:0px">Wavelength/nm</text>
<text class="title" text-anchor="middle" transform="translate(82.6 683.0) rotate(-90)" style="letter-spacing:0px">Abs./%</text>
<g id="legend">
<line x1="1220.75" y1="124.50" x2="1360.25" y2="124.50" stroke="#515151" stroke-width="9.50" stroke-linecap="round" shape-rendering="crispEdges"/>
<text class="legend" x="1393.0" y="150.1" style="letter-spacing:0px">MOF-801</text>
<line x1="1220.75" y1="210.00" x2="1360.25" y2="210.00" stroke="#f14040" stroke-width="9.50" stroke-linecap="round" shape-rendering="crispEdges"/>
<text class="legend" x="1393.0" y="235.6" style="letter-spacing:0px">MOF-801/CNT</text>
<line x1="1220.75" y1="295.50" x2="1360.25" y2="295.50" stroke="#1a6fdf" stroke-width="9.50" stroke-linecap="round" shape-rendering="crispEdges"/>
<text class="legend" x="1393.0" y="321.1" style="letter-spacing:0px">MOF-801/G</text>
<line x1="1220.75" y1="381.00" x2="1360.25" y2="381.00" stroke="#37ad6b" stroke-width="9.50" stroke-linecap="round" shape-rendering="crispEdges"/>
<text class="legend" x="1393.0" y="406.6" style="letter-spacing:0px">MOF-801/CB</text>
</g>
</svg>
</body>
</html>
